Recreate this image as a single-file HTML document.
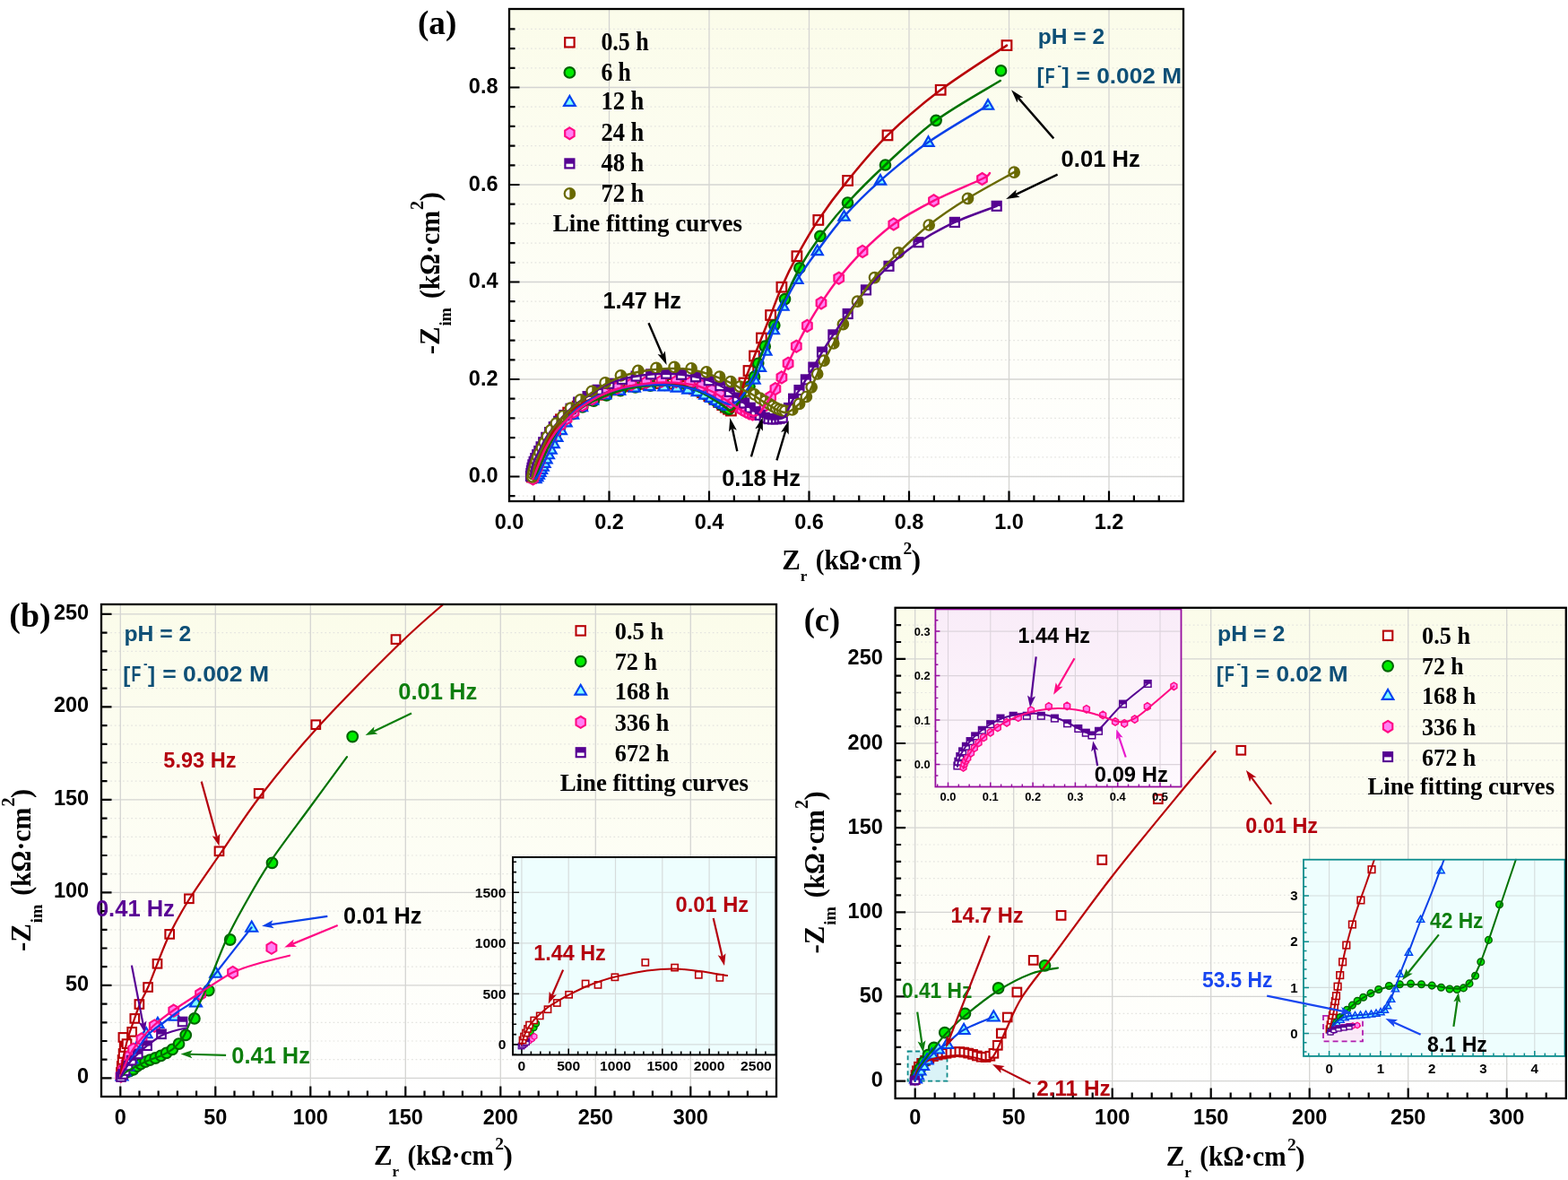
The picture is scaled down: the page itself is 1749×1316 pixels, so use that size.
<!DOCTYPE html><html><head><meta charset="utf-8"><title>EIS Nyquist plots</title><style>html,body{margin:0;padding:0;background:#fff;overflow:hidden}svg{display:block}</style></head><body><svg width="1749" height="1316" viewBox="0 0 1749 1316"><defs><linearGradient id="bgA" x1="0" y1="0" x2="0" y2="1"><stop offset="0" stop-color="#FBFCEA"/><stop offset="1" stop-color="#FFFFFF"/></linearGradient><linearGradient id="bgP" x1="0" y1="0" x2="0" y2="1"><stop offset="0" stop-color="#F9ECF8"/><stop offset="1" stop-color="#FEF9FE"/></linearGradient></defs><rect width="1749" height="1316" fill="#fff"/><g id="panel-a">
<rect x="568" y="10" width="752" height="549" fill="url(#bgA)"/>
<line x1="569" y1="553.2" x2="1319" y2="553.2" stroke="#E4E4E0" stroke-width="1.2" stroke-dasharray="1.7,2.9"/>
<line x1="569" y1="509.8" x2="1319" y2="509.8" stroke="#E4E4E0" stroke-width="1.2" stroke-dasharray="1.7,2.9"/>
<line x1="569" y1="488.1" x2="1319" y2="488.1" stroke="#E4E4E0" stroke-width="1.2" stroke-dasharray="1.7,2.9"/>
<line x1="569" y1="466.4" x2="1319" y2="466.4" stroke="#E4E4E0" stroke-width="1.2" stroke-dasharray="1.7,2.9"/>
<line x1="569" y1="444.7" x2="1319" y2="444.7" stroke="#E4E4E0" stroke-width="1.2" stroke-dasharray="1.7,2.9"/>
<line x1="569" y1="401.3" x2="1319" y2="401.3" stroke="#E4E4E0" stroke-width="1.2" stroke-dasharray="1.7,2.9"/>
<line x1="569" y1="379.6" x2="1319" y2="379.6" stroke="#E4E4E0" stroke-width="1.2" stroke-dasharray="1.7,2.9"/>
<line x1="569" y1="357.9" x2="1319" y2="357.9" stroke="#E4E4E0" stroke-width="1.2" stroke-dasharray="1.7,2.9"/>
<line x1="569" y1="336.2" x2="1319" y2="336.2" stroke="#E4E4E0" stroke-width="1.2" stroke-dasharray="1.7,2.9"/>
<line x1="569" y1="292.8" x2="1319" y2="292.8" stroke="#E4E4E0" stroke-width="1.2" stroke-dasharray="1.7,2.9"/>
<line x1="569" y1="271.1" x2="1319" y2="271.1" stroke="#E4E4E0" stroke-width="1.2" stroke-dasharray="1.7,2.9"/>
<line x1="569" y1="249.4" x2="1319" y2="249.4" stroke="#E4E4E0" stroke-width="1.2" stroke-dasharray="1.7,2.9"/>
<line x1="569" y1="227.7" x2="1319" y2="227.7" stroke="#E4E4E0" stroke-width="1.2" stroke-dasharray="1.7,2.9"/>
<line x1="569" y1="184.3" x2="1319" y2="184.3" stroke="#E4E4E0" stroke-width="1.2" stroke-dasharray="1.7,2.9"/>
<line x1="569" y1="162.6" x2="1319" y2="162.6" stroke="#E4E4E0" stroke-width="1.2" stroke-dasharray="1.7,2.9"/>
<line x1="569" y1="140.9" x2="1319" y2="140.9" stroke="#E4E4E0" stroke-width="1.2" stroke-dasharray="1.7,2.9"/>
<line x1="569" y1="119.2" x2="1319" y2="119.2" stroke="#E4E4E0" stroke-width="1.2" stroke-dasharray="1.7,2.9"/>
<line x1="569" y1="75.8" x2="1319" y2="75.8" stroke="#E4E4E0" stroke-width="1.2" stroke-dasharray="1.7,2.9"/>
<line x1="569" y1="54.1" x2="1319" y2="54.1" stroke="#E4E4E0" stroke-width="1.2" stroke-dasharray="1.7,2.9"/>
<line x1="569" y1="32.4" x2="1319" y2="32.4" stroke="#E4E4E0" stroke-width="1.2" stroke-dasharray="1.7,2.9"/>
<line x1="569" y1="531.5" x2="1319" y2="531.5" stroke="#D4D4D2" stroke-width="1.3"/>
<line x1="569" y1="423" x2="1319" y2="423" stroke="#D4D4D2" stroke-width="1.3"/>
<line x1="569" y1="314.5" x2="1319" y2="314.5" stroke="#D4D4D2" stroke-width="1.3"/>
<line x1="569" y1="206" x2="1319" y2="206" stroke="#D4D4D2" stroke-width="1.3"/>
<line x1="569" y1="97.5" x2="1319" y2="97.5" stroke="#D4D4D2" stroke-width="1.3"/>
<line x1="679.5" y1="11" x2="679.5" y2="558" stroke="#D4D4D2" stroke-width="1.3"/>
<line x1="791" y1="11" x2="791" y2="558" stroke="#D4D4D2" stroke-width="1.3"/>
<line x1="902.5" y1="11" x2="902.5" y2="558" stroke="#D4D4D2" stroke-width="1.3"/>
<line x1="1014" y1="11" x2="1014" y2="558" stroke="#D4D4D2" stroke-width="1.3"/>
<line x1="1125.5" y1="11" x2="1125.5" y2="558" stroke="#D4D4D2" stroke-width="1.3"/>
<line x1="1237" y1="11" x2="1237" y2="558" stroke="#D4D4D2" stroke-width="1.3"/>
<path d="M568,531.5 h11.5 M568,423 h11.5 M568,314.5 h11.5 M568,206 h11.5 M568,97.5 h11.5" stroke="#000" stroke-width="2.2" fill="none"/>
<path d="M568,553.2 h6.5 M568,509.8 h6.5 M568,488.1 h6.5 M568,466.4 h6.5 M568,444.7 h6.5 M568,401.3 h6.5 M568,379.6 h6.5 M568,357.9 h6.5 M568,336.2 h6.5 M568,292.8 h6.5 M568,271.1 h6.5 M568,249.4 h6.5 M568,227.7 h6.5 M568,184.3 h6.5 M568,162.6 h6.5 M568,140.9 h6.5 M568,119.2 h6.5 M568,75.8 h6.5 M568,54.1 h6.5 M568,32.4 h6.5" stroke="#000" stroke-width="2.2" fill="none"/>
<path d="M679.5,559 v-11.5 M791,559 v-11.5 M902.5,559 v-11.5 M1014,559 v-11.5 M1125.5,559 v-11.5 M1237,559 v-11.5" stroke="#000" stroke-width="2.2" fill="none"/>
<path d="M595.88,559 v-6.5 M623.75,559 v-6.5 M651.62,559 v-6.5 M707.38,559 v-6.5 M735.25,559 v-6.5 M763.12,559 v-6.5 M818.88,559 v-6.5 M846.75,559 v-6.5 M874.62,559 v-6.5 M930.38,559 v-6.5 M958.25,559 v-6.5 M986.12,559 v-6.5 M1041.88,559 v-6.5 M1069.75,559 v-6.5 M1097.62,559 v-6.5 M1153.38,559 v-6.5 M1181.25,559 v-6.5 M1209.13,559 v-6.5 M1264.88,559 v-6.5 M1292.75,559 v-6.5" stroke="#000" stroke-width="2.2" fill="none"/>
</g>
<text x="555.5" y="538.1" font-family="'Liberation Sans', Arial, sans-serif" font-size="23.5" font-weight="bold" fill="#000" text-anchor="end">0.0</text>
<text x="555.5" y="429.6" font-family="'Liberation Sans', Arial, sans-serif" font-size="23.5" font-weight="bold" fill="#000" text-anchor="end">0.2</text>
<text x="555.5" y="321.1" font-family="'Liberation Sans', Arial, sans-serif" font-size="23.5" font-weight="bold" fill="#000" text-anchor="end">0.4</text>
<text x="555.5" y="212.6" font-family="'Liberation Sans', Arial, sans-serif" font-size="23.5" font-weight="bold" fill="#000" text-anchor="end">0.6</text>
<text x="555.5" y="104.1" font-family="'Liberation Sans', Arial, sans-serif" font-size="23.5" font-weight="bold" fill="#000" text-anchor="end">0.8</text>
<text x="568" y="589.6" font-family="'Liberation Sans', Arial, sans-serif" font-size="23.5" font-weight="bold" fill="#000" text-anchor="middle">0.0</text>
<text x="679.5" y="589.6" font-family="'Liberation Sans', Arial, sans-serif" font-size="23.5" font-weight="bold" fill="#000" text-anchor="middle">0.2</text>
<text x="791" y="589.6" font-family="'Liberation Sans', Arial, sans-serif" font-size="23.5" font-weight="bold" fill="#000" text-anchor="middle">0.4</text>
<text x="902.5" y="589.6" font-family="'Liberation Sans', Arial, sans-serif" font-size="23.5" font-weight="bold" fill="#000" text-anchor="middle">0.6</text>
<text x="1014" y="589.6" font-family="'Liberation Sans', Arial, sans-serif" font-size="23.5" font-weight="bold" fill="#000" text-anchor="middle">0.8</text>
<text x="1125.5" y="589.6" font-family="'Liberation Sans', Arial, sans-serif" font-size="23.5" font-weight="bold" fill="#000" text-anchor="middle">1.0</text>
<text x="1237" y="589.6" font-family="'Liberation Sans', Arial, sans-serif" font-size="23.5" font-weight="bold" fill="#000" text-anchor="middle">1.2</text>
<g id="series-a">
<g><rect x="588.2" y="526.7" width="10.6" height="10.6" fill="#fff" stroke="#B80006" stroke-width="2.2"/><rect x="589.22" y="523.88" width="10.6" height="10.6" fill="#fff" stroke="#B80006" stroke-width="2.2"/><rect x="590.29" y="520.92" width="10.6" height="10.6" fill="#fff" stroke="#B80006" stroke-width="2.2"/><rect x="591.45" y="517.74" width="10.6" height="10.6" fill="#fff" stroke="#B80006" stroke-width="2.2"/><rect x="592.72" y="514.3" width="10.6" height="10.6" fill="#fff" stroke="#B80006" stroke-width="2.2"/><rect x="594.14" y="510.53" width="10.6" height="10.6" fill="#fff" stroke="#B80006" stroke-width="2.2"/><rect x="595.68" y="506.37" width="10.6" height="10.6" fill="#fff" stroke="#B80006" stroke-width="2.2"/><rect x="597.45" y="501.76" width="10.6" height="10.6" fill="#fff" stroke="#B80006" stroke-width="2.2"/><rect x="599.69" y="496.72" width="10.6" height="10.6" fill="#fff" stroke="#B80006" stroke-width="2.2"/><rect x="602.49" y="491.21" width="10.6" height="10.6" fill="#fff" stroke="#B80006" stroke-width="2.2"/><rect x="605.87" y="485.11" width="10.6" height="10.6" fill="#fff" stroke="#B80006" stroke-width="2.2"/><rect x="609.91" y="478.36" width="10.6" height="10.6" fill="#fff" stroke="#B80006" stroke-width="2.2"/><rect x="614.46" y="470.73" width="10.6" height="10.6" fill="#fff" stroke="#B80006" stroke-width="2.2"/><rect x="620.17" y="462.49" width="10.6" height="10.6" fill="#fff" stroke="#B80006" stroke-width="2.2"/><rect x="628.4" y="454.8" width="10.6" height="10.6" fill="#fff" stroke="#B80006" stroke-width="2.2"/><rect x="638.89" y="447.81" width="10.6" height="10.6" fill="#fff" stroke="#B80006" stroke-width="2.2"/><rect x="651.09" y="441.06" width="10.6" height="10.6" fill="#fff" stroke="#B80006" stroke-width="2.2"/><rect x="664.99" y="434.98" width="10.6" height="10.6" fill="#fff" stroke="#B80006" stroke-width="2.2"/><rect x="680.24" y="429.57" width="10.6" height="10.6" fill="#fff" stroke="#B80006" stroke-width="2.2"/><rect x="696.55" y="425.46" width="10.6" height="10.6" fill="#fff" stroke="#B80006" stroke-width="2.2"/><rect x="713.36" y="423.03" width="10.6" height="10.6" fill="#fff" stroke="#B80006" stroke-width="2.2"/><rect x="729.75" y="422.13" width="10.6" height="10.6" fill="#fff" stroke="#B80006" stroke-width="2.2"/><rect x="744.89" y="422.85" width="10.6" height="10.6" fill="#fff" stroke="#B80006" stroke-width="2.2"/><rect x="758.16" y="425.05" width="10.6" height="10.6" fill="#fff" stroke="#B80006" stroke-width="2.2"/><rect x="769.21" y="428.59" width="10.6" height="10.6" fill="#fff" stroke="#B80006" stroke-width="2.2"/><rect x="778.27" y="432.42" width="10.6" height="10.6" fill="#fff" stroke="#B80006" stroke-width="2.2"/><rect x="785.58" y="436.32" width="10.6" height="10.6" fill="#fff" stroke="#B80006" stroke-width="2.2"/><rect x="791.53" y="439.97" width="10.6" height="10.6" fill="#fff" stroke="#B80006" stroke-width="2.2"/><rect x="796.44" y="443.25" width="10.6" height="10.6" fill="#fff" stroke="#B80006" stroke-width="2.2"/><rect x="800.46" y="446.3" width="10.6" height="10.6" fill="#fff" stroke="#B80006" stroke-width="2.2"/><rect x="803.97" y="448.88" width="10.6" height="10.6" fill="#fff" stroke="#B80006" stroke-width="2.2"/><rect x="807.18" y="450.96" width="10.6" height="10.6" fill="#fff" stroke="#B80006" stroke-width="2.2"/><rect x="810.09" y="452.73" width="10.6" height="10.6" fill="#fff" stroke="#B80006" stroke-width="2.2"/><rect x="818.7" y="441.7" width="10.6" height="10.6" fill="#fff" stroke="#B80006" stroke-width="2.2"/><rect x="824.7" y="421.7" width="10.6" height="10.6" fill="#fff" stroke="#B80006" stroke-width="2.2"/><rect x="829.7" y="408.2" width="10.6" height="10.6" fill="#fff" stroke="#B80006" stroke-width="2.2"/><rect x="836.2" y="391.7" width="10.6" height="10.6" fill="#fff" stroke="#B80006" stroke-width="2.2"/><rect x="844.1" y="371.7" width="10.6" height="10.6" fill="#fff" stroke="#B80006" stroke-width="2.2"/><rect x="854.3" y="346.2" width="10.6" height="10.6" fill="#fff" stroke="#B80006" stroke-width="2.2"/><rect x="866.6" y="314.9" width="10.6" height="10.6" fill="#fff" stroke="#B80006" stroke-width="2.2"/><rect x="883.6" y="280.4" width="10.6" height="10.6" fill="#fff" stroke="#B80006" stroke-width="2.2"/><rect x="907.5" y="240.1" width="10.6" height="10.6" fill="#fff" stroke="#B80006" stroke-width="2.2"/><rect x="940.3" y="196.1" width="10.6" height="10.6" fill="#fff" stroke="#B80006" stroke-width="2.2"/><rect x="984.7" y="145.6" width="10.6" height="10.6" fill="#fff" stroke="#B80006" stroke-width="2.2"/><rect x="1043.9" y="95" width="10.6" height="10.6" fill="#fff" stroke="#B80006" stroke-width="2.2"/><rect x="1117.7" y="45.3" width="10.6" height="10.6" fill="#fff" stroke="#B80006" stroke-width="2.2"/></g>
<g><circle cx="595.5" cy="533.5" r="5.75" fill="#00EC00" stroke="#006400" stroke-width="2.2"/><circle cx="597.18" cy="531.02" r="5.75" fill="#00EC00" stroke="#006400" stroke-width="2.2"/><circle cx="598.67" cy="528.24" r="5.75" fill="#00EC00" stroke="#006400" stroke-width="2.2"/><circle cx="600.1" cy="525.16" r="5.75" fill="#00EC00" stroke="#006400" stroke-width="2.2"/><circle cx="601.56" cy="521.77" r="5.75" fill="#00EC00" stroke="#006400" stroke-width="2.2"/><circle cx="603.13" cy="518.03" r="5.75" fill="#00EC00" stroke="#006400" stroke-width="2.2"/><circle cx="604.85" cy="513.89" r="5.75" fill="#00EC00" stroke="#006400" stroke-width="2.2"/><circle cx="606.8" cy="509.28" r="5.75" fill="#00EC00" stroke="#006400" stroke-width="2.2"/><circle cx="609.05" cy="504.15" r="5.75" fill="#00EC00" stroke="#006400" stroke-width="2.2"/><circle cx="611.77" cy="498.46" r="5.75" fill="#00EC00" stroke="#006400" stroke-width="2.2"/><circle cx="615.07" cy="492.14" r="5.75" fill="#00EC00" stroke="#006400" stroke-width="2.2"/><circle cx="619.11" cy="485.16" r="5.75" fill="#00EC00" stroke="#006400" stroke-width="2.2"/><circle cx="624.23" cy="477.59" r="5.75" fill="#00EC00" stroke="#006400" stroke-width="2.2"/><circle cx="630.81" cy="469.63" r="5.75" fill="#00EC00" stroke="#006400" stroke-width="2.2"/><circle cx="639.3" cy="461.68" r="5.75" fill="#00EC00" stroke="#006400" stroke-width="2.2"/><circle cx="649.77" cy="454" r="5.75" fill="#00EC00" stroke="#006400" stroke-width="2.2"/><circle cx="662.31" cy="447.05" r="5.75" fill="#00EC00" stroke="#006400" stroke-width="2.2"/><circle cx="676.57" cy="440.88" r="5.75" fill="#00EC00" stroke="#006400" stroke-width="2.2"/><circle cx="692.14" cy="435.55" r="5.75" fill="#00EC00" stroke="#006400" stroke-width="2.2"/><circle cx="708.69" cy="431.97" r="5.75" fill="#00EC00" stroke="#006400" stroke-width="2.2"/><circle cx="725.44" cy="430.1" r="5.75" fill="#00EC00" stroke="#006400" stroke-width="2.2"/><circle cx="741.4" cy="429.45" r="5.75" fill="#00EC00" stroke="#006400" stroke-width="2.2"/><circle cx="755.83" cy="430.25" r="5.75" fill="#00EC00" stroke="#006400" stroke-width="2.2"/><circle cx="768.25" cy="432.31" r="5.75" fill="#00EC00" stroke="#006400" stroke-width="2.2"/><circle cx="778.36" cy="435.89" r="5.75" fill="#00EC00" stroke="#006400" stroke-width="2.2"/><circle cx="786.51" cy="439.76" r="5.75" fill="#00EC00" stroke="#006400" stroke-width="2.2"/><circle cx="793.03" cy="443.6" r="5.75" fill="#00EC00" stroke="#006400" stroke-width="2.2"/><circle cx="798.35" cy="447.08" r="5.75" fill="#00EC00" stroke="#006400" stroke-width="2.2"/><circle cx="802.81" cy="450.09" r="5.75" fill="#00EC00" stroke="#006400" stroke-width="2.2"/><circle cx="806.57" cy="452.77" r="5.75" fill="#00EC00" stroke="#006400" stroke-width="2.2"/><circle cx="809.93" cy="454.96" r="5.75" fill="#00EC00" stroke="#006400" stroke-width="2.2"/><circle cx="813.18" cy="456.33" r="5.75" fill="#00EC00" stroke="#006400" stroke-width="2.2"/><circle cx="827" cy="445" r="5.75" fill="#00EC00" stroke="#006400" stroke-width="2.2"/><circle cx="836" cy="431" r="5.75" fill="#00EC00" stroke="#006400" stroke-width="2.2"/><circle cx="841.5" cy="420.2" r="5.75" fill="#00EC00" stroke="#006400" stroke-width="2.2"/><circle cx="845.7" cy="405.3" r="5.75" fill="#00EC00" stroke="#006400" stroke-width="2.2"/><circle cx="853.2" cy="386.2" r="5.75" fill="#00EC00" stroke="#006400" stroke-width="2.2"/><circle cx="863.8" cy="362.8" r="5.75" fill="#00EC00" stroke="#006400" stroke-width="2.2"/><circle cx="875.5" cy="333.6" r="5.75" fill="#00EC00" stroke="#006400" stroke-width="2.2"/><circle cx="891.9" cy="298.9" r="5.75" fill="#00EC00" stroke="#006400" stroke-width="2.2"/><circle cx="914.9" cy="263.4" r="5.75" fill="#00EC00" stroke="#006400" stroke-width="2.2"/><circle cx="945.5" cy="226" r="5.75" fill="#00EC00" stroke="#006400" stroke-width="2.2"/><circle cx="987.5" cy="184" r="5.75" fill="#00EC00" stroke="#006400" stroke-width="2.2"/><circle cx="1044.1" cy="134.3" r="5.75" fill="#00EC00" stroke="#006400" stroke-width="2.2"/><circle cx="1116.5" cy="78.9" r="5.75" fill="#00EC00" stroke="#006400" stroke-width="2.2"/></g>
<g><polygon points="597.5,527.66 603.6,538.23 591.4,538.23" fill="#80FFFF" stroke="#0040F0" stroke-width="2.2" stroke-linejoin="miter"/><polygon points="599.23,525.52 605.33,536.09 593.13,536.09" fill="#80FFFF" stroke="#0040F0" stroke-width="2.2" stroke-linejoin="miter"/><polygon points="600.81,523.11 606.91,533.67 594.71,533.67" fill="#80FFFF" stroke="#0040F0" stroke-width="2.2" stroke-linejoin="miter"/><polygon points="602.34,520.39 608.44,530.96 596.24,530.96" fill="#80FFFF" stroke="#0040F0" stroke-width="2.2" stroke-linejoin="miter"/><polygon points="603.91,517.37 610.01,527.93 597.81,527.93" fill="#80FFFF" stroke="#0040F0" stroke-width="2.2" stroke-linejoin="miter"/><polygon points="605.59,513.99 611.69,524.56 599.49,524.56" fill="#80FFFF" stroke="#0040F0" stroke-width="2.2" stroke-linejoin="miter"/><polygon points="607.43,510.21 613.53,520.78 601.33,520.78" fill="#80FFFF" stroke="#0040F0" stroke-width="2.2" stroke-linejoin="miter"/><polygon points="609.49,505.78 615.59,516.35 603.39,516.35" fill="#80FFFF" stroke="#0040F0" stroke-width="2.2" stroke-linejoin="miter"/><polygon points="611.82,500.69 617.92,511.25 605.72,511.25" fill="#80FFFF" stroke="#0040F0" stroke-width="2.2" stroke-linejoin="miter"/><polygon points="614.53,495 620.63,505.56 608.43,505.56" fill="#80FFFF" stroke="#0040F0" stroke-width="2.2" stroke-linejoin="miter"/><polygon points="617.64,488.59 623.74,499.16 611.54,499.16" fill="#80FFFF" stroke="#0040F0" stroke-width="2.2" stroke-linejoin="miter"/><polygon points="621.27,481.4 627.37,491.96 615.17,491.96" fill="#80FFFF" stroke="#0040F0" stroke-width="2.2" stroke-linejoin="miter"/><polygon points="625.81,473.48 631.91,484.05 619.71,484.05" fill="#80FFFF" stroke="#0040F0" stroke-width="2.2" stroke-linejoin="miter"/><polygon points="631.5,464.87 637.6,475.44 625.4,475.44" fill="#80FFFF" stroke="#0040F0" stroke-width="2.2" stroke-linejoin="miter"/><polygon points="638.97,455.99 645.07,466.55 632.87,466.55" fill="#80FFFF" stroke="#0040F0" stroke-width="2.2" stroke-linejoin="miter"/><polygon points="648.94,447.7 655.04,458.27 642.84,458.27" fill="#80FFFF" stroke="#0040F0" stroke-width="2.2" stroke-linejoin="miter"/><polygon points="661.01,440 667.11,450.56 654.91,450.56" fill="#80FFFF" stroke="#0040F0" stroke-width="2.2" stroke-linejoin="miter"/><polygon points="675.27,433.92 681.37,444.48 669.17,444.48" fill="#80FFFF" stroke="#0040F0" stroke-width="2.2" stroke-linejoin="miter"/><polygon points="691.07,429.35 697.17,439.92 684.97,439.92" fill="#80FFFF" stroke="#0040F0" stroke-width="2.2" stroke-linejoin="miter"/><polygon points="707.67,425.97 713.77,436.54 701.57,436.54" fill="#80FFFF" stroke="#0040F0" stroke-width="2.2" stroke-linejoin="miter"/><polygon points="724.47,424.64 730.57,435.21 718.37,435.21" fill="#80FFFF" stroke="#0040F0" stroke-width="2.2" stroke-linejoin="miter"/><polygon points="740.46,424.77 746.56,435.34 734.36,435.34" fill="#80FFFF" stroke="#0040F0" stroke-width="2.2" stroke-linejoin="miter"/><polygon points="754.89,426.07 760.99,436.64 748.79,436.64" fill="#80FFFF" stroke="#0040F0" stroke-width="2.2" stroke-linejoin="miter"/><polygon points="767.37,428.09 773.47,438.65 761.27,438.65" fill="#80FFFF" stroke="#0040F0" stroke-width="2.2" stroke-linejoin="miter"/><polygon points="777.83,430.66 783.93,441.22 771.73,441.22" fill="#80FFFF" stroke="#0040F0" stroke-width="2.2" stroke-linejoin="miter"/><polygon points="786.26,433.96 792.36,444.53 780.16,444.53" fill="#80FFFF" stroke="#0040F0" stroke-width="2.2" stroke-linejoin="miter"/><polygon points="793.12,437.21 799.22,447.78 787.02,447.78" fill="#80FFFF" stroke="#0040F0" stroke-width="2.2" stroke-linejoin="miter"/><polygon points="798.66,440.38 804.76,450.94 792.56,450.94" fill="#80FFFF" stroke="#0040F0" stroke-width="2.2" stroke-linejoin="miter"/><polygon points="803.47,442.85 809.57,453.42 797.37,453.42" fill="#80FFFF" stroke="#0040F0" stroke-width="2.2" stroke-linejoin="miter"/><polygon points="807.71,444.7 813.81,455.27 801.61,455.27" fill="#80FFFF" stroke="#0040F0" stroke-width="2.2" stroke-linejoin="miter"/><polygon points="811.51,446.03 817.61,456.59 805.41,456.59" fill="#80FFFF" stroke="#0040F0" stroke-width="2.2" stroke-linejoin="miter"/><polygon points="815.01,446.45 821.11,457.01 808.91,457.01" fill="#80FFFF" stroke="#0040F0" stroke-width="2.2" stroke-linejoin="miter"/><polygon points="825,438.66 831.1,449.23 818.9,449.23" fill="#80FFFF" stroke="#0040F0" stroke-width="2.2" stroke-linejoin="miter"/><polygon points="833,428.66 839.1,439.23 826.9,439.23" fill="#80FFFF" stroke="#0040F0" stroke-width="2.2" stroke-linejoin="miter"/><polygon points="841.5,417.06 847.6,427.63 835.4,427.63" fill="#80FFFF" stroke="#0040F0" stroke-width="2.2" stroke-linejoin="miter"/><polygon points="847.9,403.26 854,413.83 841.8,413.83" fill="#80FFFF" stroke="#0040F0" stroke-width="2.2" stroke-linejoin="miter"/><polygon points="854.3,385.16 860.4,395.73 848.2,395.73" fill="#80FFFF" stroke="#0040F0" stroke-width="2.2" stroke-linejoin="miter"/><polygon points="862.8,361.66 868.9,372.23 856.7,372.23" fill="#80FFFF" stroke="#0040F0" stroke-width="2.2" stroke-linejoin="miter"/><polygon points="873.4,335.16 879.5,345.73 867.3,345.73" fill="#80FFFF" stroke="#0040F0" stroke-width="2.2" stroke-linejoin="miter"/><polygon points="889.4,305.36 895.5,315.93 883.3,315.93" fill="#80FFFF" stroke="#0040F0" stroke-width="2.2" stroke-linejoin="miter"/><polygon points="911.7,273.46 917.8,284.03 905.6,284.03" fill="#80FFFF" stroke="#0040F0" stroke-width="2.2" stroke-linejoin="miter"/><polygon points="941.5,235.16 947.6,245.73 935.4,245.73" fill="#80FFFF" stroke="#0040F0" stroke-width="2.2" stroke-linejoin="miter"/><polygon points="982,195.06 988.1,205.63 975.9,205.63" fill="#80FFFF" stroke="#0040F0" stroke-width="2.2" stroke-linejoin="miter"/><polygon points="1035.5,152.26 1041.6,162.83 1029.4,162.83" fill="#80FFFF" stroke="#0040F0" stroke-width="2.2" stroke-linejoin="miter"/><polygon points="1102,111.16 1108.1,121.73 1095.9,121.73" fill="#80FFFF" stroke="#0040F0" stroke-width="2.2" stroke-linejoin="miter"/></g>
<g><polygon points="594.5,527.5 599.79,530.75 599.79,537.25 594.5,540.5 589.21,537.25 589.21,530.75" fill="#FF80F4" stroke="#FF0A84" stroke-width="2.2"/><polygon points="595.57,524.5 600.87,527.75 600.87,534.25 595.57,537.5 590.28,534.25 590.28,527.75" fill="#FF80F4" stroke="#FF0A84" stroke-width="2.2"/><polygon points="596.75,521.39 602.04,524.64 602.04,531.14 596.75,534.39 591.46,531.14 591.46,524.64" fill="#FF80F4" stroke="#FF0A84" stroke-width="2.2"/><polygon points="598,518.1 603.3,521.35 603.3,527.85 598,531.1 592.71,527.85 592.71,521.35" fill="#FF80F4" stroke="#FF0A84" stroke-width="2.2"/><polygon points="599.32,514.57 604.61,517.82 604.61,524.32 599.32,527.57 594.03,524.32 594.03,517.82" fill="#FF80F4" stroke="#FF0A84" stroke-width="2.2"/><polygon points="600.75,510.75 606.04,514 606.04,520.5 600.75,523.75 595.46,520.5 595.46,514" fill="#FF80F4" stroke="#FF0A84" stroke-width="2.2"/><polygon points="602.32,506.6 607.61,509.85 607.61,516.35 602.32,519.6 597.02,516.35 597.02,509.85" fill="#FF80F4" stroke="#FF0A84" stroke-width="2.2"/><polygon points="604.07,502.09 609.36,505.34 609.36,511.84 604.07,515.09 598.78,511.84 598.78,505.34" fill="#FF80F4" stroke="#FF0A84" stroke-width="2.2"/><polygon points="606.07,497.28 611.36,500.53 611.36,507.03 606.07,510.28 600.78,507.03 600.78,500.53" fill="#FF80F4" stroke="#FF0A84" stroke-width="2.2"/><polygon points="608.45,492.12 613.74,495.37 613.74,501.87 608.45,505.12 603.15,501.87 603.15,495.37" fill="#FF80F4" stroke="#FF0A84" stroke-width="2.2"/><polygon points="611.39,486.53 616.68,489.78 616.68,496.28 611.39,499.53 606.1,496.28 606.1,489.78" fill="#FF80F4" stroke="#FF0A84" stroke-width="2.2"/><polygon points="615.05,480.51 620.34,483.76 620.34,490.26 615.05,493.51 609.76,490.26 609.76,483.76" fill="#FF80F4" stroke="#FF0A84" stroke-width="2.2"/><polygon points="619.57,474.08 624.86,477.33 624.86,483.83 619.57,487.08 614.28,483.83 614.28,477.33" fill="#FF80F4" stroke="#FF0A84" stroke-width="2.2"/><polygon points="625.16,467.29 630.45,470.54 630.45,477.04 625.16,480.29 619.87,477.04 619.87,470.54" fill="#FF80F4" stroke="#FF0A84" stroke-width="2.2"/><polygon points="632.07,460.31 637.36,463.56 637.36,470.06 632.07,473.31 626.78,470.06 626.78,463.56" fill="#FF80F4" stroke="#FF0A84" stroke-width="2.2"/><polygon points="640.04,452.82 645.33,456.07 645.33,462.57 640.04,465.82 634.75,462.57 634.75,456.07" fill="#FF80F4" stroke="#FF0A84" stroke-width="2.2"/><polygon points="649.57,445.32 654.86,448.57 654.86,455.07 649.57,458.32 644.28,455.07 644.28,448.57" fill="#FF80F4" stroke="#FF0A84" stroke-width="2.2"/><polygon points="660.78,438.09 666.08,441.34 666.08,447.84 660.78,451.09 655.49,447.84 655.49,441.34" fill="#FF80F4" stroke="#FF0A84" stroke-width="2.2"/><polygon points="673.63,431.32 678.92,434.57 678.92,441.07 673.63,444.32 668.34,441.07 668.34,434.57" fill="#FF80F4" stroke="#FF0A84" stroke-width="2.2"/><polygon points="688.27,426.01 693.56,429.26 693.56,435.76 688.27,439.01 682.98,435.76 682.98,429.26" fill="#FF80F4" stroke="#FF0A84" stroke-width="2.2"/><polygon points="704.22,422.18 709.51,425.43 709.51,431.93 704.22,435.18 698.92,431.93 698.92,425.43" fill="#FF80F4" stroke="#FF0A84" stroke-width="2.2"/><polygon points="720.95,419.86 726.24,423.11 726.24,429.61 720.95,432.86 715.66,429.61 715.66,423.11" fill="#FF80F4" stroke="#FF0A84" stroke-width="2.2"/><polygon points="737.87,418.65 743.16,421.9 743.16,428.4 737.87,431.65 732.58,428.4 732.58,421.9" fill="#FF80F4" stroke="#FF0A84" stroke-width="2.2"/><polygon points="754.29,418.97 759.58,422.22 759.58,428.72 754.29,431.97 749,428.72 749,422.22" fill="#FF80F4" stroke="#FF0A84" stroke-width="2.2"/><polygon points="769.52,420.6 774.81,423.85 774.81,430.35 769.52,433.6 764.23,430.35 764.23,423.85" fill="#FF80F4" stroke="#FF0A84" stroke-width="2.2"/><polygon points="782.93,423.92 788.22,427.17 788.22,433.67 782.93,436.92 777.63,433.67 777.63,427.17" fill="#FF80F4" stroke="#FF0A84" stroke-width="2.2"/><polygon points="794.16,428.59 799.45,431.84 799.45,438.34 794.16,441.59 788.87,438.34 788.87,431.84" fill="#FF80F4" stroke="#FF0A84" stroke-width="2.2"/><polygon points="803.26,433.89 808.55,437.14 808.55,443.64 803.26,446.89 797.97,443.64 797.97,437.14" fill="#FF80F4" stroke="#FF0A84" stroke-width="2.2"/><polygon points="810.83,438.85 816.12,442.1 816.12,448.6 810.83,451.85 805.54,448.6 805.54,442.1" fill="#FF80F4" stroke="#FF0A84" stroke-width="2.2"/><polygon points="817.26,443.17 822.55,446.42 822.55,452.92 817.26,456.17 811.97,452.92 811.97,446.42" fill="#FF80F4" stroke="#FF0A84" stroke-width="2.2"/><polygon points="822.78,446.87 828.07,450.12 828.07,456.62 822.78,459.87 817.49,456.62 817.49,450.12" fill="#FF80F4" stroke="#FF0A84" stroke-width="2.2"/><polygon points="827.56,450.05 832.85,453.3 832.85,459.8 827.56,463.05 822.26,459.8 822.26,453.3" fill="#FF80F4" stroke="#FF0A84" stroke-width="2.2"/><polygon points="831.88,452.53 837.17,455.78 837.17,462.28 831.88,465.53 826.59,462.28 826.59,455.78" fill="#FF80F4" stroke="#FF0A84" stroke-width="2.2"/><polygon points="835.79,454.47 841.08,457.72 841.08,464.22 835.79,467.47 830.5,464.22 830.5,457.72" fill="#FF80F4" stroke="#FF0A84" stroke-width="2.2"/><polygon points="839.5,455.54 844.8,458.79 844.8,465.29 839.5,468.54 834.21,465.29 834.21,458.79" fill="#FF80F4" stroke="#FF0A84" stroke-width="2.2"/><polygon points="842.94,455.05 848.23,458.3 848.23,464.8 842.94,468.05 837.64,464.8 837.64,458.3" fill="#FF80F4" stroke="#FF0A84" stroke-width="2.2"/><polygon points="845.95,454.01 851.24,457.26 851.24,463.76 845.95,467.01 840.66,463.76 840.66,457.26" fill="#FF80F4" stroke="#FF0A84" stroke-width="2.2"/><polygon points="853,446 858.29,449.25 858.29,455.75 853,459 847.71,455.75 847.71,449.25" fill="#FF80F4" stroke="#FF0A84" stroke-width="2.2"/><polygon points="859.6,436.1 864.89,439.35 864.89,445.85 859.6,449.1 854.31,445.85 854.31,439.35" fill="#FF80F4" stroke="#FF0A84" stroke-width="2.2"/><polygon points="864.9,427.1 870.19,430.35 870.19,436.85 864.9,440.1 859.61,436.85 859.61,430.35" fill="#FF80F4" stroke="#FF0A84" stroke-width="2.2"/><polygon points="871.9,414.4 877.19,417.65 877.19,424.15 871.9,427.4 866.61,424.15 866.61,417.65" fill="#FF80F4" stroke="#FF0A84" stroke-width="2.2"/><polygon points="879.1,398.8 884.39,402.05 884.39,408.55 879.1,411.8 873.81,408.55 873.81,402.05" fill="#FF80F4" stroke="#FF0A84" stroke-width="2.2"/><polygon points="888.3,379.7 893.59,382.95 893.59,389.45 888.3,392.7 883.01,389.45 883.01,382.95" fill="#FF80F4" stroke="#FF0A84" stroke-width="2.2"/><polygon points="900.4,356.9 905.69,360.15 905.69,366.65 900.4,369.9 895.11,366.65 895.11,360.15" fill="#FF80F4" stroke="#FF0A84" stroke-width="2.2"/><polygon points="916,331.4 921.29,334.65 921.29,341.15 916,344.4 910.71,341.15 910.71,334.65" fill="#FF80F4" stroke="#FF0A84" stroke-width="2.2"/><polygon points="935.7,303.7 940.99,306.95 940.99,313.45 935.7,316.7 930.41,313.45 930.41,306.95" fill="#FF80F4" stroke="#FF0A84" stroke-width="2.2"/><polygon points="962.1,273.9 967.39,277.15 967.39,283.65 962.1,286.9 956.81,283.65 956.81,277.15" fill="#FF80F4" stroke="#FF0A84" stroke-width="2.2"/><polygon points="996.8,243.5 1002.09,246.75 1002.09,253.25 996.8,256.5 991.51,253.25 991.51,246.75" fill="#FF80F4" stroke="#FF0A84" stroke-width="2.2"/><polygon points="1041.5,217.3 1046.79,220.55 1046.79,227.05 1041.5,230.3 1036.21,227.05 1036.21,220.55" fill="#FF80F4" stroke="#FF0A84" stroke-width="2.2"/><polygon points="1095.5,193 1100.79,196.25 1100.79,202.75 1095.5,206 1090.21,202.75 1090.21,196.25" fill="#FF80F4" stroke="#FF0A84" stroke-width="2.2"/></g>
<g><rect x="587" y="526" width="10" height="10" fill="#fff" stroke="#560092" stroke-width="2.2"/><rect x="587" y="526" width="10" height="5.25" fill="#560092"/><rect x="587.46" y="523.04" width="10" height="10" fill="#fff" stroke="#560092" stroke-width="2.2"/><rect x="587.46" y="523.04" width="10" height="5.25" fill="#560092"/><rect x="587.93" y="519.96" width="10" height="10" fill="#fff" stroke="#560092" stroke-width="2.2"/><rect x="587.93" y="519.96" width="10" height="5.25" fill="#560092"/><rect x="588.54" y="516.73" width="10" height="10" fill="#fff" stroke="#560092" stroke-width="2.2"/><rect x="588.54" y="516.73" width="10" height="5.25" fill="#560092"/><rect x="589.4" y="513.35" width="10" height="10" fill="#fff" stroke="#560092" stroke-width="2.2"/><rect x="589.4" y="513.35" width="10" height="5.25" fill="#560092"/><rect x="590.66" y="509.83" width="10" height="10" fill="#fff" stroke="#560092" stroke-width="2.2"/><rect x="590.66" y="509.83" width="10" height="5.25" fill="#560092"/><rect x="592.29" y="506.14" width="10" height="10" fill="#fff" stroke="#560092" stroke-width="2.2"/><rect x="592.29" y="506.14" width="10" height="5.25" fill="#560092"/><rect x="594.2" y="502.21" width="10" height="10" fill="#fff" stroke="#560092" stroke-width="2.2"/><rect x="594.2" y="502.21" width="10" height="5.25" fill="#560092"/><rect x="596.31" y="497.96" width="10" height="10" fill="#fff" stroke="#560092" stroke-width="2.2"/><rect x="596.31" y="497.96" width="10" height="5.25" fill="#560092"/><rect x="598.61" y="493.31" width="10" height="10" fill="#fff" stroke="#560092" stroke-width="2.2"/><rect x="598.61" y="493.31" width="10" height="5.25" fill="#560092"/><rect x="601.22" y="488.27" width="10" height="10" fill="#fff" stroke="#560092" stroke-width="2.2"/><rect x="601.22" y="488.27" width="10" height="5.25" fill="#560092"/><rect x="604.3" y="482.85" width="10" height="10" fill="#fff" stroke="#560092" stroke-width="2.2"/><rect x="604.3" y="482.85" width="10" height="5.25" fill="#560092"/><rect x="608.12" y="477.14" width="10" height="10" fill="#fff" stroke="#560092" stroke-width="2.2"/><rect x="608.12" y="477.14" width="10" height="5.25" fill="#560092"/><rect x="612.78" y="471.17" width="10" height="10" fill="#fff" stroke="#560092" stroke-width="2.2"/><rect x="612.78" y="471.17" width="10" height="5.25" fill="#560092"/><rect x="618.2" y="464.8" width="10" height="10" fill="#fff" stroke="#560092" stroke-width="2.2"/><rect x="618.2" y="464.8" width="10" height="5.25" fill="#560092"/><rect x="624.43" y="458" width="10" height="10" fill="#fff" stroke="#560092" stroke-width="2.2"/><rect x="624.43" y="458" width="10" height="5.25" fill="#560092"/><rect x="631.6" y="450.77" width="10" height="10" fill="#fff" stroke="#560092" stroke-width="2.2"/><rect x="631.6" y="450.77" width="10" height="5.25" fill="#560092"/><rect x="640.19" y="443.62" width="10" height="10" fill="#fff" stroke="#560092" stroke-width="2.2"/><rect x="640.19" y="443.62" width="10" height="5.25" fill="#560092"/><rect x="650.59" y="437.13" width="10" height="10" fill="#fff" stroke="#560092" stroke-width="2.2"/><rect x="650.59" y="437.13" width="10" height="5.25" fill="#560092"/><rect x="661.75" y="429.83" width="10" height="10" fill="#fff" stroke="#560092" stroke-width="2.2"/><rect x="661.75" y="429.83" width="10" height="5.25" fill="#560092"/><rect x="674.3" y="422.79" width="10" height="10" fill="#fff" stroke="#560092" stroke-width="2.2"/><rect x="674.3" y="422.79" width="10" height="5.25" fill="#560092"/><rect x="688.86" y="417.99" width="10" height="10" fill="#fff" stroke="#560092" stroke-width="2.2"/><rect x="688.86" y="417.99" width="10" height="5.25" fill="#560092"/><rect x="704.64" y="414.54" width="10" height="10" fill="#fff" stroke="#560092" stroke-width="2.2"/><rect x="704.64" y="414.54" width="10" height="5.25" fill="#560092"/><rect x="721.22" y="412.4" width="10" height="10" fill="#fff" stroke="#560092" stroke-width="2.2"/><rect x="721.22" y="412.4" width="10" height="5.25" fill="#560092"/><rect x="738.19" y="411.76" width="10" height="10" fill="#fff" stroke="#560092" stroke-width="2.2"/><rect x="738.19" y="411.76" width="10" height="5.25" fill="#560092"/><rect x="755.02" y="412.83" width="10" height="10" fill="#fff" stroke="#560092" stroke-width="2.2"/><rect x="755.02" y="412.83" width="10" height="5.25" fill="#560092"/><rect x="771.08" y="415.27" width="10" height="10" fill="#fff" stroke="#560092" stroke-width="2.2"/><rect x="771.08" y="415.27" width="10" height="5.25" fill="#560092"/><rect x="785.75" y="419.27" width="10" height="10" fill="#fff" stroke="#560092" stroke-width="2.2"/><rect x="785.75" y="419.27" width="10" height="5.25" fill="#560092"/><rect x="798.37" y="425.08" width="10" height="10" fill="#fff" stroke="#560092" stroke-width="2.2"/><rect x="798.37" y="425.08" width="10" height="5.25" fill="#560092"/><rect x="808.79" y="431.87" width="10" height="10" fill="#fff" stroke="#560092" stroke-width="2.2"/><rect x="808.79" y="431.87" width="10" height="5.25" fill="#560092"/><rect x="817.57" y="438.51" width="10" height="10" fill="#fff" stroke="#560092" stroke-width="2.2"/><rect x="817.57" y="438.51" width="10" height="5.25" fill="#560092"/><rect x="825.12" y="444.52" width="10" height="10" fill="#fff" stroke="#560092" stroke-width="2.2"/><rect x="825.12" y="444.52" width="10" height="5.25" fill="#560092"/><rect x="831.74" y="449.74" width="10" height="10" fill="#fff" stroke="#560092" stroke-width="2.2"/><rect x="831.74" y="449.74" width="10" height="5.25" fill="#560092"/><rect x="837.56" y="454.25" width="10" height="10" fill="#fff" stroke="#560092" stroke-width="2.2"/><rect x="837.56" y="454.25" width="10" height="5.25" fill="#560092"/><rect x="842.83" y="457.95" width="10" height="10" fill="#fff" stroke="#560092" stroke-width="2.2"/><rect x="842.83" y="457.95" width="10" height="5.25" fill="#560092"/><rect x="847.72" y="460.78" width="10" height="10" fill="#fff" stroke="#560092" stroke-width="2.2"/><rect x="847.72" y="460.78" width="10" height="5.25" fill="#560092"/><rect x="852.54" y="462.1" width="10" height="10" fill="#fff" stroke="#560092" stroke-width="2.2"/><rect x="852.54" y="462.1" width="10" height="5.25" fill="#560092"/><rect x="856.98" y="462.43" width="10" height="10" fill="#fff" stroke="#560092" stroke-width="2.2"/><rect x="856.98" y="462.43" width="10" height="5.25" fill="#560092"/><rect x="860.99" y="462.32" width="10" height="10" fill="#fff" stroke="#560092" stroke-width="2.2"/><rect x="860.99" y="462.32" width="10" height="5.25" fill="#560092"/><rect x="864.57" y="461.72" width="10" height="10" fill="#fff" stroke="#560092" stroke-width="2.2"/><rect x="864.57" y="461.72" width="10" height="5.25" fill="#560092"/><rect x="867.75" y="460.74" width="10" height="10" fill="#fff" stroke="#560092" stroke-width="2.2"/><rect x="867.75" y="460.74" width="10" height="5.25" fill="#560092"/><rect x="875" y="450" width="10" height="10" fill="#fff" stroke="#560092" stroke-width="2.2"/><rect x="875" y="450" width="10" height="5.25" fill="#560092"/><rect x="880.1" y="439.7" width="10" height="10" fill="#fff" stroke="#560092" stroke-width="2.2"/><rect x="880.1" y="439.7" width="10" height="5.25" fill="#560092"/><rect x="886.5" y="430.1" width="10" height="10" fill="#fff" stroke="#560092" stroke-width="2.2"/><rect x="886.5" y="430.1" width="10" height="5.25" fill="#560092"/><rect x="893.9" y="418.4" width="10" height="10" fill="#fff" stroke="#560092" stroke-width="2.2"/><rect x="893.9" y="418.4" width="10" height="5.25" fill="#560092"/><rect x="902.4" y="404.6" width="10" height="10" fill="#fff" stroke="#560092" stroke-width="2.2"/><rect x="902.4" y="404.6" width="10" height="5.25" fill="#560092"/><rect x="912" y="387.6" width="10" height="10" fill="#fff" stroke="#560092" stroke-width="2.2"/><rect x="912" y="387.6" width="10" height="5.25" fill="#560092"/><rect x="924.4" y="368.4" width="10" height="10" fill="#fff" stroke="#560092" stroke-width="2.2"/><rect x="924.4" y="368.4" width="10" height="5.25" fill="#560092"/><rect x="940.7" y="345" width="10" height="10" fill="#fff" stroke="#560092" stroke-width="2.2"/><rect x="940.7" y="345" width="10" height="5.25" fill="#560092"/><rect x="961" y="318.4" width="10" height="10" fill="#fff" stroke="#560092" stroke-width="2.2"/><rect x="961" y="318.4" width="10" height="5.25" fill="#560092"/><rect x="986.5" y="291.8" width="10" height="10" fill="#fff" stroke="#560092" stroke-width="2.2"/><rect x="986.5" y="291.8" width="10" height="5.25" fill="#560092"/><rect x="1019.5" y="265.2" width="10" height="10" fill="#fff" stroke="#560092" stroke-width="2.2"/><rect x="1019.5" y="265.2" width="10" height="5.25" fill="#560092"/><rect x="1059.9" y="242.9" width="10" height="10" fill="#fff" stroke="#560092" stroke-width="2.2"/><rect x="1059.9" y="242.9" width="10" height="5.25" fill="#560092"/><rect x="1106.7" y="224.8" width="10" height="10" fill="#fff" stroke="#560092" stroke-width="2.2"/><rect x="1106.7" y="224.8" width="10" height="5.25" fill="#560092"/></g>
<g><circle cx="593.7" cy="531.8" r="5.75" fill="#fff" stroke="#696900" stroke-width="2.2"/><path d="M593.7,526.05 A5.75,5.75 0 0 1 593.7,537.55 Z" fill="#696900"/><circle cx="594.39" cy="528.68" r="5.75" fill="#fff" stroke="#696900" stroke-width="2.2"/><path d="M594.39,522.93 A5.75,5.75 0 0 1 594.39,534.43 Z" fill="#696900"/><circle cx="595.12" cy="525.4" r="5.75" fill="#fff" stroke="#696900" stroke-width="2.2"/><path d="M595.12,519.65 A5.75,5.75 0 0 1 595.12,531.15 Z" fill="#696900"/><circle cx="595.93" cy="521.89" r="5.75" fill="#fff" stroke="#696900" stroke-width="2.2"/><path d="M595.93,516.14 A5.75,5.75 0 0 1 595.93,527.64 Z" fill="#696900"/><circle cx="596.91" cy="518.11" r="5.75" fill="#fff" stroke="#696900" stroke-width="2.2"/><path d="M596.91,512.36 A5.75,5.75 0 0 1 596.91,523.86 Z" fill="#696900"/><circle cx="598.19" cy="514.01" r="5.75" fill="#fff" stroke="#696900" stroke-width="2.2"/><path d="M598.19,508.26 A5.75,5.75 0 0 1 598.19,519.76 Z" fill="#696900"/><circle cx="599.9" cy="509.6" r="5.75" fill="#fff" stroke="#696900" stroke-width="2.2"/><path d="M599.9,503.85 A5.75,5.75 0 0 1 599.9,515.35 Z" fill="#696900"/><circle cx="602.05" cy="504.78" r="5.75" fill="#fff" stroke="#696900" stroke-width="2.2"/><path d="M602.05,499.03 A5.75,5.75 0 0 1 602.05,510.53 Z" fill="#696900"/><circle cx="604.48" cy="499.51" r="5.75" fill="#fff" stroke="#696900" stroke-width="2.2"/><path d="M604.48,493.76 A5.75,5.75 0 0 1 604.48,505.26 Z" fill="#696900"/><circle cx="607.22" cy="493.63" r="5.75" fill="#fff" stroke="#696900" stroke-width="2.2"/><path d="M607.22,487.88 A5.75,5.75 0 0 1 607.22,499.38 Z" fill="#696900"/><circle cx="610.45" cy="487.01" r="5.75" fill="#fff" stroke="#696900" stroke-width="2.2"/><path d="M610.45,481.26 A5.75,5.75 0 0 1 610.45,492.76 Z" fill="#696900"/><circle cx="614.52" cy="479.66" r="5.75" fill="#fff" stroke="#696900" stroke-width="2.2"/><path d="M614.52,473.91 A5.75,5.75 0 0 1 614.52,485.41 Z" fill="#696900"/><circle cx="620.35" cy="472.03" r="5.75" fill="#fff" stroke="#696900" stroke-width="2.2"/><path d="M620.35,466.28 A5.75,5.75 0 0 1 620.35,477.78 Z" fill="#696900"/><circle cx="627.82" cy="463.99" r="5.75" fill="#fff" stroke="#696900" stroke-width="2.2"/><path d="M627.82,458.24 A5.75,5.75 0 0 1 627.82,469.74 Z" fill="#696900"/><circle cx="636.62" cy="455.08" r="5.75" fill="#fff" stroke="#696900" stroke-width="2.2"/><path d="M636.62,449.33 A5.75,5.75 0 0 1 636.62,460.83 Z" fill="#696900"/><circle cx="647.44" cy="445.88" r="5.75" fill="#fff" stroke="#696900" stroke-width="2.2"/><path d="M647.44,440.13 A5.75,5.75 0 0 1 647.44,451.63 Z" fill="#696900"/><circle cx="660.22" cy="436.35" r="5.75" fill="#fff" stroke="#696900" stroke-width="2.2"/><path d="M660.22,430.6 A5.75,5.75 0 0 1 660.22,442.1 Z" fill="#696900"/><circle cx="675.11" cy="426.9" r="5.75" fill="#fff" stroke="#696900" stroke-width="2.2"/><path d="M675.11,421.15 A5.75,5.75 0 0 1 675.11,432.65 Z" fill="#696900"/><circle cx="692.42" cy="418.87" r="5.75" fill="#fff" stroke="#696900" stroke-width="2.2"/><path d="M692.42,413.12 A5.75,5.75 0 0 1 692.42,424.62 Z" fill="#696900"/><circle cx="711.78" cy="413.43" r="5.75" fill="#fff" stroke="#696900" stroke-width="2.2"/><path d="M711.78,407.68 A5.75,5.75 0 0 1 711.78,419.18 Z" fill="#696900"/><circle cx="732.04" cy="410.38" r="5.75" fill="#fff" stroke="#696900" stroke-width="2.2"/><path d="M732.04,404.63 A5.75,5.75 0 0 1 732.04,416.13 Z" fill="#696900"/><circle cx="752.14" cy="409.41" r="5.75" fill="#fff" stroke="#696900" stroke-width="2.2"/><path d="M752.14,403.66 A5.75,5.75 0 0 1 752.14,415.16 Z" fill="#696900"/><circle cx="771.11" cy="410.74" r="5.75" fill="#fff" stroke="#696900" stroke-width="2.2"/><path d="M771.11,404.99 A5.75,5.75 0 0 1 771.11,416.49 Z" fill="#696900"/><circle cx="788.01" cy="414.96" r="5.75" fill="#fff" stroke="#696900" stroke-width="2.2"/><path d="M788.01,409.21 A5.75,5.75 0 0 1 788.01,420.71 Z" fill="#696900"/><circle cx="802.63" cy="420.16" r="5.75" fill="#fff" stroke="#696900" stroke-width="2.2"/><path d="M802.63,414.41 A5.75,5.75 0 0 1 802.63,425.91 Z" fill="#696900"/><circle cx="815.05" cy="425.56" r="5.75" fill="#fff" stroke="#696900" stroke-width="2.2"/><path d="M815.05,419.81 A5.75,5.75 0 0 1 815.05,431.31 Z" fill="#696900"/><circle cx="825.28" cy="431.21" r="5.75" fill="#fff" stroke="#696900" stroke-width="2.2"/><path d="M825.28,425.46 A5.75,5.75 0 0 1 825.28,436.96 Z" fill="#696900"/><circle cx="834.14" cy="435.87" r="5.75" fill="#fff" stroke="#696900" stroke-width="2.2"/><path d="M834.14,430.12 A5.75,5.75 0 0 1 834.14,441.62 Z" fill="#696900"/><circle cx="841.69" cy="439.97" r="5.75" fill="#fff" stroke="#696900" stroke-width="2.2"/><path d="M841.69,434.22 A5.75,5.75 0 0 1 841.69,445.72 Z" fill="#696900"/><circle cx="847.73" cy="444.2" r="5.75" fill="#fff" stroke="#696900" stroke-width="2.2"/><path d="M847.73,438.45 A5.75,5.75 0 0 1 847.73,449.95 Z" fill="#696900"/><circle cx="853.17" cy="447.52" r="5.75" fill="#fff" stroke="#696900" stroke-width="2.2"/><path d="M853.17,441.77 A5.75,5.75 0 0 1 853.17,453.27 Z" fill="#696900"/><circle cx="857.96" cy="450.31" r="5.75" fill="#fff" stroke="#696900" stroke-width="2.2"/><path d="M857.96,444.56 A5.75,5.75 0 0 1 857.96,456.06 Z" fill="#696900"/><circle cx="862.02" cy="452.97" r="5.75" fill="#fff" stroke="#696900" stroke-width="2.2"/><path d="M862.02,447.22 A5.75,5.75 0 0 1 862.02,458.72 Z" fill="#696900"/><circle cx="865.69" cy="455.21" r="5.75" fill="#fff" stroke="#696900" stroke-width="2.2"/><path d="M865.69,449.46 A5.75,5.75 0 0 1 865.69,460.96 Z" fill="#696900"/><circle cx="869.27" cy="456.59" r="5.75" fill="#fff" stroke="#696900" stroke-width="2.2"/><path d="M869.27,450.84 A5.75,5.75 0 0 1 869.27,462.34 Z" fill="#696900"/><circle cx="872.6" cy="457.57" r="5.75" fill="#fff" stroke="#696900" stroke-width="2.2"/><path d="M872.6,451.82 A5.75,5.75 0 0 1 872.6,463.32 Z" fill="#696900"/><circle cx="875.69" cy="458.41" r="5.75" fill="#fff" stroke="#696900" stroke-width="2.2"/><path d="M875.69,452.66 A5.75,5.75 0 0 1 875.69,464.16 Z" fill="#696900"/><circle cx="883.8" cy="457" r="5.75" fill="#fff" stroke="#696900" stroke-width="2.2"/><path d="M883.8,451.25 A5.75,5.75 0 0 1 883.8,462.75 Z" fill="#696900"/><circle cx="891.6" cy="450.3" r="5.75" fill="#fff" stroke="#696900" stroke-width="2.2"/><path d="M891.6,444.55 A5.75,5.75 0 0 1 891.6,456.05 Z" fill="#696900"/><circle cx="899.4" cy="442.5" r="5.75" fill="#fff" stroke="#696900" stroke-width="2.2"/><path d="M899.4,436.75 A5.75,5.75 0 0 1 899.4,448.25 Z" fill="#696900"/><circle cx="905.2" cy="431.8" r="5.75" fill="#fff" stroke="#696900" stroke-width="2.2"/><path d="M905.2,426.05 A5.75,5.75 0 0 1 905.2,437.55 Z" fill="#696900"/><circle cx="911.7" cy="417" r="5.75" fill="#fff" stroke="#696900" stroke-width="2.2"/><path d="M911.7,411.25 A5.75,5.75 0 0 1 911.7,422.75 Z" fill="#696900"/><circle cx="919.1" cy="402.1" r="5.75" fill="#fff" stroke="#696900" stroke-width="2.2"/><path d="M919.1,396.35 A5.75,5.75 0 0 1 919.1,407.85 Z" fill="#696900"/><circle cx="929.8" cy="383" r="5.75" fill="#fff" stroke="#696900" stroke-width="2.2"/><path d="M929.8,377.25 A5.75,5.75 0 0 1 929.8,388.75 Z" fill="#696900"/><circle cx="940.4" cy="361.7" r="5.75" fill="#fff" stroke="#696900" stroke-width="2.2"/><path d="M940.4,355.95 A5.75,5.75 0 0 1 940.4,367.45 Z" fill="#696900"/><circle cx="956.4" cy="336.2" r="5.75" fill="#fff" stroke="#696900" stroke-width="2.2"/><path d="M956.4,330.45 A5.75,5.75 0 0 1 956.4,341.95 Z" fill="#696900"/><circle cx="975.5" cy="309.6" r="5.75" fill="#fff" stroke="#696900" stroke-width="2.2"/><path d="M975.5,303.85 A5.75,5.75 0 0 1 975.5,315.35 Z" fill="#696900"/><circle cx="1002.1" cy="281.9" r="5.75" fill="#fff" stroke="#696900" stroke-width="2.2"/><path d="M1002.1,276.15 A5.75,5.75 0 0 1 1002.1,287.65 Z" fill="#696900"/><circle cx="1036.2" cy="251" r="5.75" fill="#fff" stroke="#696900" stroke-width="2.2"/><path d="M1036.2,245.25 A5.75,5.75 0 0 1 1036.2,256.75 Z" fill="#696900"/><circle cx="1079.5" cy="221.3" r="5.75" fill="#fff" stroke="#696900" stroke-width="2.2"/><path d="M1079.5,215.55 A5.75,5.75 0 0 1 1079.5,227.05 Z" fill="#696900"/><circle cx="1131.2" cy="192.1" r="5.75" fill="#fff" stroke="#696900" stroke-width="2.2"/><path d="M1131.2,186.35 A5.75,5.75 0 0 1 1131.2,197.85 Z" fill="#696900"/></g>
<path d="M593.5,532 C594.42,529.5 597.08,522 599,517 C600.92,512 602.33,507.5 605,502 C607.67,496.5 611.17,490.17 615,484 C618.83,477.83 622.4,470.58 628,465 C633.6,459.42 641.43,454.67 648.6,450.5 C655.77,446.33 663.43,443 671,440 C678.57,437 686.33,434.42 694,432.5 C701.67,430.58 709.33,429.33 717,428.5 C724.67,427.67 732.5,427.25 740,427.5 C747.5,427.75 755,428.42 762,430 C769,431.58 776,434.33 782,437 C788,439.67 793.5,443.17 798,446 C802.5,448.83 805.83,451.83 809,454 C812.17,456.17 814.5,460.17 817,459 C819.5,457.83 821.83,452.33 824,447 C826.17,441.67 828.17,432.58 830,427 C831.83,421.42 833.08,418.5 835,413.5 C836.92,408.5 839.1,403.08 841.5,397 C843.9,390.92 846.38,384.58 849.4,377 C852.42,369.42 855.85,360.97 859.6,351.5 C863.35,342.03 867.02,331.17 871.9,320.2 C876.78,309.23 882.08,298.17 888.9,285.7 C895.72,273.23 903.35,259.45 912.8,245.4 C922.25,231.35 932.73,217.15 945.6,201.4 C958.47,185.65 972.73,167.75 990,150.9 C1007.27,134.05 1027.03,117.02 1049.2,100.3 C1071.37,83.58 1110.7,58.88 1123,50.6" fill="none" stroke="#B80006" stroke-width="2.5" stroke-linejoin="round" stroke-linecap="round"/>
<path d="M595.5,533.5 C596.17,532.33 596.92,532.08 599.5,526.5 C602.08,520.92 607.17,507.75 611,500 C614.83,492.25 618.42,485.83 622.5,480 C626.58,474.17 630.42,469.67 635.5,465 C640.58,460.33 646.42,455.92 653,452 C659.58,448.08 667.5,444.5 675,441.5 C682.5,438.5 690.33,435.83 698,434 C705.67,432.17 713.33,431.25 721,430.5 C728.67,429.75 736.33,429.25 744,429.5 C751.67,429.75 760.17,430.42 767,432 C773.83,433.58 779.67,436.42 785,439 C790.33,441.58 794.83,444.83 799,447.5 C803.17,450.17 807.17,453.42 810,455 C812.83,456.58 813.17,458.67 816,457 C818.83,455.33 823.67,449.33 827,445 C830.33,440.67 833.58,435.13 836,431 C838.42,426.87 839.88,424.48 841.5,420.2 C843.12,415.92 843.75,410.97 845.7,405.3 C847.65,399.63 850.18,393.28 853.2,386.2 C856.22,379.12 860.08,371.57 863.8,362.8 C867.52,354.03 870.82,344.25 875.5,333.6 C880.18,322.95 885.33,310.6 891.9,298.9 C898.47,287.2 905.97,275.55 914.9,263.4 C923.83,251.25 933.4,239.23 945.5,226 C957.6,212.77 971.07,199.28 987.5,184 C1003.93,168.72 1022.72,149.97 1044.1,134.3 C1065.48,118.63 1103.85,97.38 1115.8,90" fill="none" stroke="#007200" stroke-width="2.5" stroke-linejoin="round" stroke-linecap="round"/>
<path d="M597.5,534 C598.25,532.75 599.2,532.2 602,526.5 C604.8,520.8 610.35,507.88 614.3,499.8 C618.25,491.72 621.5,484.67 625.7,478 C629.9,471.33 633.78,465.32 639.5,459.8 C645.22,454.28 653.33,448.72 660,444.9 C666.67,441.08 671.87,439.28 679.5,436.9 C687.13,434.52 697.6,431.93 705.8,430.6 C714,429.27 721.08,429 728.7,428.9 C736.32,428.8 743.88,429.15 751.5,430 C759.12,430.85 767.98,432.33 774.4,434 C780.82,435.67 785.4,437.92 790,440 C794.6,442.08 798.33,444.75 802,446.5 C805.67,448.25 809.33,449.83 812,450.5 C814.67,451.17 815.83,451.42 818,450.5 C820.17,449.58 822.5,447.58 825,445 C827.5,442.42 830.25,438.6 833,435 C835.75,431.4 839.02,427.63 841.5,423.4 C843.98,419.17 845.77,414.92 847.9,409.6 C850.03,404.28 851.82,398.43 854.3,391.5 C856.78,384.57 859.62,376.33 862.8,368 C865.98,359.67 868.97,350.88 873.4,341.5 C877.83,332.12 883.02,321.98 889.4,311.7 C895.78,301.42 903.02,291.5 911.7,279.8 C920.38,268.1 929.78,254.57 941.5,241.5 C953.22,228.43 966.33,215.22 982,201.4 C997.67,187.58 1015.5,172.58 1035.5,158.6 C1055.5,144.62 1090.92,124.35 1102,117.5" fill="none" stroke="#0A40E8" stroke-width="2.5" stroke-linejoin="round" stroke-linecap="round"/>
<path d="M594.5,534 C594.95,532.87 594.85,532.9 597.2,527.2 C599.55,521.5 604.8,507.42 608.6,499.8 C612.4,492.18 616,486.83 620,481.5 C624,476.17 627.83,472.38 632.6,467.8 C637.37,463.22 642.12,458.58 648.6,454 C655.08,449.42 663.87,443.92 671.5,440.3 C679.13,436.68 686.78,434.3 694.4,432.3 C702.02,430.3 709.58,429.25 717.2,428.3 C724.82,427.35 732.47,426.7 740.1,426.6 C747.73,426.5 756.35,426.97 763,427.7 C769.65,428.43 774.67,429.45 780,431 C785.33,432.55 790.33,434.67 795,437 C799.67,439.33 803.83,442.33 808,445 C812.17,447.67 816.33,450.58 820,453 C823.67,455.42 826.82,457.75 830,459.5 C833.18,461.25 836.43,463.08 839.1,463.5 C841.77,463.92 843.68,463.83 846,462 C848.32,460.17 850.73,455.73 853,452.5 C855.27,449.27 857.62,445.75 859.6,442.6 C861.58,439.45 862.85,437.22 864.9,433.6 C866.95,429.98 869.53,425.62 871.9,420.9 C874.27,416.18 876.37,411.08 879.1,405.3 C881.83,399.52 884.75,393.18 888.3,386.2 C891.85,379.22 895.78,371.45 900.4,363.4 C905.02,355.35 910.12,346.77 916,337.9 C921.88,329.03 928.02,319.78 935.7,310.2 C943.38,300.62 951.92,290.43 962.1,280.4 C972.28,270.37 983.57,259.43 996.8,250 C1010.03,240.57 1025.05,232.22 1041.5,223.8 C1057.95,215.38 1085.08,204.63 1095.5,199.5 C1105.92,194.37 1102.58,194.08 1104,193" fill="none" stroke="#FF0A84" stroke-width="2.5" stroke-linejoin="round" stroke-linecap="round"/>
<path d="M592,531 C592.42,528.83 593.07,522.43 594.5,518 C595.93,513.57 598.07,509.53 600.6,504.4 C603.13,499.27 606.47,492.35 609.7,487.2 C612.93,482.05 616,478.27 620,473.5 C624,468.73 629.7,462.6 633.7,458.6 C637.7,454.6 640.45,452.18 644,449.5 C647.55,446.82 649.08,446.13 655,442.5 C660.92,438.87 671.03,431.4 679.5,427.7 C687.97,424 697.6,422.05 705.8,420.3 C714,418.55 721.33,417.75 728.7,417.2 C736.07,416.65 742.78,416.62 750,417 C757.22,417.38 765.33,418.33 772,419.5 C778.67,420.67 784.5,422.08 790,424 C795.5,425.92 800.33,428.33 805,431 C809.67,433.67 813.5,436.67 818,440 C822.5,443.33 827.5,447.5 832,451 C836.5,454.5 841.22,458.42 845,461 C848.78,463.58 851.15,465.45 854.7,466.5 C858.25,467.55 862.92,467.55 866.3,467.3 C869.68,467.05 872.72,467.05 875,465 C877.28,462.95 878.32,458.38 880,455 C881.68,451.62 883.18,448.02 885.1,444.7 C887.02,441.38 889.2,438.65 891.5,435.1 C893.8,431.55 896.25,427.65 898.9,423.4 C901.55,419.15 904.38,414.73 907.4,409.6 C910.42,404.47 913.33,398.63 917,392.6 C920.67,386.57 924.62,380.5 929.4,373.4 C934.18,366.3 939.6,358.33 945.7,350 C951.8,341.67 958.37,332.27 966,323.4 C973.63,314.53 981.75,305.67 991.5,296.8 C1001.25,287.93 1012.27,278.35 1024.5,270.2 C1036.73,262.05 1050.37,254.63 1064.9,247.9 C1079.43,241.17 1103.9,232.82 1111.7,229.8" fill="none" stroke="#560092" stroke-width="2.5" stroke-linejoin="round" stroke-linecap="round"/>
<path d="M593.7,531.8 C594.33,529.33 595.97,521.57 597.5,517 C599.03,512.43 600.1,510.32 602.9,504.4 C605.7,498.48 610.5,487.6 614.3,481.5 C618.1,475.4 621.5,472.38 625.7,467.8 C629.9,463.22 633.78,458.97 639.5,454 C645.22,449.03 652.77,442.95 660,438 C667.23,433.05 675.27,427.92 682.9,424.3 C690.53,420.68 698.17,418.3 705.8,416.3 C713.43,414.3 722.03,413.18 728.7,412.3 C735.37,411.42 739.55,411.13 745.8,411 C752.05,410.87 759.72,410.75 766.2,411.5 C772.68,412.25 778.87,413.9 784.7,415.5 C790.53,417.1 795.85,419.03 801.2,421.1 C806.55,423.17 812.35,425.72 816.8,427.9 C821.25,430.08 824.02,432.1 827.9,434.2 C831.78,436.3 836.62,438.47 840.1,440.5 C843.58,442.53 845.72,444.45 848.8,446.4 C851.88,448.35 855.68,450.43 858.6,452.2 C861.52,453.97 863.4,455.7 866.3,457 C869.2,458.3 873.08,460 876,460 C878.92,460 881.2,458.62 883.8,457 C886.4,455.38 889,452.72 891.6,450.3 C894.2,447.88 897.13,445.58 899.4,442.5 C901.67,439.42 903.15,436.05 905.2,431.8 C907.25,427.55 909.38,421.95 911.7,417 C914.02,412.05 916.08,407.77 919.1,402.1 C922.12,396.43 926.25,389.73 929.8,383 C933.35,376.27 935.97,369.5 940.4,361.7 C944.83,353.9 950.55,344.88 956.4,336.2 C962.25,327.52 967.88,318.65 975.5,309.6 C983.12,300.55 991.98,291.67 1002.1,281.9 C1012.22,272.13 1023.3,261.1 1036.2,251 C1049.1,240.9 1063.67,231.12 1079.5,221.3 C1095.33,211.48 1122.58,196.97 1131.2,192.1" fill="none" stroke="#696900" stroke-width="2.5" stroke-linejoin="round" stroke-linecap="round"/>
</g>
<rect x="568" y="10" width="752" height="549" fill="none" stroke="#000" stroke-width="2.3"/>
<rect x="630.2" y="42.1" width="10.4" height="10.4" fill="#fff" stroke="#B80006" stroke-width="2.2"/>
<text x="670.4" y="55.9" font-family="'Liberation Serif', 'Times New Roman', serif" font-size="28.5" font-weight="bold" fill="#000" text-anchor="start" textLength="53.4" lengthAdjust="spacingAndGlyphs">0.5 h</text>
<circle cx="635.4" cy="80.9" r="5.85" fill="#00EC00" stroke="#006400" stroke-width="2.2"/>
<text x="670.4" y="89.5" font-family="'Liberation Serif', 'Times New Roman', serif" font-size="28.5" font-weight="bold" fill="#000" text-anchor="start" textLength="33.5" lengthAdjust="spacingAndGlyphs">6 h</text>
<polygon points="635.4,106.95 641.7,117.86 629.1,117.86" fill="#80FFFF" stroke="#0040F0" stroke-width="2.2" stroke-linejoin="miter"/>
<text x="670.4" y="122.1" font-family="'Liberation Serif', 'Times New Roman', serif" font-size="28.5" font-weight="bold" fill="#000" text-anchor="start" textLength="47.9" lengthAdjust="spacingAndGlyphs">12 h</text>
<polygon points="635.4,142.4 640.61,145.6 640.61,152 635.4,155.2 630.19,152 630.19,145.6" fill="#FF80F4" stroke="#FF0A84" stroke-width="2.2"/>
<text x="670.4" y="157.4" font-family="'Liberation Serif', 'Times New Roman', serif" font-size="28.5" font-weight="bold" fill="#000" text-anchor="start" textLength="47.9" lengthAdjust="spacingAndGlyphs">24 h</text>
<rect x="630.4" y="177.4" width="10" height="10" fill="#fff" stroke="#560092" stroke-width="2.2"/><rect x="630.4" y="177.4" width="10" height="5.25" fill="#560092"/>
<text x="670.4" y="191" font-family="'Liberation Serif', 'Times New Roman', serif" font-size="28.5" font-weight="bold" fill="#000" text-anchor="start" textLength="47.9" lengthAdjust="spacingAndGlyphs">48 h</text>
<circle cx="635.4" cy="215.9" r="5.7" fill="#fff" stroke="#696900" stroke-width="2.2"/><path d="M635.4,210.2 A5.7,5.7 0 0 1 635.4,221.6 Z" fill="#696900"/>
<text x="670.4" y="224.5" font-family="'Liberation Serif', 'Times New Roman', serif" font-size="28.5" font-weight="bold" fill="#000" text-anchor="start" textLength="47.9" lengthAdjust="spacingAndGlyphs">72 h</text>
<text x="616.8" y="257.8" font-family="'Liberation Serif', 'Times New Roman', serif" font-size="27" font-weight="bold" fill="#000" text-anchor="start" textLength="211.3" lengthAdjust="spacingAndGlyphs">Line fitting curves</text>
<text x="1157.8" y="48.7" font-family="'Liberation Sans', Arial, sans-serif" font-size="24.4" font-weight="bold" fill="#0E4F76" text-anchor="start" textLength="74.4" lengthAdjust="spacingAndGlyphs">pH = 2</text>
<g font-family="'Liberation Sans', Arial, sans-serif" font-weight="bold" fill="#0E4F76">
<text x="1156.6" y="93" font-size="24.4">[</text>
<text x="1165.8" y="92.7" font-size="24.4" textLength="10.8" lengthAdjust="spacingAndGlyphs">F</text>
<text x="1179.4" y="77.5" font-size="15.13" textLength="4.6" lengthAdjust="spacingAndGlyphs">-</text>
<text x="1184.4" y="93" font-size="24.4">]</text>
<text x="1200.6" y="92.7" font-size="24.4" textLength="117.5" lengthAdjust="spacingAndGlyphs">= 0.002 M</text>
</g>
<text x="1183.6" y="185.7" font-family="'Liberation Sans', Arial, sans-serif" font-size="25.7" font-weight="bold" fill="#000" text-anchor="start" textLength="88.1" lengthAdjust="spacingAndGlyphs">0.01 Hz</text>
<text x="672.5" y="344.3" font-family="'Liberation Sans', Arial, sans-serif" font-size="25.7" font-weight="bold" fill="#000" text-anchor="start" textLength="87.5" lengthAdjust="spacingAndGlyphs">1.47 Hz</text>
<text x="805.2" y="541.6" font-family="'Liberation Sans', Arial, sans-serif" font-size="25.7" font-weight="bold" fill="#000" text-anchor="start" textLength="87.8" lengthAdjust="spacingAndGlyphs">0.18 Hz</text>
<line x1="723.5" y1="360.2" x2="738.98" y2="396.25" stroke="#000" stroke-width="2.4" stroke-linecap="butt"/>
<polygon points="743.6,407 733.55,394.99 738.98,396.25 741.82,391.44" fill="#000"/>
<line x1="1175.3" y1="154.4" x2="1135.79" y2="109.12" stroke="#000" stroke-width="2.4" stroke-linecap="butt"/>
<polygon points="1128.1,100.3 1141.35,108.64 1135.79,109.12 1134.57,114.56" fill="#000"/>
<line x1="1179.6" y1="194.7" x2="1132.66" y2="217.07" stroke="#000" stroke-width="2.4" stroke-linecap="butt"/>
<polygon points="1122.1,222.1 1133.71,211.58 1132.66,217.07 1137.58,219.71" fill="#000"/>
<line x1="822.3" y1="503.2" x2="816.76" y2="477.44" stroke="#000" stroke-width="2.4" stroke-linecap="butt"/>
<polygon points="814.3,466 821.85,479.72 816.76,477.44 813.05,481.61" fill="#000"/>
<line x1="837.9" y1="509.3" x2="847.52" y2="476.43" stroke="#000" stroke-width="2.4" stroke-linecap="butt"/>
<polygon points="850.8,465.2 850.91,480.86 847.52,476.43 842.27,478.33" fill="#000"/>
<line x1="866.4" y1="513.4" x2="876.34" y2="480.21" stroke="#000" stroke-width="2.4" stroke-linecap="butt"/>
<polygon points="879.7,469 879.71,484.66 876.34,480.21 871.08,482.08" fill="#000"/>
<text x="465.9" y="38.2" font-family="'Liberation Serif', 'Times New Roman', serif" font-size="38" font-weight="bold" fill="#000" text-anchor="start" textLength="43.4" lengthAdjust="spacingAndGlyphs">(a)</text>
<g transform="translate(489.5,395.3) rotate(-90)" font-family="'Liberation Serif', 'Times New Roman', serif" font-weight="bold" fill="#000">
<text x="0" y="0" font-size="32.5" textLength="31" lengthAdjust="spacingAndGlyphs">-Z</text>
<text x="31.8" y="13" font-size="19.5" textLength="20.5" lengthAdjust="spacingAndGlyphs">im</text>
<text x="62.2" y="0" font-size="32.5" textLength="98.1" lengthAdjust="spacingAndGlyphs">(kΩ·cm</text>
<text x="161.4" y="-17.6" font-size="20">2</text>
<text x="171" y="0" font-size="32.5" textLength="10" lengthAdjust="spacingAndGlyphs">)</text>
</g>
<g transform="translate(872.3,634.9)" font-family="'Liberation Serif', 'Times New Roman', serif" font-weight="bold" fill="#000">
<text x="0" y="0" font-size="30.5" textLength="20.6" lengthAdjust="spacingAndGlyphs">Z</text>
<text x="20.4" y="12.6" font-size="17.5" textLength="7.6" lengthAdjust="spacingAndGlyphs">r</text>
<text x="37.4" y="0" font-size="30.5" textLength="96.5" lengthAdjust="spacingAndGlyphs">(kΩ·cm</text>
<text x="135.2" y="-17.2" font-size="19.5">2</text>
<text x="144.2" y="0" font-size="30.5" textLength="10.6" lengthAdjust="spacingAndGlyphs">)</text>
</g>
<g id="panel-b">
<rect x="113" y="674" width="753" height="549" fill="url(#bgA)"/>
<line x1="114" y1="1181.7" x2="865" y2="1181.7" stroke="#E4E4E0" stroke-width="1.2" stroke-dasharray="1.7,2.9"/>
<line x1="114" y1="1161" x2="865" y2="1161" stroke="#E4E4E0" stroke-width="1.2" stroke-dasharray="1.7,2.9"/>
<line x1="114" y1="1140.3" x2="865" y2="1140.3" stroke="#E4E4E0" stroke-width="1.2" stroke-dasharray="1.7,2.9"/>
<line x1="114" y1="1119.6" x2="865" y2="1119.6" stroke="#E4E4E0" stroke-width="1.2" stroke-dasharray="1.7,2.9"/>
<line x1="114" y1="1078.2" x2="865" y2="1078.2" stroke="#E4E4E0" stroke-width="1.2" stroke-dasharray="1.7,2.9"/>
<line x1="114" y1="1057.5" x2="865" y2="1057.5" stroke="#E4E4E0" stroke-width="1.2" stroke-dasharray="1.7,2.9"/>
<line x1="114" y1="1036.8" x2="865" y2="1036.8" stroke="#E4E4E0" stroke-width="1.2" stroke-dasharray="1.7,2.9"/>
<line x1="114" y1="1016.1" x2="865" y2="1016.1" stroke="#E4E4E0" stroke-width="1.2" stroke-dasharray="1.7,2.9"/>
<line x1="114" y1="974.7" x2="865" y2="974.7" stroke="#E4E4E0" stroke-width="1.2" stroke-dasharray="1.7,2.9"/>
<line x1="114" y1="954" x2="865" y2="954" stroke="#E4E4E0" stroke-width="1.2" stroke-dasharray="1.7,2.9"/>
<line x1="114" y1="933.3" x2="865" y2="933.3" stroke="#E4E4E0" stroke-width="1.2" stroke-dasharray="1.7,2.9"/>
<line x1="114" y1="912.6" x2="865" y2="912.6" stroke="#E4E4E0" stroke-width="1.2" stroke-dasharray="1.7,2.9"/>
<line x1="114" y1="871.2" x2="865" y2="871.2" stroke="#E4E4E0" stroke-width="1.2" stroke-dasharray="1.7,2.9"/>
<line x1="114" y1="850.5" x2="865" y2="850.5" stroke="#E4E4E0" stroke-width="1.2" stroke-dasharray="1.7,2.9"/>
<line x1="114" y1="829.8" x2="865" y2="829.8" stroke="#E4E4E0" stroke-width="1.2" stroke-dasharray="1.7,2.9"/>
<line x1="114" y1="809.1" x2="865" y2="809.1" stroke="#E4E4E0" stroke-width="1.2" stroke-dasharray="1.7,2.9"/>
<line x1="114" y1="767.7" x2="865" y2="767.7" stroke="#E4E4E0" stroke-width="1.2" stroke-dasharray="1.7,2.9"/>
<line x1="114" y1="747" x2="865" y2="747" stroke="#E4E4E0" stroke-width="1.2" stroke-dasharray="1.7,2.9"/>
<line x1="114" y1="726.3" x2="865" y2="726.3" stroke="#E4E4E0" stroke-width="1.2" stroke-dasharray="1.7,2.9"/>
<line x1="114" y1="705.6" x2="865" y2="705.6" stroke="#E4E4E0" stroke-width="1.2" stroke-dasharray="1.7,2.9"/>
<line x1="114" y1="1202.4" x2="865" y2="1202.4" stroke="#D4D4D2" stroke-width="1.3"/>
<line x1="114" y1="1098.9" x2="865" y2="1098.9" stroke="#D4D4D2" stroke-width="1.3"/>
<line x1="114" y1="995.4" x2="865" y2="995.4" stroke="#D4D4D2" stroke-width="1.3"/>
<line x1="114" y1="891.9" x2="865" y2="891.9" stroke="#D4D4D2" stroke-width="1.3"/>
<line x1="114" y1="788.4" x2="865" y2="788.4" stroke="#D4D4D2" stroke-width="1.3"/>
<line x1="114" y1="684.9" x2="865" y2="684.9" stroke="#D4D4D2" stroke-width="1.3"/>
<line x1="134.3" y1="675" x2="134.3" y2="1222" stroke="#D4D4D2" stroke-width="1.3"/>
<line x1="240.3" y1="675" x2="240.3" y2="1222" stroke="#D4D4D2" stroke-width="1.3"/>
<line x1="346.3" y1="675" x2="346.3" y2="1222" stroke="#D4D4D2" stroke-width="1.3"/>
<line x1="452.3" y1="675" x2="452.3" y2="1222" stroke="#D4D4D2" stroke-width="1.3"/>
<line x1="558.3" y1="675" x2="558.3" y2="1222" stroke="#D4D4D2" stroke-width="1.3"/>
<line x1="664.3" y1="675" x2="664.3" y2="1222" stroke="#D4D4D2" stroke-width="1.3"/>
<line x1="770.3" y1="675" x2="770.3" y2="1222" stroke="#D4D4D2" stroke-width="1.3"/>
<path d="M113,1202.4 h11.5 M113,1098.9 h11.5 M113,995.4 h11.5 M113,891.9 h11.5 M113,788.4 h11.5 M113,684.9 h11.5" stroke="#000" stroke-width="2.2" fill="none"/>
<path d="M113,1181.7 h6.5 M113,1161 h6.5 M113,1140.3 h6.5 M113,1119.6 h6.5 M113,1078.2 h6.5 M113,1057.5 h6.5 M113,1036.8 h6.5 M113,1016.1 h6.5 M113,974.7 h6.5 M113,954 h6.5 M113,933.3 h6.5 M113,912.6 h6.5 M113,871.2 h6.5 M113,850.5 h6.5 M113,829.8 h6.5 M113,809.1 h6.5 M113,767.7 h6.5 M113,747 h6.5 M113,726.3 h6.5 M113,705.6 h6.5" stroke="#000" stroke-width="2.2" fill="none"/>
<path d="M134.3,1223 v-11.5 M240.3,1223 v-11.5 M346.3,1223 v-11.5 M452.3,1223 v-11.5 M558.3,1223 v-11.5 M664.3,1223 v-11.5 M770.3,1223 v-11.5" stroke="#000" stroke-width="2.2" fill="none"/>
<path d="M155.5,1223 v-6.5 M176.7,1223 v-6.5 M197.9,1223 v-6.5 M219.1,1223 v-6.5 M261.5,1223 v-6.5 M282.7,1223 v-6.5 M303.9,1223 v-6.5 M325.1,1223 v-6.5 M367.5,1223 v-6.5 M388.7,1223 v-6.5 M409.9,1223 v-6.5 M431.1,1223 v-6.5 M473.5,1223 v-6.5 M494.7,1223 v-6.5 M515.9,1223 v-6.5 M537.1,1223 v-6.5 M579.5,1223 v-6.5 M600.7,1223 v-6.5 M621.9,1223 v-6.5 M643.1,1223 v-6.5 M685.5,1223 v-6.5 M706.7,1223 v-6.5 M727.9,1223 v-6.5 M749.1,1223 v-6.5 M791.5,1223 v-6.5 M812.7,1223 v-6.5 M833.9,1223 v-6.5 M855.1,1223 v-6.5" stroke="#000" stroke-width="2.2" fill="none"/>
</g>
<text x="99.2" y="1208.2" font-family="'Liberation Sans', Arial, sans-serif" font-size="23.5" font-weight="bold" fill="#000" text-anchor="end">0</text>
<text x="99.2" y="1104.7" font-family="'Liberation Sans', Arial, sans-serif" font-size="23.5" font-weight="bold" fill="#000" text-anchor="end">50</text>
<text x="99.2" y="1001.2" font-family="'Liberation Sans', Arial, sans-serif" font-size="23.5" font-weight="bold" fill="#000" text-anchor="end">100</text>
<text x="99.2" y="897.7" font-family="'Liberation Sans', Arial, sans-serif" font-size="23.5" font-weight="bold" fill="#000" text-anchor="end">150</text>
<text x="99.2" y="794.2" font-family="'Liberation Sans', Arial, sans-serif" font-size="23.5" font-weight="bold" fill="#000" text-anchor="end">200</text>
<text x="99.2" y="690.7" font-family="'Liberation Sans', Arial, sans-serif" font-size="23.5" font-weight="bold" fill="#000" text-anchor="end">250</text>
<text x="134.3" y="1253.6" font-family="'Liberation Sans', Arial, sans-serif" font-size="23.5" font-weight="bold" fill="#000" text-anchor="middle">0</text>
<text x="240.3" y="1253.6" font-family="'Liberation Sans', Arial, sans-serif" font-size="23.5" font-weight="bold" fill="#000" text-anchor="middle">50</text>
<text x="346.3" y="1253.6" font-family="'Liberation Sans', Arial, sans-serif" font-size="23.5" font-weight="bold" fill="#000" text-anchor="middle">100</text>
<text x="452.3" y="1253.6" font-family="'Liberation Sans', Arial, sans-serif" font-size="23.5" font-weight="bold" fill="#000" text-anchor="middle">150</text>
<text x="558.3" y="1253.6" font-family="'Liberation Sans', Arial, sans-serif" font-size="23.5" font-weight="bold" fill="#000" text-anchor="middle">200</text>
<text x="664.3" y="1253.6" font-family="'Liberation Sans', Arial, sans-serif" font-size="23.5" font-weight="bold" fill="#000" text-anchor="middle">250</text>
<text x="770.3" y="1253.6" font-family="'Liberation Sans', Arial, sans-serif" font-size="23.5" font-weight="bold" fill="#000" text-anchor="middle">300</text>
<g id="series-b">
<g><rect x="130.2" y="1191.2" width="9.6" height="9.6" fill="#fff" stroke="#B80006" stroke-width="2.1"/><rect x="131" y="1184.2" width="9.6" height="9.6" fill="#fff" stroke="#B80006" stroke-width="2.1"/><rect x="131.8" y="1177.2" width="9.6" height="9.6" fill="#fff" stroke="#B80006" stroke-width="2.1"/><rect x="132.8" y="1170.2" width="9.6" height="9.6" fill="#fff" stroke="#B80006" stroke-width="2.1"/><rect x="133.9" y="1163.2" width="9.6" height="9.6" fill="#fff" stroke="#B80006" stroke-width="2.1"/><rect x="135.2" y="1157.2" width="9.6" height="9.6" fill="#fff" stroke="#B80006" stroke-width="2.1"/><rect x="132.6" y="1152.1" width="9.6" height="9.6" fill="#fff" stroke="#B80006" stroke-width="2.1"/><rect x="136.7" y="1159.3" width="9.6" height="9.6" fill="#fff" stroke="#B80006" stroke-width="2.1"/><rect x="142.4" y="1146" width="9.6" height="9.6" fill="#fff" stroke="#B80006" stroke-width="2.1"/><rect x="145.5" y="1131.1" width="9.6" height="9.6" fill="#fff" stroke="#B80006" stroke-width="2.1"/><rect x="150.6" y="1115.2" width="9.6" height="9.6" fill="#fff" stroke="#B80006" stroke-width="2.1"/><rect x="160.3" y="1096.2" width="9.6" height="9.6" fill="#fff" stroke="#B80006" stroke-width="2.1"/><rect x="170.7" y="1070" width="9.6" height="9.6" fill="#fff" stroke="#B80006" stroke-width="2.1"/><rect x="184.4" y="1037.1" width="9.6" height="9.6" fill="#fff" stroke="#B80006" stroke-width="2.1"/><rect x="206.1" y="997.5" width="9.6" height="9.6" fill="#fff" stroke="#B80006" stroke-width="2.1"/><rect x="239.7" y="944.5" width="9.6" height="9.6" fill="#fff" stroke="#B80006" stroke-width="2.1"/><rect x="283.9" y="880" width="9.6" height="9.6" fill="#fff" stroke="#B80006" stroke-width="2.1"/><rect x="347.5" y="803.4" width="9.6" height="9.6" fill="#fff" stroke="#B80006" stroke-width="2.1"/><rect x="436.7" y="708.3" width="9.6" height="9.6" fill="#fff" stroke="#B80006" stroke-width="2.1"/></g>
<g><circle cx="137" cy="1199" r="5.85" fill="#00EC00" stroke="#006400" stroke-width="2.1"/><circle cx="140.5" cy="1196" r="5.85" fill="#00EC00" stroke="#006400" stroke-width="2.1"/><circle cx="144.5" cy="1194.5" r="5.85" fill="#00EC00" stroke="#006400" stroke-width="2.1"/><circle cx="148.7" cy="1192.8" r="5.85" fill="#00EC00" stroke="#006400" stroke-width="2.1"/><circle cx="152.8" cy="1189.2" r="5.85" fill="#00EC00" stroke="#006400" stroke-width="2.1"/><circle cx="156.9" cy="1186.7" r="5.85" fill="#00EC00" stroke="#006400" stroke-width="2.1"/><circle cx="162.1" cy="1184.1" r="5.85" fill="#00EC00" stroke="#006400" stroke-width="2.1"/><circle cx="167.2" cy="1182.1" r="5.85" fill="#00EC00" stroke="#006400" stroke-width="2.1"/><circle cx="173.3" cy="1180" r="5.85" fill="#00EC00" stroke="#006400" stroke-width="2.1"/><circle cx="179.5" cy="1177.4" r="5.85" fill="#00EC00" stroke="#006400" stroke-width="2.1"/><circle cx="185.6" cy="1174.4" r="5.85" fill="#00EC00" stroke="#006400" stroke-width="2.1"/><circle cx="192.3" cy="1170.3" r="5.85" fill="#00EC00" stroke="#006400" stroke-width="2.1"/><circle cx="199.5" cy="1164.1" r="5.85" fill="#00EC00" stroke="#006400" stroke-width="2.1"/><circle cx="207.2" cy="1154.4" r="5.85" fill="#00EC00" stroke="#006400" stroke-width="2.1"/><circle cx="216.9" cy="1135.9" r="5.85" fill="#00EC00" stroke="#006400" stroke-width="2.1"/><circle cx="232.8" cy="1104.6" r="5.85" fill="#00EC00" stroke="#006400" stroke-width="2.1"/><circle cx="256.7" cy="1048" r="5.85" fill="#00EC00" stroke="#006400" stroke-width="2.1"/><circle cx="303.5" cy="962.3" r="5.85" fill="#00EC00" stroke="#006400" stroke-width="2.1"/><circle cx="393.2" cy="821.5" r="5.85" fill="#00EC00" stroke="#006400" stroke-width="2.1"/></g>
<g><polygon points="136,1193.25 142.5,1204.5 129.5,1204.5" fill="#80FFFF" stroke="#0040F0" stroke-width="2.1" stroke-linejoin="miter"/><polygon points="139,1188.25 145.5,1199.5 132.5,1199.5" fill="#80FFFF" stroke="#0040F0" stroke-width="2.1" stroke-linejoin="miter"/><polygon points="142.5,1182.25 149,1193.5 136,1193.5" fill="#80FFFF" stroke="#0040F0" stroke-width="2.1" stroke-linejoin="miter"/><polygon points="147,1174.25 153.5,1185.5 140.5,1185.5" fill="#80FFFF" stroke="#0040F0" stroke-width="2.1" stroke-linejoin="miter"/><polygon points="150.5,1165.25 157,1176.5 144,1176.5" fill="#80FFFF" stroke="#0040F0" stroke-width="2.1" stroke-linejoin="miter"/><polygon points="154.9,1157.35 161.4,1168.6 148.4,1168.6" fill="#80FFFF" stroke="#0040F0" stroke-width="2.1" stroke-linejoin="miter"/><polygon points="163.1,1146.05 169.6,1157.3 156.6,1157.3" fill="#80FFFF" stroke="#0040F0" stroke-width="2.1" stroke-linejoin="miter"/><polygon points="175.9,1134.75 182.4,1146 169.4,1146" fill="#80FFFF" stroke="#0040F0" stroke-width="2.1" stroke-linejoin="miter"/><polygon points="195.4,1126.55 201.9,1137.8 188.9,1137.8" fill="#80FFFF" stroke="#0040F0" stroke-width="2.1" stroke-linejoin="miter"/><polygon points="218.5,1111.25 225,1122.5 212,1122.5" fill="#80FFFF" stroke="#0040F0" stroke-width="2.1" stroke-linejoin="miter"/><polygon points="240.7,1078.55 247.2,1089.8 234.2,1089.8" fill="#80FFFF" stroke="#0040F0" stroke-width="2.1" stroke-linejoin="miter"/><polygon points="280.7,1027.55 287.2,1038.8 274.2,1038.8" fill="#80FFFF" stroke="#0040F0" stroke-width="2.1" stroke-linejoin="miter"/></g>
<g><polygon points="135,1193.35 140.41,1196.67 140.41,1203.33 135,1206.65 129.59,1203.33 129.59,1196.67" fill="#FF80F4" stroke="#FF0A84" stroke-width="2.1"/><polygon points="137.5,1186.35 142.91,1189.67 142.91,1196.33 137.5,1199.65 132.09,1196.33 132.09,1189.67" fill="#FF80F4" stroke="#FF0A84" stroke-width="2.1"/><polygon points="141,1179.35 146.41,1182.67 146.41,1189.33 141,1192.65 135.59,1189.33 135.59,1182.67" fill="#FF80F4" stroke="#FF0A84" stroke-width="2.1"/><polygon points="144.5,1171.35 149.91,1174.67 149.91,1181.33 144.5,1184.65 139.09,1181.33 139.09,1174.67" fill="#FF80F4" stroke="#FF0A84" stroke-width="2.1"/><polygon points="148.7,1163.65 154.11,1166.97 154.11,1173.62 148.7,1176.95 143.29,1173.62 143.29,1166.97" fill="#FF80F4" stroke="#FF0A84" stroke-width="2.1"/><polygon points="158,1152.35 163.41,1155.67 163.41,1162.33 158,1165.65 152.59,1162.33 152.59,1155.67" fill="#FF80F4" stroke="#FF0A84" stroke-width="2.1"/><polygon points="172.3,1137.45 177.71,1140.77 177.71,1147.42 172.3,1150.75 166.89,1147.42 166.89,1140.77" fill="#FF80F4" stroke="#FF0A84" stroke-width="2.1"/><polygon points="193.8,1120.55 199.21,1123.88 199.21,1130.53 193.8,1133.85 188.39,1130.53 188.39,1123.88" fill="#FF80F4" stroke="#FF0A84" stroke-width="2.1"/><polygon points="223.6,1102.05 229.01,1105.38 229.01,1112.03 223.6,1115.35 218.19,1112.03 218.19,1105.38" fill="#FF80F4" stroke="#FF0A84" stroke-width="2.1"/><polygon points="259.6,1077.95 265.01,1081.27 265.01,1087.92 259.6,1091.25 254.19,1087.92 254.19,1081.27" fill="#FF80F4" stroke="#FF0A84" stroke-width="2.1"/><polygon points="302.9,1050.55 308.31,1053.88 308.31,1060.53 302.9,1063.85 297.49,1060.53 297.49,1053.88" fill="#FF80F4" stroke="#FF0A84" stroke-width="2.1"/></g>
<g><rect x="130.2" y="1196.2" width="9.6" height="9.6" fill="#fff" stroke="#560092" stroke-width="2.1"/><rect x="130.2" y="1196.2" width="9.6" height="5.04" fill="#560092"/><rect x="132.2" y="1193.2" width="9.6" height="9.6" fill="#fff" stroke="#560092" stroke-width="2.1"/><rect x="132.2" y="1193.2" width="9.6" height="5.04" fill="#560092"/><rect x="134.7" y="1189.2" width="9.6" height="9.6" fill="#fff" stroke="#560092" stroke-width="2.1"/><rect x="134.7" y="1189.2" width="9.6" height="5.04" fill="#560092"/><rect x="137.7" y="1183.7" width="9.6" height="9.6" fill="#fff" stroke="#560092" stroke-width="2.1"/><rect x="137.7" y="1183.7" width="9.6" height="5.04" fill="#560092"/><rect x="141.9" y="1177.8" width="9.6" height="9.6" fill="#fff" stroke="#560092" stroke-width="2.1"/><rect x="141.9" y="1177.8" width="9.6" height="5.04" fill="#560092"/><rect x="149" y="1170.6" width="9.6" height="9.6" fill="#fff" stroke="#560092" stroke-width="2.1"/><rect x="149" y="1170.6" width="9.6" height="5.04" fill="#560092"/><rect x="159.3" y="1161.4" width="9.6" height="9.6" fill="#fff" stroke="#560092" stroke-width="2.1"/><rect x="159.3" y="1161.4" width="9.6" height="5.04" fill="#560092"/><rect x="175.2" y="1148.5" width="9.6" height="9.6" fill="#fff" stroke="#560092" stroke-width="2.1"/><rect x="175.2" y="1148.5" width="9.6" height="5.04" fill="#560092"/><rect x="198.8" y="1134.7" width="9.6" height="9.6" fill="#fff" stroke="#560092" stroke-width="2.1"/><rect x="198.8" y="1134.7" width="9.6" height="5.04" fill="#560092"/></g>
<path d="M134.3,1202.5 C134.67,1199.58 135.63,1190.42 136.5,1185 C137.37,1179.58 138.33,1175 139.5,1170 C140.67,1165 141.92,1160.17 143.5,1155 C145.08,1149.83 146.92,1144.83 149,1139 C151.08,1133.17 153.32,1126.33 156,1120 C158.68,1113.67 161.85,1108.53 165.1,1101 C168.35,1093.47 171.48,1084.65 175.5,1074.8 C179.52,1064.95 183.28,1053.87 189.2,1041.9 C195.12,1029.93 201.45,1018.15 211,1003 C220.55,987.85 233.17,970.33 246.5,951 C259.83,931.67 272.92,910.42 291,887 C309.08,863.58 329.28,838.62 355,810.5 C380.72,782.38 422.08,741.05 445.3,718.3 C468.52,695.55 486.13,681.38 494.3,674" fill="none" stroke="#B80006" stroke-width="2.2" stroke-linejoin="round" stroke-linecap="round"/>
<path d="M134.3,1202.5 C135.25,1201.42 137.6,1197.92 140,1196 C142.4,1194.08 145.88,1192.55 148.7,1191 C151.52,1189.45 153.82,1188.18 156.9,1186.7 C159.98,1185.22 163.43,1183.65 167.2,1182.1 C170.97,1180.55 175.32,1179.37 179.5,1177.4 C183.68,1175.43 188.88,1172.78 192.3,1170.3 C195.72,1167.82 197.8,1165.15 200,1162.5 C202.2,1159.85 203.17,1158.82 205.5,1154.4 C207.83,1149.98 210,1144.4 214,1136 C218,1127.6 223.17,1118.5 229.5,1104 C235.83,1089.5 244.87,1064.67 252,1049 C259.13,1033.33 264.18,1024.45 272.3,1010 C280.42,995.55 288.42,980.63 300.7,962.3 C312.98,943.97 331.62,919.7 346,900 C360.38,880.3 380.17,853.42 387,844.1" fill="none" stroke="#007200" stroke-width="2.2" stroke-linejoin="round" stroke-linecap="round"/>
<path d="M134.3,1202.5 C135.08,1201.08 137.05,1197.42 139,1194 C140.95,1190.58 143.35,1186.33 146,1182 C148.65,1177.67 152.05,1172.33 154.9,1168 C157.75,1163.67 160.37,1159.25 163.1,1156 C165.83,1152.75 167.98,1151.17 171.3,1148.5 C174.62,1145.83 178.5,1143.33 183,1140 C187.5,1136.67 192.38,1132.83 198.3,1128.5 C204.22,1124.17 211.43,1121.2 218.5,1114 C225.57,1106.8 230.33,1098.58 240.7,1085.3 C251.07,1072.02 274.03,1042.8 280.7,1034.3" fill="none" stroke="#0A40E8" stroke-width="2.2" stroke-linejoin="round" stroke-linecap="round"/>
<path d="M134.3,1202.5 C135,1200.42 136.88,1194.08 138.5,1190 C140.12,1185.92 142.08,1181.67 144,1178 C145.92,1174.33 147.67,1171.33 150,1168 C152.33,1164.67 154.28,1162.17 158,1158 C161.72,1153.83 166.33,1148.25 172.3,1143 C178.27,1137.75 185.25,1132.5 193.8,1126.5 C202.35,1120.5 212.63,1113.98 223.6,1107 C234.57,1100.02 248.53,1090.1 259.6,1084.6 C270.67,1079.1 279.43,1077.15 290,1074 C300.57,1070.85 317.5,1067.08 323,1065.7" fill="none" stroke="#FF0A84" stroke-width="2.2" stroke-linejoin="round" stroke-linecap="round"/>
<path d="M134.3,1202.5 C134.83,1201.42 136.38,1198.08 137.5,1196 C138.62,1193.92 139.47,1192.23 141,1190 C142.53,1187.77 144.57,1185.03 146.7,1182.6 C148.83,1180.17 150.9,1178.13 153.8,1175.4 C156.7,1172.67 159.73,1169.6 164.1,1166.2 C168.47,1162.8 175.18,1157.7 180,1155 C184.82,1152.3 188.47,1151.38 193,1150 C197.53,1148.62 204.83,1147.25 207.2,1146.7" fill="none" stroke="#560092" stroke-width="2.2" stroke-linejoin="round" stroke-linecap="round"/>
</g>
<rect x="572" y="956" width="293.5" height="220.4" fill="#EEFEFE"/>
<line x1="573" y1="1164.9" x2="864.5" y2="1164.9" stroke="#D6DCDC" stroke-width="1.2"/>
<line x1="573" y1="1108.35" x2="864.5" y2="1108.35" stroke="#D6DCDC" stroke-width="1.2"/>
<line x1="573" y1="1051.8" x2="864.5" y2="1051.8" stroke="#D6DCDC" stroke-width="1.2"/>
<line x1="573" y1="995.25" x2="864.5" y2="995.25" stroke="#D6DCDC" stroke-width="1.2"/>
<line x1="581.9" y1="957" x2="581.9" y2="1175.4" stroke="#D6DCDC" stroke-width="1.2"/>
<line x1="634.2" y1="957" x2="634.2" y2="1175.4" stroke="#D6DCDC" stroke-width="1.2"/>
<line x1="686.5" y1="957" x2="686.5" y2="1175.4" stroke="#D6DCDC" stroke-width="1.2"/>
<line x1="738.8" y1="957" x2="738.8" y2="1175.4" stroke="#D6DCDC" stroke-width="1.2"/>
<line x1="791.1" y1="957" x2="791.1" y2="1175.4" stroke="#D6DCDC" stroke-width="1.2"/>
<line x1="843.4" y1="957" x2="843.4" y2="1175.4" stroke="#D6DCDC" stroke-width="1.2"/>
<path d="M572,1164.9 h7 M572,1108.35 h7 M572,1051.8 h7 M572,995.25 h7" stroke="#000" stroke-width="1.6" fill="none"/>
<path d="M572,1176.21 h4 M572,1153.59 h4 M572,1142.28 h4 M572,1130.97 h4 M572,1119.66 h4 M572,1097.04 h4 M572,1085.73 h4 M572,1074.42 h4 M572,1063.11 h4 M572,1040.49 h4 M572,1029.18 h4 M572,1017.87 h4 M572,1006.56 h4 M572,983.94 h4 M572,972.63 h4 M572,961.32 h4" stroke="#000" stroke-width="1.6" fill="none"/>
<path d="M581.9,1176.4 v-7 M634.2,1176.4 v-7 M686.5,1176.4 v-7 M738.8,1176.4 v-7 M791.1,1176.4 v-7 M843.4,1176.4 v-7" stroke="#000" stroke-width="1.6" fill="none"/>
<path d="M592.36,1176.4 v-4 M602.82,1176.4 v-4 M613.28,1176.4 v-4 M623.74,1176.4 v-4 M644.66,1176.4 v-4 M655.12,1176.4 v-4 M665.58,1176.4 v-4 M676.04,1176.4 v-4 M696.96,1176.4 v-4 M707.42,1176.4 v-4 M717.88,1176.4 v-4 M728.34,1176.4 v-4 M749.26,1176.4 v-4 M759.72,1176.4 v-4 M770.18,1176.4 v-4 M780.64,1176.4 v-4 M801.56,1176.4 v-4 M812.02,1176.4 v-4 M822.48,1176.4 v-4 M832.94,1176.4 v-4 M853.86,1176.4 v-4" stroke="#000" stroke-width="1.6" fill="none"/>
<text x="564.5" y="1170.4" font-family="'Liberation Sans', Arial, sans-serif" font-size="15.5" font-weight="bold" fill="#000" text-anchor="end" textLength="8.7" lengthAdjust="spacingAndGlyphs">0</text>
<text x="564.5" y="1113.85" font-family="'Liberation Sans', Arial, sans-serif" font-size="15.5" font-weight="bold" fill="#000" text-anchor="end" textLength="26.1" lengthAdjust="spacingAndGlyphs">500</text>
<text x="564.5" y="1057.3" font-family="'Liberation Sans', Arial, sans-serif" font-size="15.5" font-weight="bold" fill="#000" text-anchor="end" textLength="34.8" lengthAdjust="spacingAndGlyphs">1000</text>
<text x="564.5" y="1000.75" font-family="'Liberation Sans', Arial, sans-serif" font-size="15.5" font-weight="bold" fill="#000" text-anchor="end" textLength="34.8" lengthAdjust="spacingAndGlyphs">1500</text>
<text x="581.9" y="1194.4" font-family="'Liberation Sans', Arial, sans-serif" font-size="15.5" font-weight="bold" fill="#000" text-anchor="middle" textLength="8.7" lengthAdjust="spacingAndGlyphs">0</text>
<text x="634.2" y="1194.4" font-family="'Liberation Sans', Arial, sans-serif" font-size="15.5" font-weight="bold" fill="#000" text-anchor="middle" textLength="26.1" lengthAdjust="spacingAndGlyphs">500</text>
<text x="686.5" y="1194.4" font-family="'Liberation Sans', Arial, sans-serif" font-size="15.5" font-weight="bold" fill="#000" text-anchor="middle" textLength="34.8" lengthAdjust="spacingAndGlyphs">1000</text>
<text x="738.8" y="1194.4" font-family="'Liberation Sans', Arial, sans-serif" font-size="15.5" font-weight="bold" fill="#000" text-anchor="middle" textLength="34.8" lengthAdjust="spacingAndGlyphs">1500</text>
<text x="791.1" y="1194.4" font-family="'Liberation Sans', Arial, sans-serif" font-size="15.5" font-weight="bold" fill="#000" text-anchor="middle" textLength="34.8" lengthAdjust="spacingAndGlyphs">2000</text>
<text x="843.4" y="1194.4" font-family="'Liberation Sans', Arial, sans-serif" font-size="15.5" font-weight="bold" fill="#000" text-anchor="middle" textLength="34.8" lengthAdjust="spacingAndGlyphs">2500</text>
<path d="M581.9,1165 C582.58,1163.83 584.48,1160.33 586,1158 C587.52,1155.67 589.17,1153.5 591,1151 C592.83,1148.5 596,1144.33 597,1143" fill="none" stroke="#007200" stroke-width="1.6" stroke-linejoin="round" stroke-linecap="round"/>
<g><circle cx="585" cy="1160" r="3.5" fill="#00EC00" stroke="#006400" stroke-width="1.4"/><circle cx="588" cy="1156" r="3.5" fill="#00EC00" stroke="#006400" stroke-width="1.4"/><circle cx="591.5" cy="1151" r="3.5" fill="#00EC00" stroke="#006400" stroke-width="1.4"/><circle cx="595.5" cy="1146" r="3.5" fill="#00EC00" stroke="#006400" stroke-width="1.4"/><circle cx="598" cy="1141.5" r="3.5" fill="#00EC00" stroke="#006400" stroke-width="1.4"/></g>
<g><polygon points="583,1161.36 586.5,1167.42 579.5,1167.42" fill="#80FFFF" stroke="#0040F0" stroke-width="1.3" stroke-linejoin="miter"/><polygon points="585.5,1159.36 589,1165.42 582,1165.42" fill="#80FFFF" stroke="#0040F0" stroke-width="1.3" stroke-linejoin="miter"/><polygon points="588,1157.36 591.5,1163.42 584.5,1163.42" fill="#80FFFF" stroke="#0040F0" stroke-width="1.3" stroke-linejoin="miter"/><polygon points="591,1155.36 594.5,1161.42 587.5,1161.42" fill="#80FFFF" stroke="#0040F0" stroke-width="1.3" stroke-linejoin="miter"/></g>
<g><polygon points="584,1162.5 586.85,1164.25 586.85,1167.75 584,1169.5 581.15,1167.75 581.15,1164.25" fill="#FF80F4" stroke="#FF0A84" stroke-width="1.3"/><polygon points="587,1160 589.85,1161.75 589.85,1165.25 587,1167 584.15,1165.25 584.15,1161.75" fill="#FF80F4" stroke="#FF0A84" stroke-width="1.3"/><polygon points="590,1157.5 592.85,1159.25 592.85,1162.75 590,1164.5 587.15,1162.75 587.15,1159.25" fill="#FF80F4" stroke="#FF0A84" stroke-width="1.3"/><polygon points="593.5,1155 596.35,1156.75 596.35,1160.25 593.5,1162 590.65,1160.25 590.65,1156.75" fill="#FF80F4" stroke="#FF0A84" stroke-width="1.3"/><polygon points="596,1152.5 598.85,1154.25 598.85,1157.75 596,1159.5 593.15,1157.75 593.15,1154.25" fill="#FF80F4" stroke="#FF0A84" stroke-width="1.3"/></g>
<g><rect x="578.25" y="1163.25" width="6.5" height="6.5" fill="#fff" stroke="#560092" stroke-width="1.3"/><rect x="578.25" y="1163.25" width="6.5" height="3.41" fill="#560092"/><rect x="579.75" y="1161.75" width="6.5" height="6.5" fill="#fff" stroke="#560092" stroke-width="1.3"/><rect x="579.75" y="1161.75" width="6.5" height="3.41" fill="#560092"/><rect x="581.75" y="1160.25" width="6.5" height="6.5" fill="#fff" stroke="#560092" stroke-width="1.3"/><rect x="581.75" y="1160.25" width="6.5" height="3.41" fill="#560092"/><rect x="583.75" y="1158.75" width="6.5" height="6.5" fill="#fff" stroke="#560092" stroke-width="1.3"/><rect x="583.75" y="1158.75" width="6.5" height="3.41" fill="#560092"/></g>
<g><rect x="579.4" y="1156.4" width="7.2" height="7.2" fill="#fff" stroke="#B80006" stroke-width="1.6"/><rect x="580.9" y="1152.4" width="7.2" height="7.2" fill="#fff" stroke="#B80006" stroke-width="1.6"/><rect x="582.9" y="1148.4" width="7.2" height="7.2" fill="#fff" stroke="#B80006" stroke-width="1.6"/><rect x="584.9" y="1143.9" width="7.2" height="7.2" fill="#fff" stroke="#B80006" stroke-width="1.6"/><rect x="586.9" y="1139.5" width="7.2" height="7.2" fill="#fff" stroke="#B80006" stroke-width="1.6"/><rect x="592.1" y="1134.4" width="7.2" height="7.2" fill="#fff" stroke="#B80006" stroke-width="1.6"/><rect x="598.6" y="1129.3" width="7.2" height="7.2" fill="#fff" stroke="#B80006" stroke-width="1.6"/><rect x="607.4" y="1122.1" width="7.2" height="7.2" fill="#fff" stroke="#B80006" stroke-width="1.6"/><rect x="617.7" y="1114.9" width="7.2" height="7.2" fill="#fff" stroke="#B80006" stroke-width="1.6"/><rect x="631" y="1105.7" width="7.2" height="7.2" fill="#fff" stroke="#B80006" stroke-width="1.6"/><rect x="649.5" y="1093.4" width="7.2" height="7.2" fill="#fff" stroke="#B80006" stroke-width="1.6"/><rect x="663.4" y="1094.8" width="7.2" height="7.2" fill="#fff" stroke="#B80006" stroke-width="1.6"/><rect x="682.3" y="1086.2" width="7.2" height="7.2" fill="#fff" stroke="#B80006" stroke-width="1.6"/><rect x="716.2" y="1069.8" width="7.2" height="7.2" fill="#fff" stroke="#B80006" stroke-width="1.6"/><rect x="749" y="1075.5" width="7.2" height="7.2" fill="#fff" stroke="#B80006" stroke-width="1.6"/><rect x="775.7" y="1083.7" width="7.2" height="7.2" fill="#fff" stroke="#B80006" stroke-width="1.6"/><rect x="799.3" y="1086.8" width="7.2" height="7.2" fill="#fff" stroke="#B80006" stroke-width="1.6"/></g>
<path d="M581.9,1164.9 C582.25,1163.58 583.07,1159.65 584,1157 C584.93,1154.35 586.17,1151.5 587.5,1149 C588.83,1146.5 590.25,1144.33 592,1142 C593.75,1139.67 595.83,1137.25 598,1135 C600.17,1132.75 602.5,1130.67 605,1128.5 C607.5,1126.33 610,1124.08 613,1122 C616,1119.92 619.4,1118.08 623,1116 C626.6,1113.92 629.58,1112.08 634.6,1109.5 C639.62,1106.92 646.87,1103.17 653.1,1100.5 C659.33,1097.83 665.85,1095.5 672,1093.5 C678.15,1091.5 681.7,1090.33 690,1088.5 C698.3,1086.67 711.37,1083.83 721.8,1082.5 C732.23,1081.17 742.9,1080.42 752.6,1080.5 C762.3,1080.58 770.25,1081.73 780,1083 C789.75,1084.27 805.92,1087.25 811.1,1088.1" fill="none" stroke="#B80006" stroke-width="2" stroke-linejoin="round" stroke-linecap="round"/>
<rect x="572" y="956" width="293.5" height="220.4" fill="none" stroke="#000" stroke-width="2"/>
<rect x="113" y="674" width="753" height="549" fill="none" stroke="#000" stroke-width="2.3"/>
<rect x="642.5" y="698.2" width="10.4" height="10.4" fill="#fff" stroke="#B80006" stroke-width="2.1"/>
<text x="685.8" y="713" font-family="'Liberation Serif', 'Times New Roman', serif" font-size="28.2" font-weight="bold" fill="#000" text-anchor="start" textLength="54.3" lengthAdjust="spacingAndGlyphs">0.5 h</text>
<circle cx="647.7" cy="737.7" r="5.85" fill="#00EC00" stroke="#006400" stroke-width="2.1"/>
<text x="685.8" y="747.3" font-family="'Liberation Serif', 'Times New Roman', serif" font-size="28.2" font-weight="bold" fill="#000" text-anchor="start" textLength="47.2" lengthAdjust="spacingAndGlyphs">72 h</text>
<polygon points="647.7,763.75 654,774.66 641.4,774.66" fill="#80FFFF" stroke="#0040F0" stroke-width="2.1" stroke-linejoin="miter"/>
<text x="685.8" y="779.9" font-family="'Liberation Serif', 'Times New Roman', serif" font-size="28.2" font-weight="bold" fill="#000" text-anchor="start" textLength="60.5" lengthAdjust="spacingAndGlyphs">168 h</text>
<polygon points="647.7,799 652.91,802.2 652.91,808.6 647.7,811.8 642.49,808.6 642.49,802.2" fill="#FF80F4" stroke="#FF0A84" stroke-width="2.1"/>
<text x="685.8" y="815" font-family="'Liberation Serif', 'Times New Roman', serif" font-size="28.2" font-weight="bold" fill="#000" text-anchor="start" textLength="60.5" lengthAdjust="spacingAndGlyphs">336 h</text>
<rect x="642.7" y="834.2" width="10" height="10" fill="#fff" stroke="#560092" stroke-width="2.1"/><rect x="642.7" y="834.2" width="10" height="5.25" fill="#560092"/>
<text x="685.8" y="848.8" font-family="'Liberation Serif', 'Times New Roman', serif" font-size="28.2" font-weight="bold" fill="#000" text-anchor="start" textLength="60.5" lengthAdjust="spacingAndGlyphs">672 h</text>
<text x="624.7" y="882.3" font-family="'Liberation Serif', 'Times New Roman', serif" font-size="27" font-weight="bold" fill="#000" text-anchor="start" textLength="210.3" lengthAdjust="spacingAndGlyphs">Line fitting curves</text>
<text x="138.4" y="715.2" font-family="'Liberation Sans', Arial, sans-serif" font-size="24.4" font-weight="bold" fill="#0E4F76" text-anchor="start" textLength="74.8" lengthAdjust="spacingAndGlyphs">pH = 2</text>
<g font-family="'Liberation Sans', Arial, sans-serif" font-weight="bold" fill="#0E4F76">
<text x="137.2" y="760.6" font-size="24.4">[</text>
<text x="146.4" y="760.3" font-size="24.4" textLength="10.8" lengthAdjust="spacingAndGlyphs">F</text>
<text x="160" y="745.1" font-size="15.13" textLength="4.6" lengthAdjust="spacingAndGlyphs">-</text>
<text x="165" y="760.6" font-size="24.4">]</text>
<text x="181.2" y="760.3" font-size="24.4" textLength="118.9" lengthAdjust="spacingAndGlyphs">= 0.002 M</text>
</g>
<text x="182.3" y="855.6" font-family="'Liberation Sans', Arial, sans-serif" font-size="24" font-weight="bold" fill="#B4000E" text-anchor="start" textLength="81.2" lengthAdjust="spacingAndGlyphs">5.93 Hz</text>
<text x="444.2" y="780" font-family="'Liberation Sans', Arial, sans-serif" font-size="25.7" font-weight="bold" fill="#0E7E0E" text-anchor="start" textLength="88" lengthAdjust="spacingAndGlyphs">0.01 Hz</text>
<text x="106.9" y="1022.2" font-family="'Liberation Sans', Arial, sans-serif" font-size="25.7" font-weight="bold" fill="#580094" text-anchor="start" textLength="88" lengthAdjust="spacingAndGlyphs">0.41 Hz</text>
<text x="382.9" y="1029.8" font-family="'Liberation Sans', Arial, sans-serif" font-size="25.7" font-weight="bold" fill="#000" text-anchor="start" textLength="87.6" lengthAdjust="spacingAndGlyphs">0.01 Hz</text>
<text x="258.3" y="1186.4" font-family="'Liberation Sans', Arial, sans-serif" font-size="25.7" font-weight="bold" fill="#0E7E0E" text-anchor="start" textLength="87.6" lengthAdjust="spacingAndGlyphs">0.41 Hz</text>
<text x="595.2" y="1071.3" font-family="'Liberation Sans', Arial, sans-serif" font-size="23.6" font-weight="bold" fill="#B4000E" text-anchor="start" textLength="80.5" lengthAdjust="spacingAndGlyphs">1.44 Hz</text>
<text x="753.6" y="1016.5" font-family="'Liberation Sans', Arial, sans-serif" font-size="23.6" font-weight="bold" fill="#B4000E" text-anchor="start" textLength="81.5" lengthAdjust="spacingAndGlyphs">0.01 Hz</text>
<line x1="224.7" y1="871.6" x2="241.81" y2="933.82" stroke="#B4000E" stroke-width="2.2" stroke-linecap="butt"/>
<polygon points="244.5,943.6 236.71,932.26 241.81,933.82 245.39,929.87" fill="#B4000E"/>
<line x1="459" y1="795.6" x2="416.75" y2="815.74" stroke="#0E7E0E" stroke-width="2.2" stroke-linecap="butt"/>
<polygon points="407.6,820.1 417.4,810.44 416.75,815.74 421.27,818.57" fill="#0E7E0E"/>
<line x1="146.9" y1="1076.6" x2="159.57" y2="1142.04" stroke="#580094" stroke-width="2.2" stroke-linecap="butt"/>
<polygon points="161.5,1152 154.61,1140.09 159.57,1142.04 163.45,1138.38" fill="#580094"/>
<line x1="365.3" y1="1021.8" x2="302.13" y2="1031.21" stroke="#0A40E8" stroke-width="2.2" stroke-linecap="butt"/>
<polygon points="292.1,1032.7 304.3,1026.33 302.13,1031.21 305.62,1035.24" fill="#0A40E8"/>
<line x1="376.7" y1="1032" x2="326.67" y2="1052.63" stroke="#FF0A84" stroke-width="2.2" stroke-linecap="butt"/>
<polygon points="317.3,1056.5 327.6,1047.38 326.67,1052.63 331.03,1055.7" fill="#FF0A84"/>
<line x1="252.1" y1="1176.8" x2="211.64" y2="1175.76" stroke="#0E7E0E" stroke-width="2.2" stroke-linecap="butt"/>
<polygon points="201.5,1175.5 214.61,1171.34 211.64,1175.76 214.38,1180.33" fill="#0E7E0E"/>
<line x1="628.1" y1="1081.6" x2="615.73" y2="1110.19" stroke="#B4000E" stroke-width="2.2" stroke-linecap="butt"/>
<polygon points="611.7,1119.5 612.73,1105.78 615.73,1110.19 620.99,1109.36" fill="#B4000E"/>
<line x1="795.7" y1="1024.1" x2="805.7" y2="1067.12" stroke="#B4000E" stroke-width="2.2" stroke-linecap="butt"/>
<polygon points="808,1077 800.67,1065.36 805.7,1067.12 809.44,1063.32" fill="#B4000E"/>
<text x="10.3" y="699.2" font-family="'Liberation Serif', 'Times New Roman', serif" font-size="38" font-weight="bold" fill="#000" text-anchor="start" textLength="46.3" lengthAdjust="spacingAndGlyphs">(b)</text>
<g transform="translate(33.8,1061) rotate(-90)" font-family="'Liberation Serif', 'Times New Roman', serif" font-weight="bold" fill="#000">
<text x="0" y="0" font-size="32.5" textLength="31" lengthAdjust="spacingAndGlyphs">-Z</text>
<text x="31.8" y="13" font-size="19.5" textLength="20.5" lengthAdjust="spacingAndGlyphs">im</text>
<text x="62.2" y="0" font-size="32.5" textLength="98.1" lengthAdjust="spacingAndGlyphs">(kΩ·cm</text>
<text x="161.4" y="-17.6" font-size="20">2</text>
<text x="171" y="0" font-size="32.5" textLength="10" lengthAdjust="spacingAndGlyphs">)</text>
</g>
<g transform="translate(417,1299.3)" font-family="'Liberation Serif', 'Times New Roman', serif" font-weight="bold" fill="#000">
<text x="0" y="0" font-size="30.5" textLength="20.6" lengthAdjust="spacingAndGlyphs">Z</text>
<text x="20.4" y="12.6" font-size="17.5" textLength="7.6" lengthAdjust="spacingAndGlyphs">r</text>
<text x="37.4" y="0" font-size="30.5" textLength="96.5" lengthAdjust="spacingAndGlyphs">(kΩ·cm</text>
<text x="135.2" y="-17.2" font-size="19.5">2</text>
<text x="144.2" y="0" font-size="30.5" textLength="10.6" lengthAdjust="spacingAndGlyphs">)</text>
</g>
<g id="panel-c">
<rect x="998.6" y="677.8" width="748.2" height="547.2" fill="url(#bgA)"/>
<line x1="999.6" y1="1186.77" x2="1745.8" y2="1186.77" stroke="#E4E4E0" stroke-width="1.2" stroke-dasharray="1.7,2.9"/>
<line x1="999.6" y1="1167.94" x2="1745.8" y2="1167.94" stroke="#E4E4E0" stroke-width="1.2" stroke-dasharray="1.7,2.9"/>
<line x1="999.6" y1="1149.11" x2="1745.8" y2="1149.11" stroke="#E4E4E0" stroke-width="1.2" stroke-dasharray="1.7,2.9"/>
<line x1="999.6" y1="1130.28" x2="1745.8" y2="1130.28" stroke="#E4E4E0" stroke-width="1.2" stroke-dasharray="1.7,2.9"/>
<line x1="999.6" y1="1092.62" x2="1745.8" y2="1092.62" stroke="#E4E4E0" stroke-width="1.2" stroke-dasharray="1.7,2.9"/>
<line x1="999.6" y1="1073.79" x2="1745.8" y2="1073.79" stroke="#E4E4E0" stroke-width="1.2" stroke-dasharray="1.7,2.9"/>
<line x1="999.6" y1="1054.96" x2="1745.8" y2="1054.96" stroke="#E4E4E0" stroke-width="1.2" stroke-dasharray="1.7,2.9"/>
<line x1="999.6" y1="1036.13" x2="1745.8" y2="1036.13" stroke="#E4E4E0" stroke-width="1.2" stroke-dasharray="1.7,2.9"/>
<line x1="999.6" y1="998.47" x2="1745.8" y2="998.47" stroke="#E4E4E0" stroke-width="1.2" stroke-dasharray="1.7,2.9"/>
<line x1="999.6" y1="979.64" x2="1745.8" y2="979.64" stroke="#E4E4E0" stroke-width="1.2" stroke-dasharray="1.7,2.9"/>
<line x1="999.6" y1="960.81" x2="1745.8" y2="960.81" stroke="#E4E4E0" stroke-width="1.2" stroke-dasharray="1.7,2.9"/>
<line x1="999.6" y1="941.98" x2="1745.8" y2="941.98" stroke="#E4E4E0" stroke-width="1.2" stroke-dasharray="1.7,2.9"/>
<line x1="999.6" y1="904.32" x2="1745.8" y2="904.32" stroke="#E4E4E0" stroke-width="1.2" stroke-dasharray="1.7,2.9"/>
<line x1="999.6" y1="885.49" x2="1745.8" y2="885.49" stroke="#E4E4E0" stroke-width="1.2" stroke-dasharray="1.7,2.9"/>
<line x1="999.6" y1="866.66" x2="1745.8" y2="866.66" stroke="#E4E4E0" stroke-width="1.2" stroke-dasharray="1.7,2.9"/>
<line x1="999.6" y1="847.83" x2="1745.8" y2="847.83" stroke="#E4E4E0" stroke-width="1.2" stroke-dasharray="1.7,2.9"/>
<line x1="999.6" y1="810.17" x2="1745.8" y2="810.17" stroke="#E4E4E0" stroke-width="1.2" stroke-dasharray="1.7,2.9"/>
<line x1="999.6" y1="791.34" x2="1745.8" y2="791.34" stroke="#E4E4E0" stroke-width="1.2" stroke-dasharray="1.7,2.9"/>
<line x1="999.6" y1="772.51" x2="1745.8" y2="772.51" stroke="#E4E4E0" stroke-width="1.2" stroke-dasharray="1.7,2.9"/>
<line x1="999.6" y1="753.68" x2="1745.8" y2="753.68" stroke="#E4E4E0" stroke-width="1.2" stroke-dasharray="1.7,2.9"/>
<line x1="999.6" y1="716.02" x2="1745.8" y2="716.02" stroke="#E4E4E0" stroke-width="1.2" stroke-dasharray="1.7,2.9"/>
<line x1="999.6" y1="697.19" x2="1745.8" y2="697.19" stroke="#E4E4E0" stroke-width="1.2" stroke-dasharray="1.7,2.9"/>
<line x1="999.6" y1="1205.6" x2="1745.8" y2="1205.6" stroke="#D4D4D2" stroke-width="1.3"/>
<line x1="999.6" y1="1111.45" x2="1745.8" y2="1111.45" stroke="#D4D4D2" stroke-width="1.3"/>
<line x1="999.6" y1="1017.3" x2="1745.8" y2="1017.3" stroke="#D4D4D2" stroke-width="1.3"/>
<line x1="999.6" y1="923.15" x2="1745.8" y2="923.15" stroke="#D4D4D2" stroke-width="1.3"/>
<line x1="999.6" y1="829" x2="1745.8" y2="829" stroke="#D4D4D2" stroke-width="1.3"/>
<line x1="999.6" y1="734.85" x2="1745.8" y2="734.85" stroke="#D4D4D2" stroke-width="1.3"/>
<line x1="1020.7" y1="678.8" x2="1020.7" y2="1224" stroke="#D4D4D2" stroke-width="1.3"/>
<line x1="1130.7" y1="678.8" x2="1130.7" y2="1224" stroke="#D4D4D2" stroke-width="1.3"/>
<line x1="1240.7" y1="678.8" x2="1240.7" y2="1224" stroke="#D4D4D2" stroke-width="1.3"/>
<line x1="1350.7" y1="678.8" x2="1350.7" y2="1224" stroke="#D4D4D2" stroke-width="1.3"/>
<line x1="1460.7" y1="678.8" x2="1460.7" y2="1224" stroke="#D4D4D2" stroke-width="1.3"/>
<line x1="1570.7" y1="678.8" x2="1570.7" y2="1224" stroke="#D4D4D2" stroke-width="1.3"/>
<line x1="1680.7" y1="678.8" x2="1680.7" y2="1224" stroke="#D4D4D2" stroke-width="1.3"/>
<path d="M998.6,1205.6 h11.5 M998.6,1111.45 h11.5 M998.6,1017.3 h11.5 M998.6,923.15 h11.5 M998.6,829 h11.5 M998.6,734.85 h11.5" stroke="#000" stroke-width="2.2" fill="none"/>
<path d="M998.6,1186.77 h6.5 M998.6,1167.94 h6.5 M998.6,1149.11 h6.5 M998.6,1130.28 h6.5 M998.6,1092.62 h6.5 M998.6,1073.79 h6.5 M998.6,1054.96 h6.5 M998.6,1036.13 h6.5 M998.6,998.47 h6.5 M998.6,979.64 h6.5 M998.6,960.81 h6.5 M998.6,941.98 h6.5 M998.6,904.32 h6.5 M998.6,885.49 h6.5 M998.6,866.66 h6.5 M998.6,847.83 h6.5 M998.6,810.17 h6.5 M998.6,791.34 h6.5 M998.6,772.51 h6.5 M998.6,753.68 h6.5 M998.6,716.02 h6.5 M998.6,697.19 h6.5" stroke="#000" stroke-width="2.2" fill="none"/>
<path d="M1020.7,1225 v-11.5 M1130.7,1225 v-11.5 M1240.7,1225 v-11.5 M1350.7,1225 v-11.5 M1460.7,1225 v-11.5 M1570.7,1225 v-11.5 M1680.7,1225 v-11.5" stroke="#000" stroke-width="2.2" fill="none"/>
<path d="M1042.7,1225 v-6.5 M1064.7,1225 v-6.5 M1086.7,1225 v-6.5 M1108.7,1225 v-6.5 M1152.7,1225 v-6.5 M1174.7,1225 v-6.5 M1196.7,1225 v-6.5 M1218.7,1225 v-6.5 M1262.7,1225 v-6.5 M1284.7,1225 v-6.5 M1306.7,1225 v-6.5 M1328.7,1225 v-6.5 M1372.7,1225 v-6.5 M1394.7,1225 v-6.5 M1416.7,1225 v-6.5 M1438.7,1225 v-6.5 M1482.7,1225 v-6.5 M1504.7,1225 v-6.5 M1526.7,1225 v-6.5 M1548.7,1225 v-6.5 M1592.7,1225 v-6.5 M1614.7,1225 v-6.5 M1636.7,1225 v-6.5 M1658.7,1225 v-6.5 M1702.7,1225 v-6.5 M1724.7,1225 v-6.5" stroke="#000" stroke-width="2.2" fill="none"/>
</g>
<text x="984.8" y="1212.2" font-family="'Liberation Sans', Arial, sans-serif" font-size="23.5" font-weight="bold" fill="#000" text-anchor="end">0</text>
<text x="984.8" y="1118.05" font-family="'Liberation Sans', Arial, sans-serif" font-size="23.5" font-weight="bold" fill="#000" text-anchor="end">50</text>
<text x="984.8" y="1023.9" font-family="'Liberation Sans', Arial, sans-serif" font-size="23.5" font-weight="bold" fill="#000" text-anchor="end">100</text>
<text x="984.8" y="929.75" font-family="'Liberation Sans', Arial, sans-serif" font-size="23.5" font-weight="bold" fill="#000" text-anchor="end">150</text>
<text x="984.8" y="835.6" font-family="'Liberation Sans', Arial, sans-serif" font-size="23.5" font-weight="bold" fill="#000" text-anchor="end">200</text>
<text x="984.8" y="741.45" font-family="'Liberation Sans', Arial, sans-serif" font-size="23.5" font-weight="bold" fill="#000" text-anchor="end">250</text>
<text x="1020.7" y="1254.2" font-family="'Liberation Sans', Arial, sans-serif" font-size="23.5" font-weight="bold" fill="#000" text-anchor="middle">0</text>
<text x="1130.7" y="1254.2" font-family="'Liberation Sans', Arial, sans-serif" font-size="23.5" font-weight="bold" fill="#000" text-anchor="middle">50</text>
<text x="1240.7" y="1254.2" font-family="'Liberation Sans', Arial, sans-serif" font-size="23.5" font-weight="bold" fill="#000" text-anchor="middle">100</text>
<text x="1350.7" y="1254.2" font-family="'Liberation Sans', Arial, sans-serif" font-size="23.5" font-weight="bold" fill="#000" text-anchor="middle">150</text>
<text x="1460.7" y="1254.2" font-family="'Liberation Sans', Arial, sans-serif" font-size="23.5" font-weight="bold" fill="#000" text-anchor="middle">200</text>
<text x="1570.7" y="1254.2" font-family="'Liberation Sans', Arial, sans-serif" font-size="23.5" font-weight="bold" fill="#000" text-anchor="middle">250</text>
<text x="1680.7" y="1254.2" font-family="'Liberation Sans', Arial, sans-serif" font-size="23.5" font-weight="bold" fill="#000" text-anchor="middle">300</text>
<rect x="1012.6" y="1172.5" width="43.9" height="33.2" fill="#CDEFF4" fill-opacity="0.75" stroke="#0F8A8A" stroke-width="1.8" stroke-dasharray="5,3.5"/>
<g id="series-c">
<g><rect x="1016" y="1199.2" width="9.6" height="9.6" fill="#fff" stroke="#B80006" stroke-width="2.1"/><rect x="1016.69" y="1194.25" width="9.6" height="9.6" fill="#fff" stroke="#B80006" stroke-width="2.1"/><rect x="1018.09" y="1189.45" width="9.6" height="9.6" fill="#fff" stroke="#B80006" stroke-width="2.1"/><rect x="1020.16" y="1184.91" width="9.6" height="9.6" fill="#fff" stroke="#B80006" stroke-width="2.1"/><rect x="1023.35" y="1181.08" width="9.6" height="9.6" fill="#fff" stroke="#B80006" stroke-width="2.1"/><rect x="1027.31" y="1178.04" width="9.6" height="9.6" fill="#fff" stroke="#B80006" stroke-width="2.1"/><rect x="1031.57" y="1175.43" width="9.6" height="9.6" fill="#fff" stroke="#B80006" stroke-width="2.1"/><rect x="1036.07" y="1173.25" width="9.6" height="9.6" fill="#fff" stroke="#B80006" stroke-width="2.1"/><rect x="1040.85" y="1171.81" width="9.6" height="9.6" fill="#fff" stroke="#B80006" stroke-width="2.1"/><rect x="1045.75" y="1170.84" width="9.6" height="9.6" fill="#fff" stroke="#B80006" stroke-width="2.1"/><rect x="1050.68" y="1169.97" width="9.6" height="9.6" fill="#fff" stroke="#B80006" stroke-width="2.1"/><rect x="1055.58" y="1169.02" width="9.6" height="9.6" fill="#fff" stroke="#B80006" stroke-width="2.1"/><rect x="1060.54" y="1168.37" width="9.6" height="9.6" fill="#fff" stroke="#B80006" stroke-width="2.1"/><rect x="1065.53" y="1168.26" width="9.6" height="9.6" fill="#fff" stroke="#B80006" stroke-width="2.1"/><rect x="1070.5" y="1168.82" width="9.6" height="9.6" fill="#fff" stroke="#B80006" stroke-width="2.1"/><rect x="1075.4" y="1169.8" width="9.6" height="9.6" fill="#fff" stroke="#B80006" stroke-width="2.1"/><rect x="1080.23" y="1171.08" width="9.6" height="9.6" fill="#fff" stroke="#B80006" stroke-width="2.1"/><rect x="1084.98" y="1172.65" width="9.6" height="9.6" fill="#fff" stroke="#B80006" stroke-width="2.1"/><rect x="1089.82" y="1173.92" width="9.6" height="9.6" fill="#fff" stroke="#B80006" stroke-width="2.1"/><rect x="1094.78" y="1174.2" width="9.6" height="9.6" fill="#fff" stroke="#B80006" stroke-width="2.1"/><rect x="1099.6" y="1172.95" width="9.6" height="9.6" fill="#fff" stroke="#B80006" stroke-width="2.1"/><rect x="1103.62" y="1170" width="9.6" height="9.6" fill="#fff" stroke="#B80006" stroke-width="2.1"/><rect x="1108" y="1161" width="9.6" height="9.6" fill="#fff" stroke="#B80006" stroke-width="2.1"/><rect x="1112" y="1147.7" width="9.6" height="9.6" fill="#fff" stroke="#B80006" stroke-width="2.1"/><rect x="1118.9" y="1129.7" width="9.6" height="9.6" fill="#fff" stroke="#B80006" stroke-width="2.1"/><rect x="1129.6" y="1101.7" width="9.6" height="9.6" fill="#fff" stroke="#B80006" stroke-width="2.1"/><rect x="1147.9" y="1066.1" width="9.6" height="9.6" fill="#fff" stroke="#B80006" stroke-width="2.1"/><rect x="1178.8" y="1016.1" width="9.6" height="9.6" fill="#fff" stroke="#B80006" stroke-width="2.1"/><rect x="1224.5" y="954.2" width="9.6" height="9.6" fill="#fff" stroke="#B80006" stroke-width="2.1"/><rect x="1287" y="886.4" width="9.6" height="9.6" fill="#fff" stroke="#B80006" stroke-width="2.1"/><rect x="1379.5" y="832" width="9.6" height="9.6" fill="#fff" stroke="#B80006" stroke-width="2.1"/></g>
<g><circle cx="1021.5" cy="1203" r="5.85" fill="#00EC00" stroke="#006400" stroke-width="2.1"/><circle cx="1023.5" cy="1198" r="5.85" fill="#00EC00" stroke="#006400" stroke-width="2.1"/><circle cx="1026.5" cy="1191.5" r="5.85" fill="#00EC00" stroke="#006400" stroke-width="2.1"/><circle cx="1030.5" cy="1184.5" r="5.85" fill="#00EC00" stroke="#006400" stroke-width="2.1"/><circle cx="1035.5" cy="1176.5" r="5.85" fill="#00EC00" stroke="#006400" stroke-width="2.1"/><circle cx="1041.8" cy="1168.5" r="5.85" fill="#00EC00" stroke="#006400" stroke-width="2.1"/><circle cx="1053.8" cy="1151.7" r="5.85" fill="#00EC00" stroke="#006400" stroke-width="2.1"/><circle cx="1076.4" cy="1130.5" r="5.85" fill="#00EC00" stroke="#006400" stroke-width="2.1"/><circle cx="1113.6" cy="1102" r="5.85" fill="#00EC00" stroke="#006400" stroke-width="2.1"/><circle cx="1165.5" cy="1076.8" r="5.85" fill="#00EC00" stroke="#006400" stroke-width="2.1"/></g>
<g><polygon points="1021.5,1196.25 1028,1207.5 1015,1207.5" fill="#80FFFF" stroke="#0040F0" stroke-width="2.1" stroke-linejoin="miter"/><polygon points="1023.5,1192.25 1030,1203.5 1017,1203.5" fill="#80FFFF" stroke="#0040F0" stroke-width="2.1" stroke-linejoin="miter"/><polygon points="1026,1187.25 1032.5,1198.5 1019.5,1198.5" fill="#80FFFF" stroke="#0040F0" stroke-width="2.1" stroke-linejoin="miter"/><polygon points="1029.5,1181.75 1036,1193 1023,1193" fill="#80FFFF" stroke="#0040F0" stroke-width="2.1" stroke-linejoin="miter"/><polygon points="1034,1175.25 1040.5,1186.5 1027.5,1186.5" fill="#80FFFF" stroke="#0040F0" stroke-width="2.1" stroke-linejoin="miter"/><polygon points="1039.5,1169.25 1046,1180.5 1033,1180.5" fill="#80FFFF" stroke="#0040F0" stroke-width="2.1" stroke-linejoin="miter"/><polygon points="1046.5,1163.25 1053,1174.5 1040,1174.5" fill="#80FFFF" stroke="#0040F0" stroke-width="2.1" stroke-linejoin="miter"/><polygon points="1056.5,1157.75 1063,1169 1050,1169" fill="#80FFFF" stroke="#0040F0" stroke-width="2.1" stroke-linejoin="miter"/><polygon points="1075.1,1141.75 1081.6,1153 1068.6,1153" fill="#80FFFF" stroke="#0040F0" stroke-width="2.1" stroke-linejoin="miter"/><polygon points="1108.3,1127.25 1114.8,1138.5 1101.8,1138.5" fill="#80FFFF" stroke="#0040F0" stroke-width="2.1" stroke-linejoin="miter"/></g>
<g><polygon points="1020.5,1202 1023.76,1204 1023.76,1208 1020.5,1210 1017.24,1208 1017.24,1204" fill="#FF80F4" stroke="#FF0A84" stroke-width="1.6"/><polygon points="1021.5,1200.5 1024.76,1202.5 1024.76,1206.5 1021.5,1208.5 1018.24,1206.5 1018.24,1202.5" fill="#FF80F4" stroke="#FF0A84" stroke-width="1.6"/></g>
<g><rect x="1015.55" y="1201.25" width="8.5" height="8.5" fill="#fff" stroke="#560092" stroke-width="1.6"/><rect x="1015.55" y="1201.25" width="8.5" height="4.46" fill="#560092"/><rect x="1016.75" y="1200.25" width="8.5" height="8.5" fill="#fff" stroke="#560092" stroke-width="1.6"/><rect x="1016.75" y="1200.25" width="8.5" height="4.46" fill="#560092"/></g>
<path d="M1020.6,1205.7 C1020.92,1204.08 1021.43,1198.87 1022.5,1196 C1023.57,1193.13 1024.92,1190.67 1027,1188.5 C1029.08,1186.33 1031.83,1184.5 1035,1183 C1038.17,1181.5 1041.83,1180.42 1046,1179.5 C1050.17,1178.58 1055.17,1177.83 1060,1177.5 C1064.83,1177.17 1070.17,1177.08 1075,1177.5 C1079.83,1177.92 1085,1179.17 1089,1180 C1093,1180.83 1096.17,1182.42 1099,1182.5 C1101.83,1182.58 1103.83,1182.42 1106,1180.5 C1108.17,1178.58 1109.33,1176.25 1112,1171 C1114.67,1165.75 1117.33,1158.83 1122,1149 C1126.67,1139.17 1131,1126.17 1140,1112 C1149,1097.83 1159.33,1086.33 1176,1064 C1192.67,1041.67 1216.05,1008.67 1240,978 C1263.95,947.33 1300.43,903.33 1319.7,880 C1338.97,856.67 1349.62,845 1355.6,838" fill="none" stroke="#B80006" stroke-width="2.2" stroke-linejoin="round" stroke-linecap="round"/>
<path d="M1020.6,1205.7 C1020.92,1204.58 1021.68,1201.28 1022.5,1199 C1023.32,1196.72 1024.25,1194.42 1025.5,1192 C1026.75,1189.58 1028.33,1187 1030,1184.5 C1031.67,1182 1033.5,1179.58 1035.5,1177 C1037.5,1174.42 1038.92,1172.83 1042,1169 C1045.08,1165.17 1048.33,1160 1054,1154 C1059.67,1148 1066.17,1141.17 1076,1133 C1085.83,1124.83 1100.67,1112.83 1113,1105 C1125.33,1097.17 1138.82,1090.25 1150,1086 C1161.18,1081.75 1175.08,1080.58 1180.1,1079.5" fill="none" stroke="#007200" stroke-width="2.2" stroke-linejoin="round" stroke-linecap="round"/>
<path d="M1020.6,1205.7 C1020.92,1204.75 1021.68,1201.95 1022.5,1200 C1023.32,1198.05 1024.25,1196.08 1025.5,1194 C1026.75,1191.92 1028.42,1189.67 1030,1187.5 C1031.58,1185.33 1033.17,1183.08 1035,1181 C1036.83,1178.92 1038.92,1176.92 1041,1175 C1043.08,1173.08 1044.92,1171.42 1047.5,1169.5 C1050.08,1167.58 1051.9,1167 1056.5,1163.5 C1061.1,1160 1066.47,1153.42 1075.1,1148.5 C1083.73,1143.58 1102.77,1136.42 1108.3,1134" fill="none" stroke="#0A40E8" stroke-width="2.2" stroke-linejoin="round" stroke-linecap="round"/>
</g>
<rect x="1043.4" y="679.4" width="274.1" height="198.1" fill="url(#bgP)"/>
<line x1="1044.4" y1="852.6" x2="1316.5" y2="852.6" stroke="#DCD4DC" stroke-width="1.1"/>
<line x1="1044.4" y1="803.1" x2="1316.5" y2="803.1" stroke="#DCD4DC" stroke-width="1.1"/>
<line x1="1044.4" y1="753.6" x2="1316.5" y2="753.6" stroke="#DCD4DC" stroke-width="1.1"/>
<line x1="1044.4" y1="704.1" x2="1316.5" y2="704.1" stroke="#DCD4DC" stroke-width="1.1"/>
<line x1="1057.5" y1="680.4" x2="1057.5" y2="876.5" stroke="#DCD4DC" stroke-width="1.1"/>
<line x1="1104.8" y1="680.4" x2="1104.8" y2="876.5" stroke="#DCD4DC" stroke-width="1.1"/>
<line x1="1152.1" y1="680.4" x2="1152.1" y2="876.5" stroke="#DCD4DC" stroke-width="1.1"/>
<line x1="1199.4" y1="680.4" x2="1199.4" y2="876.5" stroke="#DCD4DC" stroke-width="1.1"/>
<line x1="1246.7" y1="680.4" x2="1246.7" y2="876.5" stroke="#DCD4DC" stroke-width="1.1"/>
<line x1="1294" y1="680.4" x2="1294" y2="876.5" stroke="#DCD4DC" stroke-width="1.1"/>
<path d="M1043.4,852.6 h5 M1043.4,803.1 h5 M1043.4,753.6 h5 M1043.4,704.1 h5" stroke="#960E9E" stroke-width="1.5" fill="none"/>
<path d="M1043.4,864.98 h3 M1043.4,840.23 h3 M1043.4,827.85 h3 M1043.4,815.48 h3 M1043.4,790.73 h3 M1043.4,778.35 h3 M1043.4,765.98 h3 M1043.4,741.23 h3 M1043.4,728.85 h3 M1043.4,716.48 h3 M1043.4,691.73 h3 M1043.4,679.35 h3" stroke="#960E9E" stroke-width="1.4" fill="none"/>
<path d="M1057.5,877.5 v-5 M1104.8,877.5 v-5 M1152.1,877.5 v-5 M1199.4,877.5 v-5 M1246.7,877.5 v-5 M1294,877.5 v-5" stroke="#960E9E" stroke-width="1.5" fill="none"/>
<path d="M1045.67,877.5 v-3 M1069.33,877.5 v-3 M1081.15,877.5 v-3 M1092.97,877.5 v-3 M1116.62,877.5 v-3 M1128.45,877.5 v-3 M1140.28,877.5 v-3 M1163.92,877.5 v-3 M1175.75,877.5 v-3 M1187.58,877.5 v-3 M1211.22,877.5 v-3 M1223.05,877.5 v-3 M1234.88,877.5 v-3 M1258.53,877.5 v-3 M1270.35,877.5 v-3 M1282.17,877.5 v-3 M1305.83,877.5 v-3 M1317.65,877.5 v-3" stroke="#960E9E" stroke-width="1.4" fill="none"/>
<text x="1037.6" y="857.2" font-family="'Liberation Sans', Arial, sans-serif" font-size="12.9" font-weight="bold" fill="#000" text-anchor="end" textLength="17.9" lengthAdjust="spacingAndGlyphs">0.0</text>
<text x="1037.6" y="807.7" font-family="'Liberation Sans', Arial, sans-serif" font-size="12.9" font-weight="bold" fill="#000" text-anchor="end" textLength="17.9" lengthAdjust="spacingAndGlyphs">0.1</text>
<text x="1037.6" y="758.2" font-family="'Liberation Sans', Arial, sans-serif" font-size="12.9" font-weight="bold" fill="#000" text-anchor="end" textLength="17.9" lengthAdjust="spacingAndGlyphs">0.2</text>
<text x="1037.6" y="708.7" font-family="'Liberation Sans', Arial, sans-serif" font-size="12.9" font-weight="bold" fill="#000" text-anchor="end" textLength="17.9" lengthAdjust="spacingAndGlyphs">0.3</text>
<text x="1057.5" y="892.5" font-family="'Liberation Sans', Arial, sans-serif" font-size="12.9" font-weight="bold" fill="#000" text-anchor="middle" textLength="17.9" lengthAdjust="spacingAndGlyphs">0.0</text>
<text x="1104.8" y="892.5" font-family="'Liberation Sans', Arial, sans-serif" font-size="12.9" font-weight="bold" fill="#000" text-anchor="middle" textLength="17.9" lengthAdjust="spacingAndGlyphs">0.1</text>
<text x="1152.1" y="892.5" font-family="'Liberation Sans', Arial, sans-serif" font-size="12.9" font-weight="bold" fill="#000" text-anchor="middle" textLength="17.9" lengthAdjust="spacingAndGlyphs">0.2</text>
<text x="1199.4" y="892.5" font-family="'Liberation Sans', Arial, sans-serif" font-size="12.9" font-weight="bold" fill="#000" text-anchor="middle" textLength="17.9" lengthAdjust="spacingAndGlyphs">0.3</text>
<text x="1246.7" y="892.5" font-family="'Liberation Sans', Arial, sans-serif" font-size="12.9" font-weight="bold" fill="#000" text-anchor="middle" textLength="17.9" lengthAdjust="spacingAndGlyphs">0.4</text>
<text x="1294" y="892.5" font-family="'Liberation Sans', Arial, sans-serif" font-size="12.9" font-weight="bold" fill="#000" text-anchor="middle" textLength="17.9" lengthAdjust="spacingAndGlyphs">0.5</text>
<g><rect x="1064.1" y="850.2" width="7.6" height="7.6" fill="#fff" stroke="#560092" stroke-width="1.5"/><rect x="1064.1" y="850.2" width="7.6" height="3.99" fill="#560092"/><rect x="1065.1" y="845.4" width="7.6" height="7.6" fill="#fff" stroke="#560092" stroke-width="1.5"/><rect x="1065.1" y="845.4" width="7.6" height="3.99" fill="#560092"/><rect x="1067" y="839.8" width="7.6" height="7.6" fill="#fff" stroke="#560092" stroke-width="1.5"/><rect x="1067" y="839.8" width="7.6" height="3.99" fill="#560092"/><rect x="1069.8" y="834.1" width="7.6" height="7.6" fill="#fff" stroke="#560092" stroke-width="1.5"/><rect x="1069.8" y="834.1" width="7.6" height="3.99" fill="#560092"/><rect x="1073.6" y="828.5" width="7.6" height="7.6" fill="#fff" stroke="#560092" stroke-width="1.5"/><rect x="1073.6" y="828.5" width="7.6" height="3.99" fill="#560092"/><rect x="1078.3" y="822.8" width="7.6" height="7.6" fill="#fff" stroke="#560092" stroke-width="1.5"/><rect x="1078.3" y="822.8" width="7.6" height="3.99" fill="#560092"/><rect x="1083.9" y="817.1" width="7.6" height="7.6" fill="#fff" stroke="#560092" stroke-width="1.5"/><rect x="1083.9" y="817.1" width="7.6" height="3.99" fill="#560092"/><rect x="1091.5" y="810.5" width="7.6" height="7.6" fill="#fff" stroke="#560092" stroke-width="1.5"/><rect x="1091.5" y="810.5" width="7.6" height="3.99" fill="#560092"/><rect x="1100.9" y="803.9" width="7.6" height="7.6" fill="#fff" stroke="#560092" stroke-width="1.5"/><rect x="1100.9" y="803.9" width="7.6" height="3.99" fill="#560092"/><rect x="1112.2" y="797.3" width="7.6" height="7.6" fill="#fff" stroke="#560092" stroke-width="1.5"/><rect x="1112.2" y="797.3" width="7.6" height="3.99" fill="#560092"/><rect x="1126.4" y="794.5" width="7.6" height="7.6" fill="#fff" stroke="#560092" stroke-width="1.5"/><rect x="1126.4" y="794.5" width="7.6" height="3.99" fill="#560092"/><rect x="1141.5" y="794.5" width="7.6" height="7.6" fill="#fff" stroke="#560092" stroke-width="1.5"/><rect x="1141.5" y="794.5" width="7.6" height="3.99" fill="#560092"/><rect x="1157.5" y="794.5" width="7.6" height="7.6" fill="#fff" stroke="#560092" stroke-width="1.5"/><rect x="1157.5" y="794.5" width="7.6" height="3.99" fill="#560092"/><rect x="1172.6" y="797.3" width="7.6" height="7.6" fill="#fff" stroke="#560092" stroke-width="1.5"/><rect x="1172.6" y="797.3" width="7.6" height="3.99" fill="#560092"/><rect x="1186.8" y="803" width="7.6" height="7.6" fill="#fff" stroke="#560092" stroke-width="1.5"/><rect x="1186.8" y="803" width="7.6" height="3.99" fill="#560092"/><rect x="1199" y="808.7" width="7.6" height="7.6" fill="#fff" stroke="#560092" stroke-width="1.5"/><rect x="1199" y="808.7" width="7.6" height="3.99" fill="#560092"/><rect x="1207.5" y="813.4" width="7.6" height="7.6" fill="#fff" stroke="#560092" stroke-width="1.5"/><rect x="1207.5" y="813.4" width="7.6" height="3.99" fill="#560092"/><rect x="1214.1" y="816.2" width="7.6" height="7.6" fill="#fff" stroke="#560092" stroke-width="1.5"/><rect x="1214.1" y="816.2" width="7.6" height="3.99" fill="#560092"/><rect x="1221.7" y="811.5" width="7.6" height="7.6" fill="#fff" stroke="#560092" stroke-width="1.5"/><rect x="1221.7" y="811.5" width="7.6" height="3.99" fill="#560092"/><rect x="1248.7" y="781.3" width="7.6" height="7.6" fill="#fff" stroke="#560092" stroke-width="1.5"/><rect x="1248.7" y="781.3" width="7.6" height="3.99" fill="#560092"/><rect x="1276.4" y="758.7" width="7.6" height="7.6" fill="#fff" stroke="#560092" stroke-width="1.5"/><rect x="1276.4" y="758.7" width="7.6" height="3.99" fill="#560092"/></g>
<g><polygon points="1074.5,851.6 1077.92,853.7 1077.92,857.9 1074.5,860 1071.08,857.9 1071.08,853.7" fill="#FF80F4" stroke="#FF0A84" stroke-width="1.5"/><polygon points="1075.5,847.9 1078.92,850 1078.92,854.2 1075.5,856.3 1072.08,854.2 1072.08,850" fill="#FF80F4" stroke="#FF0A84" stroke-width="1.5"/><polygon points="1077.2,844.3 1080.62,846.4 1080.62,850.6 1077.2,852.7 1073.78,850.6 1073.78,846.4" fill="#FF80F4" stroke="#FF0A84" stroke-width="1.5"/><polygon points="1079.2,841.3 1082.62,843.4 1082.62,847.6 1079.2,849.7 1075.78,847.6 1075.78,843.4" fill="#FF80F4" stroke="#FF0A84" stroke-width="1.5"/><polygon points="1083,835.6 1086.42,837.7 1086.42,841.9 1083,844 1079.58,841.9 1079.58,837.7" fill="#FF80F4" stroke="#FF0A84" stroke-width="1.5"/><polygon points="1086.8,830 1090.22,832.1 1090.22,836.3 1086.8,838.4 1083.38,836.3 1083.38,832.1" fill="#FF80F4" stroke="#FF0A84" stroke-width="1.5"/><polygon points="1091.5,824.3 1094.92,826.4 1094.92,830.6 1091.5,832.7 1088.08,830.6 1088.08,826.4" fill="#FF80F4" stroke="#FF0A84" stroke-width="1.5"/><polygon points="1097.2,818.3 1100.62,820.4 1100.62,824.6 1097.2,826.7 1093.78,824.6 1093.78,820.4" fill="#FF80F4" stroke="#FF0A84" stroke-width="1.5"/><polygon points="1104.7,812.6 1108.12,814.7 1108.12,818.9 1104.7,821 1101.28,818.9 1101.28,814.7" fill="#FF80F4" stroke="#FF0A84" stroke-width="1.5"/><polygon points="1112.8,807.3 1116.22,809.4 1116.22,813.6 1112.8,815.7 1109.38,813.6 1109.38,809.4" fill="#FF80F4" stroke="#FF0A84" stroke-width="1.5"/><polygon points="1123,801.6 1126.42,803.7 1126.42,807.9 1123,810 1119.58,807.9 1119.58,803.7" fill="#FF80F4" stroke="#FF0A84" stroke-width="1.5"/><polygon points="1135.8,796 1139.22,798.1 1139.22,802.3 1135.8,804.4 1132.38,802.3 1132.38,798.1" fill="#FF80F4" stroke="#FF0A84" stroke-width="1.5"/><polygon points="1150,788.1 1153.42,790.2 1153.42,794.4 1150,796.5 1146.58,794.4 1146.58,790.2" fill="#FF80F4" stroke="#FF0A84" stroke-width="1.5"/><polygon points="1169.8,783.7 1173.22,785.8 1173.22,790 1169.8,792.1 1166.38,790 1166.38,785.8" fill="#FF80F4" stroke="#FF0A84" stroke-width="1.5"/><polygon points="1190.2,783.2 1193.62,785.3 1193.62,789.5 1190.2,791.6 1186.78,789.5 1186.78,785.3" fill="#FF80F4" stroke="#FF0A84" stroke-width="1.5"/><polygon points="1211.9,786.6 1215.32,788.7 1215.32,792.9 1211.9,795 1208.48,792.9 1208.48,788.7" fill="#FF80F4" stroke="#FF0A84" stroke-width="1.5"/><polygon points="1230.2,793.2 1233.62,795.3 1233.62,799.5 1230.2,801.6 1226.78,799.5 1226.78,795.3" fill="#FF80F4" stroke="#FF0A84" stroke-width="1.5"/><polygon points="1244,800.7 1247.42,802.8 1247.42,807 1244,809.1 1240.58,807 1240.58,802.8" fill="#FF80F4" stroke="#FF0A84" stroke-width="1.5"/><polygon points="1254.2,802.6 1257.62,804.7 1257.62,808.9 1254.2,811 1250.78,808.9 1250.78,804.7" fill="#FF80F4" stroke="#FF0A84" stroke-width="1.5"/><polygon points="1265.7,797.9 1269.12,800 1269.12,804.2 1265.7,806.3 1262.28,804.2 1262.28,800" fill="#FF80F4" stroke="#FF0A84" stroke-width="1.5"/><polygon points="1279.8,783.7 1283.22,785.8 1283.22,790 1279.8,792.1 1276.38,790 1276.38,785.8" fill="#FF80F4" stroke="#FF0A84" stroke-width="1.5"/><polygon points="1309.4,761.1 1312.82,763.2 1312.82,767.4 1309.4,769.5 1305.98,767.4 1305.98,763.2" fill="#FF80F4" stroke="#FF0A84" stroke-width="1.5"/></g>
<path d="M1067.9,855 C1068.07,854 1068.38,851 1068.9,849 C1069.42,847 1070.15,844.92 1071,843 C1071.85,841.08 1072.83,839.42 1074,837.5 C1075.17,835.58 1076.5,833.5 1078,831.5 C1079.5,829.5 1081.17,827.5 1083,825.5 C1084.83,823.5 1086.67,821.58 1089,819.5 C1091.33,817.42 1094.17,815.08 1097,813 C1099.83,810.92 1102.67,808.92 1106,807 C1109.33,805.08 1112.83,803.08 1117,801.5 C1121.17,799.92 1126.17,798.5 1131,797.5 C1135.83,796.5 1140.83,795.67 1146,795.5 C1151.17,795.33 1156.67,795.67 1162,796.5 C1167.33,797.33 1173,798.83 1178,800.5 C1183,802.17 1187.67,804.42 1192,806.5 C1196.33,808.58 1200.5,811.17 1204,813 C1207.5,814.83 1210.5,816.58 1213,817.5 C1215.5,818.42 1216.67,819.33 1219,818.5 C1221.33,817.67 1221.42,818.07 1227,812.5 C1232.58,806.93 1243.63,793.43 1252.5,785.1 C1261.37,776.77 1275.58,766.27 1280.2,762.5" fill="none" stroke="#560092" stroke-width="2" stroke-linejoin="round" stroke-linecap="round"/>
<path d="M1074.5,857 C1074.92,855.67 1075.75,851.83 1077,849 C1078.25,846.17 1079.83,843.25 1082,840 C1084.17,836.75 1087,832.83 1090,829.5 C1093,826.17 1096.33,823.08 1100,820 C1103.67,816.92 1107.67,813.83 1112,811 C1116.33,808.17 1121,805.42 1126,803 C1131,800.58 1136.33,798.33 1142,796.5 C1147.67,794.67 1153.67,793.08 1160,792 C1166.33,790.92 1173.33,790.08 1180,790 C1186.67,789.92 1193.33,790.5 1200,791.5 C1206.67,792.5 1213.67,794.25 1220,796 C1226.33,797.75 1233.33,800.5 1238,802 C1242.67,803.5 1244.67,804.58 1248,805 C1251.33,805.42 1254.33,805.58 1258,804.5 C1261.67,803.42 1264.67,802.25 1270,798.5 C1275.33,794.75 1283.43,787.53 1290,782 C1296.57,776.47 1306.17,768.08 1309.4,765.3" fill="none" stroke="#FF0A84" stroke-width="2" stroke-linejoin="round" stroke-linecap="round"/>
<rect x="1043.4" y="679.4" width="274.1" height="198.1" fill="none" stroke="#960E9E" stroke-width="1.8"/>
<rect x="1454" y="958.7" width="291.5" height="219.2" fill="#EEFEFE"/>
<line x1="1455" y1="1152.6" x2="1744.5" y2="1152.6" stroke="#D4DCDC" stroke-width="1.1"/>
<line x1="1455" y1="1101.4" x2="1744.5" y2="1101.4" stroke="#D4DCDC" stroke-width="1.1"/>
<line x1="1455" y1="1050.2" x2="1744.5" y2="1050.2" stroke="#D4DCDC" stroke-width="1.1"/>
<line x1="1455" y1="999" x2="1744.5" y2="999" stroke="#D4DCDC" stroke-width="1.1"/>
<line x1="1482.6" y1="959.7" x2="1482.6" y2="1176.9" stroke="#D4DCDC" stroke-width="1.1"/>
<line x1="1539.9" y1="959.7" x2="1539.9" y2="1176.9" stroke="#D4DCDC" stroke-width="1.1"/>
<line x1="1597.2" y1="959.7" x2="1597.2" y2="1176.9" stroke="#D4DCDC" stroke-width="1.1"/>
<line x1="1654.5" y1="959.7" x2="1654.5" y2="1176.9" stroke="#D4DCDC" stroke-width="1.1"/>
<line x1="1711.8" y1="959.7" x2="1711.8" y2="1176.9" stroke="#D4DCDC" stroke-width="1.1"/>
<path d="M1454,1152.6 h6 M1454,1101.4 h6 M1454,1050.2 h6 M1454,999 h6" stroke="#0A8C8C" stroke-width="1.5" fill="none"/>
<path d="M1454,1173.08 h3.5 M1454,1162.84 h3.5 M1454,1142.36 h3.5 M1454,1132.12 h3.5 M1454,1121.88 h3.5 M1454,1111.64 h3.5 M1454,1091.16 h3.5 M1454,1080.92 h3.5 M1454,1070.68 h3.5 M1454,1060.44 h3.5 M1454,1039.96 h3.5 M1454,1029.72 h3.5 M1454,1019.48 h3.5 M1454,1009.24 h3.5 M1454,988.76 h3.5 M1454,978.52 h3.5 M1454,968.28 h3.5" stroke="#0A8C8C" stroke-width="1.5" fill="none"/>
<path d="M1482.6,1177.9 v-6 M1539.9,1177.9 v-6 M1597.2,1177.9 v-6 M1654.5,1177.9 v-6 M1711.8,1177.9 v-6" stroke="#0A8C8C" stroke-width="1.5" fill="none"/>
<path d="M1459.68,1177.9 v-3.5 M1471.14,1177.9 v-3.5 M1494.06,1177.9 v-3.5 M1505.52,1177.9 v-3.5 M1516.98,1177.9 v-3.5 M1528.44,1177.9 v-3.5 M1551.36,1177.9 v-3.5 M1562.82,1177.9 v-3.5 M1574.28,1177.9 v-3.5 M1585.74,1177.9 v-3.5 M1608.66,1177.9 v-3.5 M1620.12,1177.9 v-3.5 M1631.58,1177.9 v-3.5 M1643.04,1177.9 v-3.5 M1665.96,1177.9 v-3.5 M1677.42,1177.9 v-3.5 M1688.88,1177.9 v-3.5 M1700.34,1177.9 v-3.5 M1723.26,1177.9 v-3.5 M1734.72,1177.9 v-3.5" stroke="#0A8C8C" stroke-width="1.5" fill="none"/>
<text x="1447.6" y="1157.8" font-family="'Liberation Sans', Arial, sans-serif" font-size="14.6" font-weight="bold" fill="#000" text-anchor="end" textLength="8.4" lengthAdjust="spacingAndGlyphs">0</text>
<text x="1447.6" y="1106.6" font-family="'Liberation Sans', Arial, sans-serif" font-size="14.6" font-weight="bold" fill="#000" text-anchor="end" textLength="8.4" lengthAdjust="spacingAndGlyphs">1</text>
<text x="1447.6" y="1055.4" font-family="'Liberation Sans', Arial, sans-serif" font-size="14.6" font-weight="bold" fill="#000" text-anchor="end" textLength="8.4" lengthAdjust="spacingAndGlyphs">2</text>
<text x="1447.6" y="1004.2" font-family="'Liberation Sans', Arial, sans-serif" font-size="14.6" font-weight="bold" fill="#000" text-anchor="end" textLength="8.4" lengthAdjust="spacingAndGlyphs">3</text>
<text x="1482.6" y="1196.7" font-family="'Liberation Sans', Arial, sans-serif" font-size="14.6" font-weight="bold" fill="#000" text-anchor="middle" textLength="8.4" lengthAdjust="spacingAndGlyphs">0</text>
<text x="1539.9" y="1196.7" font-family="'Liberation Sans', Arial, sans-serif" font-size="14.6" font-weight="bold" fill="#000" text-anchor="middle" textLength="8.4" lengthAdjust="spacingAndGlyphs">1</text>
<text x="1597.2" y="1196.7" font-family="'Liberation Sans', Arial, sans-serif" font-size="14.6" font-weight="bold" fill="#000" text-anchor="middle" textLength="8.4" lengthAdjust="spacingAndGlyphs">2</text>
<text x="1654.5" y="1196.7" font-family="'Liberation Sans', Arial, sans-serif" font-size="14.6" font-weight="bold" fill="#000" text-anchor="middle" textLength="8.4" lengthAdjust="spacingAndGlyphs">3</text>
<text x="1711.8" y="1196.7" font-family="'Liberation Sans', Arial, sans-serif" font-size="14.6" font-weight="bold" fill="#000" text-anchor="middle" textLength="8.4" lengthAdjust="spacingAndGlyphs">4</text>
<rect x="1476" y="1132.8" width="44" height="28.6" fill="#FBE6F6" fill-opacity="0.8" stroke="#B020B0" stroke-width="1.8" stroke-dasharray="6,4"/>
<g><rect x="1479.4" y="1144.2" width="7.6" height="7.6" fill="#fff" stroke="#B80006" stroke-width="1.6"/><rect x="1480.4" y="1139.2" width="7.6" height="7.6" fill="#fff" stroke="#B80006" stroke-width="1.6"/><rect x="1481.5" y="1134.2" width="7.6" height="7.6" fill="#fff" stroke="#B80006" stroke-width="1.6"/><rect x="1482.6" y="1128.7" width="7.6" height="7.6" fill="#fff" stroke="#B80006" stroke-width="1.6"/><rect x="1483.6" y="1123.7" width="7.6" height="7.6" fill="#fff" stroke="#B80006" stroke-width="1.6"/><rect x="1484.6" y="1118.2" width="7.6" height="7.6" fill="#fff" stroke="#B80006" stroke-width="1.6"/><rect x="1485.6" y="1112.7" width="7.6" height="7.6" fill="#fff" stroke="#B80006" stroke-width="1.6"/><rect x="1486.7" y="1106.9" width="7.6" height="7.6" fill="#fff" stroke="#B80006" stroke-width="1.6"/><rect x="1488.3" y="1096.4" width="7.6" height="7.6" fill="#fff" stroke="#B80006" stroke-width="1.6"/><rect x="1490.9" y="1083.8" width="7.6" height="7.6" fill="#fff" stroke="#B80006" stroke-width="1.6"/><rect x="1493.8" y="1069" width="7.6" height="7.6" fill="#fff" stroke="#B80006" stroke-width="1.6"/><rect x="1498" y="1050.3" width="7.6" height="7.6" fill="#fff" stroke="#B80006" stroke-width="1.6"/><rect x="1504.6" y="1027.2" width="7.6" height="7.6" fill="#fff" stroke="#B80006" stroke-width="1.6"/><rect x="1514.1" y="1000.1" width="7.6" height="7.6" fill="#fff" stroke="#B80006" stroke-width="1.6"/><rect x="1526.2" y="965.9" width="7.6" height="7.6" fill="#fff" stroke="#B80006" stroke-width="1.6"/></g>
<g><circle cx="1484.5" cy="1150" r="3.8" fill="#00EC00" stroke="#006400" stroke-width="1.5"/><circle cx="1487" cy="1146" r="3.8" fill="#00EC00" stroke="#006400" stroke-width="1.5"/><circle cx="1490.5" cy="1140.5" r="3.8" fill="#00EC00" stroke="#006400" stroke-width="1.5"/><circle cx="1495" cy="1134.5" r="3.8" fill="#00EC00" stroke="#006400" stroke-width="1.5"/><circle cx="1502.4" cy="1126.2" r="3.8" fill="#00EC00" stroke="#006400" stroke-width="1.5"/><circle cx="1508.4" cy="1121.1" r="3.8" fill="#00EC00" stroke="#006400" stroke-width="1.5"/><circle cx="1514.1" cy="1116.3" r="3.8" fill="#00EC00" stroke="#006400" stroke-width="1.5"/><circle cx="1520.7" cy="1112.3" r="3.8" fill="#00EC00" stroke="#006400" stroke-width="1.5"/><circle cx="1528.9" cy="1107.9" r="3.8" fill="#00EC00" stroke="#006400" stroke-width="1.5"/><circle cx="1537.7" cy="1103.5" r="3.8" fill="#00EC00" stroke="#006400" stroke-width="1.5"/><circle cx="1549.4" cy="1099.5" r="3.8" fill="#00EC00" stroke="#006400" stroke-width="1.5"/><circle cx="1561.3" cy="1097.7" r="3.8" fill="#00EC00" stroke="#006400" stroke-width="1.5"/><circle cx="1573.6" cy="1097.1" r="3.8" fill="#00EC00" stroke="#006400" stroke-width="1.5"/><circle cx="1585.5" cy="1097.7" r="3.8" fill="#00EC00" stroke="#006400" stroke-width="1.5"/><circle cx="1597.2" cy="1099.1" r="3.8" fill="#00EC00" stroke="#006400" stroke-width="1.5"/><circle cx="1607.5" cy="1101.3" r="3.8" fill="#00EC00" stroke="#006400" stroke-width="1.5"/><circle cx="1617" cy="1103" r="3.8" fill="#00EC00" stroke="#006400" stroke-width="1.5"/><circle cx="1625.2" cy="1103.5" r="3.8" fill="#00EC00" stroke="#006400" stroke-width="1.5"/><circle cx="1632.4" cy="1101.9" r="3.8" fill="#00EC00" stroke="#006400" stroke-width="1.5"/><circle cx="1639" cy="1096.9" r="3.8" fill="#00EC00" stroke="#006400" stroke-width="1.5"/><circle cx="1645.6" cy="1088.3" r="3.8" fill="#00EC00" stroke="#006400" stroke-width="1.5"/><circle cx="1651.8" cy="1072.8" r="3.8" fill="#00EC00" stroke="#006400" stroke-width="1.5"/><circle cx="1660.4" cy="1048.4" r="3.8" fill="#00EC00" stroke="#006400" stroke-width="1.5"/><circle cx="1672.5" cy="1008.7" r="3.8" fill="#00EC00" stroke="#006400" stroke-width="1.5"/></g>
<g><polygon points="1484.5,1144.64 1488.7,1151.91 1480.3,1151.91" fill="#80FFFF" stroke="#0040F0" stroke-width="1.4" stroke-linejoin="miter"/><polygon points="1487.5,1140.64 1491.7,1147.91 1483.3,1147.91" fill="#80FFFF" stroke="#0040F0" stroke-width="1.4" stroke-linejoin="miter"/><polygon points="1491,1136.64 1495.2,1143.91 1486.8,1143.91" fill="#80FFFF" stroke="#0040F0" stroke-width="1.4" stroke-linejoin="miter"/><polygon points="1495,1133.14 1499.2,1140.41 1490.8,1140.41" fill="#80FFFF" stroke="#0040F0" stroke-width="1.4" stroke-linejoin="miter"/><polygon points="1500,1130.64 1504.2,1137.91 1495.8,1137.91" fill="#80FFFF" stroke="#0040F0" stroke-width="1.4" stroke-linejoin="miter"/><polygon points="1505.5,1129.14 1509.7,1136.41 1501.3,1136.41" fill="#80FFFF" stroke="#0040F0" stroke-width="1.4" stroke-linejoin="miter"/><polygon points="1511.5,1128.44 1515.7,1135.71 1507.3,1135.71" fill="#80FFFF" stroke="#0040F0" stroke-width="1.4" stroke-linejoin="miter"/><polygon points="1517.5,1127.94 1521.7,1135.21 1513.3,1135.21" fill="#80FFFF" stroke="#0040F0" stroke-width="1.4" stroke-linejoin="miter"/><polygon points="1523.5,1127.44 1527.7,1134.71 1519.3,1134.71" fill="#80FFFF" stroke="#0040F0" stroke-width="1.4" stroke-linejoin="miter"/><polygon points="1529.5,1126.84 1533.7,1134.11 1525.3,1134.11" fill="#80FFFF" stroke="#0040F0" stroke-width="1.4" stroke-linejoin="miter"/><polygon points="1535,1125.94 1539.2,1133.21 1530.8,1133.21" fill="#80FFFF" stroke="#0040F0" stroke-width="1.4" stroke-linejoin="miter"/><polygon points="1540,1124.44 1544.2,1131.71 1535.8,1131.71" fill="#80FFFF" stroke="#0040F0" stroke-width="1.4" stroke-linejoin="miter"/><polygon points="1544.3,1121.94 1548.5,1129.21 1540.1,1129.21" fill="#80FFFF" stroke="#0040F0" stroke-width="1.4" stroke-linejoin="miter"/><polygon points="1547.6,1117.44 1551.8,1124.71 1543.4,1124.71" fill="#80FFFF" stroke="#0040F0" stroke-width="1.4" stroke-linejoin="miter"/><polygon points="1551.6,1110.14 1555.8,1117.41 1547.4,1117.41" fill="#80FFFF" stroke="#0040F0" stroke-width="1.4" stroke-linejoin="miter"/><polygon points="1556.4,1098.64 1560.6,1105.91 1552.2,1105.91" fill="#80FFFF" stroke="#0040F0" stroke-width="1.4" stroke-linejoin="miter"/><polygon points="1561.5,1082.14 1565.7,1089.41 1557.3,1089.41" fill="#80FFFF" stroke="#0040F0" stroke-width="1.4" stroke-linejoin="miter"/><polygon points="1571.4,1057.94 1575.6,1065.21 1567.2,1065.21" fill="#80FFFF" stroke="#0040F0" stroke-width="1.4" stroke-linejoin="miter"/><polygon points="1584.6,1021.14 1588.8,1028.41 1580.4,1028.41" fill="#80FFFF" stroke="#0040F0" stroke-width="1.4" stroke-linejoin="miter"/><polygon points="1607.1,966.44 1611.3,973.71 1602.9,973.71" fill="#80FFFF" stroke="#0040F0" stroke-width="1.4" stroke-linejoin="miter"/></g>
<path d="M1482.6,1152.6 C1482.92,1151 1483.85,1146.1 1484.5,1143 C1485.15,1139.9 1485.83,1137.17 1486.5,1134 C1487.17,1130.83 1487.83,1127.67 1488.5,1124 C1489.17,1120.33 1489.75,1116.33 1490.5,1112 C1491.25,1107.67 1492.08,1103 1493,1098 C1493.92,1093 1494.83,1088 1496,1082 C1497.17,1076 1498.33,1069.17 1500,1062 C1501.67,1054.83 1503.67,1047.17 1506,1039 C1508.33,1030.83 1511,1022 1514,1013 C1517,1004 1520.87,994 1524,985 C1527.13,976 1531.33,963.33 1532.8,959" fill="none" stroke="#B80006" stroke-width="2" stroke-linejoin="round" stroke-linecap="round"/>
<path d="M1482.6,1152.6 C1483.33,1151.25 1485.27,1147.18 1487,1144.5 C1488.73,1141.82 1490.43,1139.42 1493,1136.5 C1495.57,1133.58 1498.9,1130.25 1502.4,1127 C1505.9,1123.75 1509.73,1120.08 1514,1117 C1518.27,1113.92 1522.83,1111.08 1528,1108.5 C1533.17,1105.92 1539.33,1103.17 1545,1101.5 C1550.67,1099.83 1556.17,1099.08 1562,1098.5 C1567.83,1097.92 1573.67,1097.83 1580,1098 C1586.33,1098.17 1593.83,1098.83 1600,1099.5 C1606.17,1100.17 1612.33,1101.5 1617,1102 C1621.67,1102.5 1624.83,1103 1628,1102.5 C1631.17,1102 1633.5,1100.92 1636,1099 C1638.5,1097.08 1640.67,1094.67 1643,1091 C1645.33,1087.33 1647.17,1083.83 1650,1077 C1652.83,1070.17 1656.25,1060.67 1660,1050 C1663.75,1039.33 1667.37,1028.22 1672.5,1013 C1677.63,997.78 1687.75,967.75 1690.8,958.7" fill="none" stroke="#007200" stroke-width="2" stroke-linejoin="round" stroke-linecap="round"/>
<path d="M1482.6,1152.6 C1483.33,1151.33 1485.43,1147.27 1487,1145 C1488.57,1142.73 1490.17,1140.67 1492,1139 C1493.83,1137.33 1495.67,1136 1498,1135 C1500.33,1134 1503,1133.5 1506,1133 C1509,1132.5 1512.33,1132.33 1516,1132 C1519.67,1131.67 1524.33,1131.42 1528,1131 C1531.67,1130.58 1535.33,1130.25 1538,1129.5 C1540.67,1128.75 1542.25,1128.08 1544,1126.5 C1545.75,1124.92 1547,1122.75 1548.5,1120 C1550,1117.25 1551.42,1113.83 1553,1110 C1554.58,1106.17 1556.17,1102 1558,1097 C1559.83,1092 1561.67,1086.17 1564,1080 C1566.33,1073.83 1568.5,1069.08 1572,1060 C1575.5,1050.92 1580.67,1036.67 1585,1025.5 C1589.33,1014.33 1593.73,1004.08 1598,993 C1602.27,981.92 1608.5,964.67 1610.6,959" fill="none" stroke="#0A40E8" stroke-width="2" stroke-linejoin="round" stroke-linecap="round"/>
<path d="M1482.6,1152.6 C1483.83,1151.5 1487.1,1147.6 1490,1146 C1492.9,1144.4 1496.67,1143.67 1500,1143 C1503.33,1142.33 1507.17,1141.83 1510,1142 C1512.83,1142.17 1515.83,1143.67 1517,1144" fill="none" stroke="#FF0A84" stroke-width="2.2" stroke-linejoin="round" stroke-linecap="round"/>
<g><polygon points="1486,1146.75 1488.65,1148.38 1488.65,1151.62 1486,1153.25 1483.35,1151.62 1483.35,1148.38" fill="#FF80F4" stroke="#FF0A84" stroke-width="1.3"/><polygon points="1491,1143.75 1493.65,1145.38 1493.65,1148.62 1491,1150.25 1488.35,1148.62 1488.35,1145.38" fill="#FF80F4" stroke="#FF0A84" stroke-width="1.3"/><polygon points="1497,1142.75 1499.65,1144.38 1499.65,1147.62 1497,1149.25 1494.35,1147.62 1494.35,1144.38" fill="#FF80F4" stroke="#FF0A84" stroke-width="1.3"/><polygon points="1503,1141.75 1505.65,1143.38 1505.65,1146.62 1503,1148.25 1500.35,1146.62 1500.35,1143.38" fill="#FF80F4" stroke="#FF0A84" stroke-width="1.3"/><polygon points="1509,1140.75 1511.65,1142.38 1511.65,1145.62 1509,1147.25 1506.35,1145.62 1506.35,1142.38" fill="#FF80F4" stroke="#FF0A84" stroke-width="1.3"/><polygon points="1514,1140.25 1516.65,1141.88 1516.65,1145.12 1514,1146.75 1511.35,1145.12 1511.35,1141.88" fill="#FF80F4" stroke="#FF0A84" stroke-width="1.3"/></g>
<path d="M1482.6,1152.6 C1483.5,1151.83 1485.77,1149.1 1488,1148 C1490.23,1146.9 1493.17,1146.67 1496,1146 C1498.83,1145.33 1502.5,1144.58 1505,1144 C1507.5,1143.42 1510,1142.75 1511,1142.5" fill="none" stroke="#560092" stroke-width="2.2" stroke-linejoin="round" stroke-linecap="round"/>
<g><rect x="1481" y="1148" width="6" height="6" fill="#fff" stroke="#560092" stroke-width="1.3"/><rect x="1481" y="1148" width="6" height="3.15" fill="#560092"/><rect x="1485" y="1145.5" width="6" height="6" fill="#fff" stroke="#560092" stroke-width="1.3"/><rect x="1485" y="1145.5" width="6" height="3.15" fill="#560092"/><rect x="1490" y="1144" width="6" height="6" fill="#fff" stroke="#560092" stroke-width="1.3"/><rect x="1490" y="1144" width="6" height="3.15" fill="#560092"/><rect x="1496" y="1143" width="6" height="6" fill="#fff" stroke="#560092" stroke-width="1.3"/><rect x="1496" y="1143" width="6" height="3.15" fill="#560092"/><rect x="1502" y="1142" width="6" height="6" fill="#fff" stroke="#560092" stroke-width="1.3"/><rect x="1502" y="1142" width="6" height="3.15" fill="#560092"/></g>
<rect x="1454" y="958.7" width="291.5" height="219.2" fill="none" stroke="#0A8C8C" stroke-width="1.8"/>
<rect x="998.6" y="677.8" width="748.2" height="547.2" fill="none" stroke="#000" stroke-width="2.3"/>
<rect x="1542.9" y="703.6" width="10.4" height="10.4" fill="#fff" stroke="#B80006" stroke-width="2.1"/>
<text x="1586.1" y="718.4" font-family="'Liberation Serif', 'Times New Roman', serif" font-size="28.2" font-weight="bold" fill="#000" text-anchor="start" textLength="54" lengthAdjust="spacingAndGlyphs">0.5 h</text>
<circle cx="1548.1" cy="742.8" r="5.85" fill="#00EC00" stroke="#006400" stroke-width="2.1"/>
<text x="1586.1" y="752.4" font-family="'Liberation Serif', 'Times New Roman', serif" font-size="28.2" font-weight="bold" fill="#000" text-anchor="start" textLength="46.6" lengthAdjust="spacingAndGlyphs">72 h</text>
<polygon points="1548.1,768.95 1554.4,779.86 1541.8,779.86" fill="#80FFFF" stroke="#0040F0" stroke-width="2.1" stroke-linejoin="miter"/>
<text x="1586.1" y="785.1" font-family="'Liberation Serif', 'Times New Roman', serif" font-size="28.2" font-weight="bold" fill="#000" text-anchor="start" textLength="60.1" lengthAdjust="spacingAndGlyphs">168 h</text>
<polygon points="1548.1,803.9 1553.31,807.1 1553.31,813.5 1548.1,816.7 1542.89,813.5 1542.89,807.1" fill="#FF80F4" stroke="#FF0A84" stroke-width="2.1"/>
<text x="1586.1" y="819.9" font-family="'Liberation Serif', 'Times New Roman', serif" font-size="28.2" font-weight="bold" fill="#000" text-anchor="start" textLength="60.1" lengthAdjust="spacingAndGlyphs">336 h</text>
<rect x="1543.1" y="839.1" width="10" height="10" fill="#fff" stroke="#560092" stroke-width="2.1"/><rect x="1543.1" y="839.1" width="10" height="5.25" fill="#560092"/>
<text x="1586.1" y="853.7" font-family="'Liberation Serif', 'Times New Roman', serif" font-size="28.2" font-weight="bold" fill="#000" text-anchor="start" textLength="60.1" lengthAdjust="spacingAndGlyphs">672 h</text>
<text x="1525.5" y="885.8" font-family="'Liberation Serif', 'Times New Roman', serif" font-size="27" font-weight="bold" fill="#000" text-anchor="start" textLength="208.5" lengthAdjust="spacingAndGlyphs">Line fitting curves</text>
<text x="1358" y="715" font-family="'Liberation Sans', Arial, sans-serif" font-size="24.4" font-weight="bold" fill="#0E4F76" text-anchor="start" textLength="75.3" lengthAdjust="spacingAndGlyphs">pH = 2</text>
<g font-family="'Liberation Sans', Arial, sans-serif" font-weight="bold" fill="#0E4F76">
<text x="1356.8" y="760.6" font-size="24.4">[</text>
<text x="1366" y="760.3" font-size="24.4" textLength="10.8" lengthAdjust="spacingAndGlyphs">F</text>
<text x="1379.6" y="745.1" font-size="15.13" textLength="4.6" lengthAdjust="spacingAndGlyphs">-</text>
<text x="1384.6" y="760.6" font-size="24.4">]</text>
<text x="1400.8" y="760.3" font-size="24.4" textLength="102.9" lengthAdjust="spacingAndGlyphs">= 0.02 M</text>
</g>
<text x="1389.2" y="929" font-family="'Liberation Sans', Arial, sans-serif" font-size="24" font-weight="bold" fill="#B4000E" text-anchor="start" textLength="80.9" lengthAdjust="spacingAndGlyphs">0.01 Hz</text>
<text x="1060.5" y="1029.1" font-family="'Liberation Sans', Arial, sans-serif" font-size="24" font-weight="bold" fill="#B4000E" text-anchor="start" textLength="81.1" lengthAdjust="spacingAndGlyphs">14.7 Hz</text>
<text x="1006" y="1112.8" font-family="'Liberation Sans', Arial, sans-serif" font-size="24" font-weight="bold" fill="#0E7E0E" text-anchor="start" textLength="78.4" lengthAdjust="spacingAndGlyphs">0.41 Hz</text>
<text x="1156.2" y="1221.8" font-family="'Liberation Sans', Arial, sans-serif" font-size="24" font-weight="bold" fill="#B4000E" text-anchor="start" textLength="82.4" lengthAdjust="spacingAndGlyphs">2.11 Hz</text>
<text x="1341" y="1100.9" font-family="'Liberation Sans', Arial, sans-serif" font-size="24" font-weight="bold" fill="#1846F0" text-anchor="start" textLength="78.4" lengthAdjust="spacingAndGlyphs">53.5 Hz</text>
<text x="1135.5" y="716.8" font-family="'Liberation Sans', Arial, sans-serif" font-size="24" font-weight="bold" fill="#000" text-anchor="start" textLength="80.5" lengthAdjust="spacingAndGlyphs">1.44 Hz</text>
<text x="1220.8" y="871.5" font-family="'Liberation Sans', Arial, sans-serif" font-size="24" font-weight="bold" fill="#000" text-anchor="start" textLength="82" lengthAdjust="spacingAndGlyphs">0.09 Hz</text>
<text x="1595" y="1035.1" font-family="'Liberation Sans', Arial, sans-serif" font-size="24" font-weight="bold" fill="#0E7E0E" text-anchor="start" textLength="59.5" lengthAdjust="spacingAndGlyphs">42 Hz</text>
<text x="1592.1" y="1172.8" font-family="'Liberation Sans', Arial, sans-serif" font-size="24" font-weight="bold" fill="#000" text-anchor="start" textLength="66.8" lengthAdjust="spacingAndGlyphs">8.1 Hz</text>
<line x1="1418.1" y1="896.9" x2="1395.94" y2="867.04" stroke="#B4000E" stroke-width="2.2" stroke-linecap="butt"/>
<polygon points="1389.9,858.9 1401.26,866.66 1395.94,867.04 1394.03,872.02" fill="#B4000E"/>
<line x1="1103.8" y1="1043.5" x2="1058.78" y2="1159.05" stroke="#B4000E" stroke-width="2.2" stroke-linecap="butt"/>
<polygon points="1055.1,1168.5 1055.63,1154.75 1058.78,1159.05 1064.01,1158.02" fill="#B4000E"/>
<line x1="1023.2" y1="1128.6" x2="1028.41" y2="1163.77" stroke="#0E7E0E" stroke-width="2.2" stroke-linecap="butt"/>
<polygon points="1029.9,1173.8 1023.54,1161.6 1028.41,1163.77 1032.45,1160.28" fill="#0E7E0E"/>
<line x1="1149.5" y1="1208.4" x2="1116.07" y2="1191.64" stroke="#B4000E" stroke-width="2.2" stroke-linecap="butt"/>
<polygon points="1107,1187.1 1120.64,1188.9 1116.07,1191.64 1116.61,1196.95" fill="#B4000E"/>
<line x1="1413.2" y1="1110.7" x2="1498.06" y2="1127.89" stroke="#1846F0" stroke-width="2.2" stroke-linecap="butt"/>
<polygon points="1508,1129.9 1494.37,1131.73 1498.06,1127.89 1496.15,1122.91" fill="#1846F0"/>
<line x1="1155.7" y1="732.3" x2="1150.19" y2="778.83" stroke="#560092" stroke-width="2.2" stroke-linecap="butt"/>
<polygon points="1149,788.9 1146.06,775.46 1150.19,778.83 1155,776.52" fill="#560092"/>
<line x1="1198.5" y1="734.2" x2="1180.17" y2="765.92" stroke="#FF0A84" stroke-width="2.2" stroke-linecap="butt"/>
<polygon points="1175.1,774.7 1177.71,761.19 1180.17,765.92 1185.5,765.7" fill="#FF0A84"/>
<line x1="1224.2" y1="854" x2="1220.74" y2="835.04" stroke="#560092" stroke-width="2.2" stroke-linecap="butt"/>
<polygon points="1219.2,826.6 1225.11,836.7 1220.74,835.04 1217.24,838.14" fill="#560092"/>
<line x1="1255.7" y1="844.5" x2="1248.02" y2="821.54" stroke="#E81ACC" stroke-width="2.2" stroke-linecap="butt"/>
<polygon points="1245.3,813.4 1252.58,822.56 1248.02,821.54 1245,825.1" fill="#E81ACC"/>
<line x1="1604.9" y1="1042.4" x2="1570.46" y2="1085.2" stroke="#0E7E0E" stroke-width="2.2" stroke-linecap="butt"/>
<polygon points="1564.1,1093.1 1568.74,1080.15 1570.46,1085.2 1575.76,1085.79" fill="#0E7E0E"/>
<line x1="1621.4" y1="1144.9" x2="1625.67" y2="1115.49" stroke="#0E7E0E" stroke-width="2.2" stroke-linecap="butt"/>
<polygon points="1626.9,1107 1629.28,1118.46 1625.67,1115.49 1621.36,1117.31" fill="#0E7E0E"/>
<line x1="1584.6" y1="1153.7" x2="1554.65" y2="1140.25" stroke="#1846F0" stroke-width="2.2" stroke-linecap="butt"/>
<polygon points="1545.4,1136.1 1559.1,1137.32 1554.65,1140.25 1555.42,1145.53" fill="#1846F0"/>
<text x="896.7" y="704.1" font-family="'Liberation Serif', 'Times New Roman', serif" font-size="38" font-weight="bold" fill="#000" text-anchor="start" textLength="40.3" lengthAdjust="spacingAndGlyphs">(c)</text>
<g transform="translate(918.8,1063.5) rotate(-90)" font-family="'Liberation Serif', 'Times New Roman', serif" font-weight="bold" fill="#000">
<text x="0" y="0" font-size="32.5" textLength="31" lengthAdjust="spacingAndGlyphs">-Z</text>
<text x="31.8" y="13" font-size="19.5" textLength="20.5" lengthAdjust="spacingAndGlyphs">im</text>
<text x="62.2" y="0" font-size="32.5" textLength="98.1" lengthAdjust="spacingAndGlyphs">(kΩ·cm</text>
<text x="161.4" y="-17.6" font-size="20">2</text>
<text x="171" y="0" font-size="32.5" textLength="10" lengthAdjust="spacingAndGlyphs">)</text>
</g>
<g transform="translate(1300.8,1300.4)" font-family="'Liberation Serif', 'Times New Roman', serif" font-weight="bold" fill="#000">
<text x="0" y="0" font-size="30.5" textLength="20.6" lengthAdjust="spacingAndGlyphs">Z</text>
<text x="20.4" y="12.6" font-size="17.5" textLength="7.6" lengthAdjust="spacingAndGlyphs">r</text>
<text x="37.4" y="0" font-size="30.5" textLength="96.5" lengthAdjust="spacingAndGlyphs">(kΩ·cm</text>
<text x="135.2" y="-17.2" font-size="19.5">2</text>
<text x="144.2" y="0" font-size="30.5" textLength="10.6" lengthAdjust="spacingAndGlyphs">)</text>
</g></svg></body></html>
